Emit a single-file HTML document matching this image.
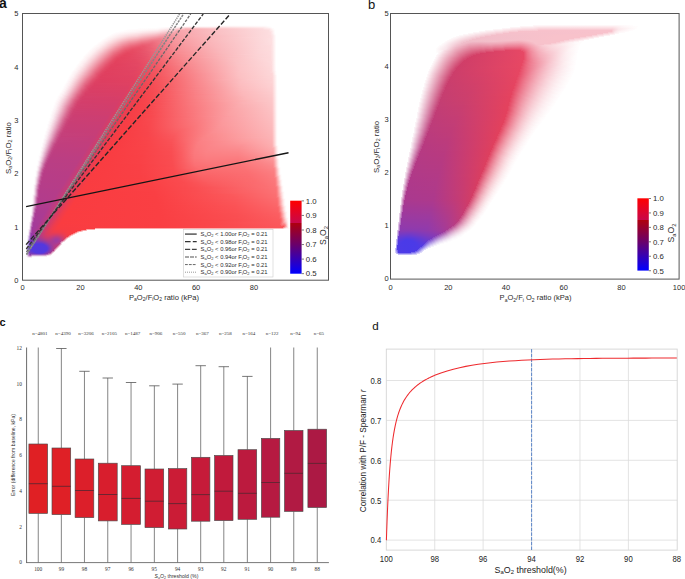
<!DOCTYPE html><html><head><meta charset="utf-8"><style>html,body{margin:0;padding:0;background:#fff;width:685px;height:579px;overflow:hidden;position:relative}svg{display:block;position:absolute;left:0;top:0}text{font-family:"Liberation Sans",sans-serif}i{position:absolute;display:block;height:1px}</style></head><body>
<i style="left:216px;top:25px;width:51px;background:linear-gradient(90deg,#fffbfb 0.5px,#fffdfe 50.5px)"></i>
<i style="left:170px;top:26px;width:101px;background:linear-gradient(90deg,#fffdfe 0.5px,#fef7f7 19.5px,#fef8f9 45.5px,#feeeef 47.5px,#fef7f7 94.5px,#fffdfd 100.5px)"></i>
<i style="left:157px;top:27px;width:115px;background:linear-gradient(90deg,#fffdfe 0.5px,#fef6f7 15.5px,#fde7e8 23.5px,#fde5e7 26.5px,#fcdee1 27.5px,#fcdcdf 30.5px,#fde4e6 58.5px,#fcdbdd 61.5px,#feebec 106.5px,#fffbfc 114.5px)"></i>
<i style="left:138px;top:28px;width:136px;background:linear-gradient(90deg,#fffdfd 0.5px,#fefbfb 19.5px,#fef5f6 24.5px,#fdedef 33.5px,#fcd8db 39.5px,#fbd6d9 40.5px,#fbced2 41.5px,#fbccd0 43.5px,#fbcdd1 45.5px,#fabcc0 47.5px,#fbcbce 78.5px,#fbcbce 84.5px,#fddfe1 124.5px,#fde6e8 126.5px,#feeced 131.5px,#fff9fa 134.5px,#fffbfb 135.5px)"></i>
<i style="left:127px;top:29px;width:148px;background:linear-gradient(90deg,#fffdfe 0.5px,#fffbfb 11.5px,#fef5f6 30.5px,#fdedef 34.5px,#fce1e4 43.5px,#fcdde0 45.5px,#fbd2d6 47.5px,#fac2c7 49.5px,#fac1c6 51.5px,#f9b3b8 53.5px,#f9b6bb 57.5px,#f9adb2 58.5px,#fcd9dc 132.5px,#fcdbdd 135.5px,#fddfe1 137.5px,#fde4e6 142.5px,#fffafa 146.5px,#fffdfd 147.5px)"></i>
<i style="left:124px;top:30px;width:151px;background:linear-gradient(90deg,#fffdfd 0.5px,#fef7f8 14.5px,#fdedef 33.5px,#fce5e8 36.5px,#fbd5da 45.5px,#fac9ce 49.5px,#f8b0b7 52.5px,#f8acb3 53.5px,#f8aeb4 55.5px,#f8a7ad 56.5px,#fac0c4 92.5px,#fcdddf 144.5px,#fffbfb 150.5px)"></i>
<i style="left:119px;top:31px;width:156px;background:linear-gradient(90deg,#fffdfe 0.5px,#fef5f7 16.5px,#fdeef0 23.5px,#fce2e6 38.5px,#fad6db 43.5px,#f9cacf 49.5px,#f8b9bf 54.5px,#f7abb2 56.5px,#f7a3aa 58.5px,#fabdc1 93.5px,#fcdddf 149.5px,#fde6e8 152.5px,#fffbfb 155.5px)"></i>
<i style="left:115px;top:32px;width:160px;background:linear-gradient(90deg,#fffdfe 0.5px,#fdf2f3 16.5px,#fdedef 23.5px,#fce7ea 27.5px,#fbdade 40.5px,#fad2d7 44.5px,#f9c9cf 47.5px,#f8c1c7 51.5px,#f7adb4 57.5px,#f7a5ac 60.5px,#f7a1a8 61.5px,#fabcc0 95.5px,#fcdcde 152.5px,#fddfe1 155.5px,#fffafb 159.5px)"></i>
<i style="left:113px;top:33px;width:162px;background:linear-gradient(90deg,#fffcfd 0.5px,#fdebed 18.5px,#fce2e6 26.5px,#fbdee2 28.5px,#f9ced4 42.5px,#f8c5cc 46.5px,#f8c0c7 47.5px,#f7b8c0 51.5px,#f6a6ae 57.5px,#f6a0a8 60.5px,#f7a2a9 61.5px,#f7a0a7 63.5px,#fabcc0 98.5px,#fcdcde 154.5px,#fddfe1 157.5px,#fff9fa 161.5px)"></i>
<i style="left:111px;top:34px;width:165px;background:linear-gradient(90deg,#fffcfd 0.5px,#fce3e6 20.5px,#fbdde1 26.5px,#fad4d9 30.5px,#f8c2c9 43.5px,#f6acb5 52.5px,#f5a4ad 56.5px,#f69ca4 60.5px,#f7a1a7 66.5px,#fabcc0 102.5px,#fcdcde 156.5px,#fddfe1 159.5px,#fde8ea 161.5px,#fff8f8 163.5px,#fffdfd 164.5px)"></i>
<i style="left:109px;top:35px;width:167px;background:linear-gradient(90deg,#fffdfd 0.5px,#fbe1e5 17.5px,#fad6da 27.5px,#f8c9cf 33.5px,#f7bbc3 41.5px,#f6b2bb 47.5px,#f5a9b3 50.5px,#f49aa4 57.5px,#f597a0 62.5px,#f9acb1 82.5px,#fcdadc 154.5px,#fddddf 161.5px,#fde7e8 163.5px,#fffafb 166.5px)"></i>
<i style="left:107px;top:36px;width:169px;background:linear-gradient(90deg,#fffdfd 0.5px,#fdecee 10.5px,#f9d1d6 24.5px,#f9ccd2 29.5px,#f7bcc4 35.5px,#f5adb7 44.5px,#f4a3ae 49.5px,#f39ca7 52.5px,#f4929c 60.5px,#f9abb0 84.5px,#fcdadc 156.5px,#fddddf 163.5px,#fde5e7 165.5px,#fffafb 168.5px)"></i>
<i style="left:105px;top:37px;width:171px;background:linear-gradient(90deg,#fffdfd 0.5px,#fdf2f3 7.5px,#f9cad0 24.5px,#f7bdc5 32.5px,#f5afb8 38.5px,#f4a3ae 44.5px,#f39faa 46.5px,#f295a2 52.5px,#f2909c 55.5px,#f38d98 60.5px,#f9a5ab 80.5px,#fcd3d6 145.5px,#fddddf 165.5px,#fde5e7 167.5px,#fffafb 170.5px)"></i>
<i style="left:104px;top:38px;width:172px;background:linear-gradient(90deg,#fffdfd 0.5px,#fceaec 9.5px,#f8c1c8 24.5px,#f6b2bb 33.5px,#f5a8b2 36.5px,#f4a2ad 39.5px,#f2929e 48.5px,#f18593 55.5px,#f38b96 62.5px,#f8a1a6 77.5px,#fabec1 115.5px,#fcdbdd 161.5px,#fddfe1 167.5px,#fffafb 171.5px)"></i>
<i style="left:102px;top:39px;width:174px;background:linear-gradient(90deg,#fffdfd 0.5px,#fdeef0 8.5px,#f8c7ce 20.5px,#f6b6be 26.5px,#f4a5af 35.5px,#f39ba7 38.5px,#f2909d 45.5px,#f08593 49.5px,#f08290 54.5px,#f0808d 58.5px,#f89ba1 75.5px,#fabbbf 113.5px,#fcdbdd 163.5px,#fddfe1 169.5px,#fffafb 173.5px)"></i>
<i style="left:101px;top:40px;width:175px;background:linear-gradient(90deg,#fffdfd 0.5px,#fef3f5 5.5px,#fadade 13.5px,#f7bbc3 22.5px,#f5aab3 28.5px,#f39da8 35.5px,#f18d9a 40.5px,#ef7a8a 51.5px,#ef7a89 57.5px,#f8999f 75.5px,#fababd 113.5px,#fcdadc 163.5px,#fddfe1 170.5px,#fffafa 174.5px)"></i>
<i style="left:100px;top:41px;width:176px;background:linear-gradient(90deg,#fffdfd 0.5px,#fdecee 7.5px,#fad3d8 14.5px,#f5b0b9 23.5px,#f39faa 28.5px,#f296a2 33.5px,#f1919e 35.5px,#f08795 39.5px,#ef8190 41.5px,#ee7282 52.5px,#ef7988 59.5px,#f7959c 74.5px,#fab7bb 111.5px,#fcdadc 164.5px,#fddfe0 171.5px,#fffafa 175.5px)"></i>
<i style="left:98px;top:42px;width:178px;background:linear-gradient(90deg,#fffdfd 0.5px,#fef3f5 5.5px,#fad4d9 14.5px,#f5acb6 23.5px,#f1929f 31.5px,#f18b99 35.5px,#ef7d8c 41.5px,#ee7686 43.5px,#ed6c7e 54.5px,#f17d8a 63.5px,#f8979d 78.5px,#fab9bd 117.5px,#fcd9db 165.5px,#fddfe0 173.5px,#fffafa 177.5px)"></i>
<i style="left:97px;top:43px;width:179px;background:linear-gradient(90deg,#fffdfd 0.5px,#fef3f5 5.5px,#fad5da 13.5px,#f39fab 25.5px,#f08695 32.5px,#ef7d8d 37.5px,#ec6b7d 45.5px,#ec677a 54.5px,#f79298 76.5px,#fab4b8 112.5px,#fcd9db 166.5px,#fddee0 174.5px,#fffafa 178.5px)"></i>
<i style="left:96px;top:44px;width:180px;background:linear-gradient(90deg,#fffdfd 0.5px,#fdecee 7.5px,#f5b1ba 20.5px,#f194a1 26.5px,#ee7a8a 34.5px,#ed7385 38.5px,#eb6275 46.5px,#eb6376 53.5px,#f79197 77.5px,#fab4b8 114.5px,#fcd8db 166.5px,#fddee0 175.5px,#fffafa 179.5px)"></i>
<i style="left:94px;top:45px;width:182px;background:linear-gradient(90deg,#fffdfd 0.5px,#fef4f5 5.5px,#fbe3e6 10.5px,#f08796 29.5px,#ed6f81 36.5px,#ec677a 41.5px,#ea5b70 48.5px,#eb6074 55.5px,#f78e95 78.5px,#fab0b5 112.5px,#fcd8da 167.5px,#fddbdd 176.5px,#fde4e6 178.5px,#fffafa 181.5px)"></i>
<i style="left:93px;top:46px;width:183px;background:linear-gradient(90deg,#fffdfd 0.5px,#fef4f5 5.5px,#fad8dd 12.5px,#f3a3ae 22.5px,#ee7c8d 30.5px,#eb6578 38.5px,#ea5a6f 45.5px,#e9576c 50.5px,#ed6b7d 62.5px,#f78e94 80.5px,#fab5b9 120.5px,#fcd8da 169.5px,#fddbdd 177.5px,#fde4e6 179.5px,#fffafa 182.5px)"></i>
<i style="left:92px;top:47px;width:184px;background:linear-gradient(90deg,#fffdfd 0.5px,#fdedef 7.5px,#f9d1d7 13.5px,#f29aa7 23.5px,#ec7082 32.5px,#ea5c71 39.5px,#e9546a 46.5px,#e9586d 53.5px,#f78e94 82.5px,#fab7bb 124.5px,#fcd7da 169.5px,#fddbdd 178.5px,#fde4e5 180.5px,#fffafa 183.5px)"></i>
<i style="left:91px;top:48px;width:185px;background:linear-gradient(90deg,#fffdfd 0.5px,#fcecee 7.5px,#f8cbd1 14.5px,#f08b9a 25.5px,#eb677a 33.5px,#e8546a 41.5px,#e85167 48.5px,#ea6175 60.5px,#f78c92 82.5px,#fab5b9 124.5px,#fcd7d9 170.5px,#fddbdd 179.5px,#fde4e5 181.5px,#fffafa 184.5px)"></i>
<i style="left:90px;top:49px;width:186px;background:linear-gradient(90deg,#fffdfd 0.5px,#fdeef0 6.5px,#fad9de 11.5px,#f29eab 21.5px,#eb6c7f 31.5px,#e95d72 35.5px,#e84e65 42.5px,#e85067 50.5px,#ed687a 65.5px,#f78c92 84.5px,#fab6ba 127.5px,#fcd7d9 170.5px,#fddbdd 180.5px,#fde4e5 182.5px,#fffafa 185.5px)"></i>
<i style="left:89px;top:50px;width:187px;background:linear-gradient(90deg,#fffcfc 0.5px,#fdf1f3 5.5px,#f9d4d9 12.5px,#ef8595 25.5px,#ea6378 32.5px,#e8556b 36.5px,#e74b63 43.5px,#e85269 53.5px,#f06f7e 70.5px,#f88d93 87.5px,#fab7bb 130.5px,#fcd6d8 171.5px,#fddbdc 181.5px,#fde4e5 183.5px,#fffafa 186.5px)"></i>
<i style="left:88px;top:51px;width:188px;background:linear-gradient(90deg,#fffdfd 0.5px,#fdeef0 6.5px,#f7c7cf 14.5px,#ee8192 25.5px,#e95d72 33.5px,#e74e66 38.5px,#e64a62 44.5px,#e8576d 58.5px,#f7898f 86.5px,#fab6ba 130.5px,#fcd6d8 172.5px,#fddadc 182.5px,#fde3e5 184.5px,#fffafa 187.5px)"></i>
<i style="left:87px;top:52px;width:189px;background:linear-gradient(90deg,#fffdfd 0.5px,#fdeef0 6.5px,#f7c6ce 14.5px,#ed798b 26.5px,#e96176 31.5px,#e96075 32.5px,#e7536a 35.5px,#e64961 40.5px,#e64a62 47.5px,#e95c71 63.5px,#f7858b 85.5px,#fab5b8 130.5px,#fcd5d8 172.5px,#fddadc 183.5px,#fde3e5 185.5px,#fffafa 188.5px)"></i>
<i style="left:86px;top:53px;width:190px;background:linear-gradient(90deg,#fffdfd 0.5px,#fdf1f3 5.5px,#fadbe0 10.5px,#f29fac 20.5px,#eb7184 27.5px,#e8586f 33.5px,#e64c64 37.5px,#e5465f 41.5px,#e75169 57.5px,#f16e7a 74.5px,#f88b90 91.5px,#fab8bc 136.5px,#fcd5d7 173.5px,#fddadc 184.5px,#fde3e5 186.5px,#fffafa 189.5px)"></i>
<i style="left:85px;top:54px;width:191px;background:linear-gradient(90deg,#fffdfd 0.5px,#fdeef0 6.5px,#f8d0d7 12.5px,#e9657a 29.5px,#e75169 34.5px,#e54760 39.5px,#e54660 45.5px,#e8566d 62.5px,#f77e84 84.5px,#f99da2 110.5px,#fccbce 159.5px,#fddadc 185.5px,#fde3e4 187.5px,#fffafa 190.5px)"></i>
<i style="left:84px;top:55px;width:192px;background:linear-gradient(90deg,#fffdfd 0.5px,#fdeef0 6.5px,#f7c9d1 13.5px,#e96378 29.5px,#e64c65 35.5px,#e5445e 40.5px,#e64e67 57.5px,#ee6474 72.5px,#f78187 88.5px,#fab5b8 135.5px,#fcd4d6 174.5px,#fddadc 186.5px,#fde3e4 188.5px,#fffafa 191.5px)"></i>
<i style="left:83px;top:56px;width:193px;background:linear-gradient(90deg,#fffdfd 0.5px,#fdeef0 6.5px,#f9d5db 11.5px,#f19caa 20.5px,#e96278 29.5px,#e65069 33.5px,#e54660 38.5px,#e5455f 45.5px,#e7536b 63.5px,#f6767d 83.5px,#f89095 102.5px,#fbbfc3 148.5px,#fcd7d9 180.5px,#fdd9db 187.5px,#fde3e4 189.5px,#fffafa 192.5px)"></i>
<i style="left:83px;top:57px;width:193px;background:linear-gradient(90deg,#fffcfc 0.5px,#fce9ec 6.5px,#f8d0d7 11.5px,#e86178 28.5px,#e54b65 33.5px,#e4435e 38.5px,#e54b65 56.5px,#ec5d6f 70.5px,#f77a80 86.5px,#faa7ab 123.5px,#fcd0d2 169.5px,#fdd9db 187.5px,#fde3e4 189.5px,#fffafa 192.5px)"></i>
<i style="left:82px;top:58px;width:194px;background:linear-gradient(90deg,#fffdfd 0.5px,#fceef0 5.5px,#f8d0d7 11.5px,#ea6c82 26.5px,#e54e67 32.5px,#e44560 35.5px,#e4435e 42.5px,#e64f68 61.5px,#f36873 78.5px,#f8868c 97.5px,#fbbec1 148.5px,#fcd6d8 180.5px,#fdd9db 188.5px,#fde2e4 190.5px,#fffafa 193.5px)"></i>
<i style="left:81px;top:59px;width:195px;background:linear-gradient(90deg,#fffdfd 0.5px,#fdeff2 5.5px,#f6c4cc 13.5px,#ea6c81 26.5px,#e54e67 32.5px,#e4435e 36.5px,#e44862 54.5px,#ea576b 69.5px,#f67077 84.5px,#f88d93 105.5px,#fbc1c4 153.5px,#fdd7d9 184.5px,#fdd9db 189.5px,#fde2e4 191.5px,#fffafa 194.5px)"></i>
<i style="left:80px;top:60px;width:196px;background:linear-gradient(90deg,#fffdfd 0.5px,#fdf0f2 5.5px,#f8d0d7 11.5px,#e96b81 26.5px,#e54d67 32.5px,#e3425e 36.5px,#e44762 54.5px,#e9546a 69.5px,#f56b73 83.5px,#f8898e 103.5px,#fbc1c4 154.5px,#fdd7d9 185.5px,#fdd9da 190.5px,#fde2e3 192.5px,#fffafa 195.5px)"></i>
<i style="left:79px;top:61px;width:197px;background:linear-gradient(90deg,#fffdfd 0.5px,#fcecef 6.5px,#f8d1d8 11.5px,#e96b81 26.5px,#e54d67 32.5px,#e3425e 36.5px,#e44662 55.5px,#e95268 69.5px,#f56871 83.5px,#f8888d 104.5px,#fbc2c4 156.5px,#fdd7d9 187.5px,#fddbdd 192.5px,#fffafa 196.5px)"></i>
<i style="left:79px;top:62px;width:197px;background:linear-gradient(90deg,#fffcfc 0.5px,#fcedef 5.5px,#f8d2d9 10.5px,#e96a81 25.5px,#e44c67 31.5px,#e3415e 36.5px,#e44863 58.5px,#eb5468 71.5px,#f66971 84.5px,#f8898e 106.5px,#fbc3c6 158.5px,#fdd7d9 188.5px,#fddbdd 192.5px,#fffafa 196.5px)"></i>
<i style="left:78px;top:63px;width:198px;background:linear-gradient(90deg,#fffdfd 0.5px,#fdf0f3 4.5px,#f9d9df 9.5px,#e96a81 25.5px,#e44c67 31.5px,#e2415e 36.5px,#e34763 59.5px,#eb5467 72.5px,#f5666e 84.5px,#f8898e 108.5px,#fbc4c7 160.5px,#fdd7d9 190.5px,#fddbdd 193.5px,#fffafa 197.5px)"></i>
<i style="left:77px;top:64px;width:199px;background:linear-gradient(90deg,#fffdfd 0.5px,#fdeff1 5.5px,#f6c7cf 12.5px,#ea778c 23.5px,#e5546e 29.5px,#e34360 34.5px,#e2405e 40.5px,#e44965 63.5px,#f35d68 80.5px,#f77e84 101.5px,#fbc2c4 159.5px,#fdd6d8 189.5px,#fdd8da 193.5px,#fde1e3 195.5px,#fffafa 198.5px)"></i>
<i style="left:76px;top:65px;width:200px;background:linear-gradient(90deg,#fffdfd 0.5px,#fdf0f2 5.5px,#f9dae0 9.5px,#f2abb8 16.5px,#ea778c 23.5px,#e5546f 29.5px,#e24360 34.5px,#e2405e 40.5px,#e44964 64.5px,#f35c67 81.5px,#f8868b 109.5px,#fcc3c6 162.5px,#fdd7d9 192.5px,#fddadc 195.5px,#fffafa 199.5px)"></i>
<i style="left:76px;top:66px;width:200px;background:linear-gradient(90deg,#fffcfc 0.5px,#fbe8eb 6.5px,#f5c1cb 12.5px,#e86a81 24.5px,#e34c67 30.5px,#e2405e 35.5px,#e34663 60.5px,#ec5163 73.5px,#f56068 84.5px,#f8898f 113.5px,#fcc4c6 163.5px,#fdd7d9 193.5px,#fddadc 195.5px,#fffafa 199.5px)"></i>
<i style="left:75px;top:67px;width:201px;background:linear-gradient(90deg,#fffdfd 0.5px,#fdf0f2 4.5px,#f9d8de 9.5px,#e86a81 24.5px,#e34b68 30.5px,#e1405e 35.5px,#e24562 60.5px,#eb4f62 73.5px,#f55e66 84.5px,#f88b90 116.5px,#fcc3c6 164.5px,#fdd7d8 194.5px,#fddadc 196.5px,#fff9fa 200.5px)"></i>
<i style="left:74px;top:68px;width:202px;background:linear-gradient(90deg,#fffdfd 0.5px,#fceef1 5.5px,#f7ccd4 11.5px,#e86a82 24.5px,#e34b68 30.5px,#e1405e 35.5px,#e24562 61.5px,#eb4f61 74.5px,#f55d65 85.5px,#f88d92 119.5px,#fcc3c6 165.5px,#fdd6d8 195.5px,#fddadb 197.5px,#fff9fa 201.5px)"></i>
<i style="left:74px;top:69px;width:202px;background:linear-gradient(90deg,#fefcfc 0.5px,#fcebee 5.5px,#f6c7d0 11.5px,#ea798e 21.5px,#e4546f 27.5px,#e14361 32.5px,#e13f5e 38.5px,#e34763 65.5px,#f45861 82.5px,#f98e93 121.5px,#fcc3c6 165.5px,#fdd6d8 195.5px,#fdd9db 197.5px,#fff9fa 201.5px)"></i>
<i style="left:73px;top:70px;width:203px;background:linear-gradient(90deg,#fffcfd 0.5px,#fdf4f6 3.5px,#f8d5dc 9.5px,#f0a1b0 16.5px,#e86b83 23.5px,#e24b68 29.5px,#e1405f 34.5px,#e14463 62.5px,#f3545f 81.5px,#f6646b 92.5px,#f99b9f 133.5px,#fcc3c6 167.5px,#fdd6d8 197.5px,#fdd9db 198.5px,#fff9fa 202.5px)"></i>
<i style="left:72px;top:71px;width:205px;background:linear-gradient(90deg,#fffcfd 0.5px,#fcedf0 5.5px,#f6c9d2 11.5px,#e76c84 23.5px,#e24b68 29.5px,#e0405f 33.5px,#e14362 60.5px,#e84a60 72.5px,#f5565f 84.5px,#f99397 128.5px,#fcc2c5 167.5px,#fdd5d7 197.5px,#fdd9da 199.5px,#fffdfe 204.5px)"></i>
<i style="left:71px;top:72px;width:206px;background:linear-gradient(90deg,#fffdfe 0.5px,#fceef1 5.5px,#f7d0d8 10.5px,#ed8ea0 19.5px,#e6667f 24.5px,#e24b69 29.5px,#e04060 33.5px,#e14362 61.5px,#e9495f 73.5px,#f5565e 85.5px,#f99398 130.5px,#fcc2c4 168.5px,#fdd5d7 198.5px,#fddcde 201.5px,#fff8f8 204.5px,#fffdfd 205.5px)"></i>
<i style="left:71px;top:73px;width:206px;background:linear-gradient(90deg,#fffcfd 0.5px,#fdf3f5 3.5px,#f9dae0 8.5px,#e45a75 25.5px,#e14463 30.5px,#e03f5f 35.5px,#e24562 66.5px,#f4535c 83.5px,#f77278 105.5px,#fcc0c3 167.5px,#fdd4d6 197.5px,#fdd5d7 200.5px,#fdd9db 201.5px,#fff7f7 204.5px,#fffdfd 205.5px)"></i>
<i style="left:70px;top:74px;width:207px;background:linear-gradient(90deg,#fffdfe 0.5px,#fcecef 5.5px,#f4bfca 12.5px,#e87289 22.5px,#e35572 26.5px,#e04464 30.5px,#e03f5f 34.5px,#e24462 66.5px,#f4515b 83.5px,#f7656c 98.5px,#f9969b 135.5px,#fcc0c3 168.5px,#fdd4d6 198.5px,#fdd5d7 201.5px,#fdd9da 202.5px,#fff6f6 205.5px,#fffcfc 206.5px)"></i>
<i style="left:69px;top:75px;width:208px;background:linear-gradient(90deg,#fffdfe 0.5px,#fdf3f5 4.5px,#f8d5dc 9.5px,#efa1b1 16.5px,#e76b84 23.5px,#e14867 29.5px,#df3f60 33.5px,#e14362 65.5px,#f4515a 84.5px,#f76c72 104.5px,#fcc0c2 169.5px,#fdd4d5 199.5px,#fdd5d6 202.5px,#fdd8da 203.5px,#fff9f9 207.5px)"></i>
<i style="left:69px;top:76px;width:208px;background:linear-gradient(90deg,#fffcfd 0.5px,#fdf0f3 4.5px,#f6c9d2 10.5px,#e66b84 22.5px,#e14b69 28.5px,#df4060 31.5px,#e04262 62.5px,#ed495a 76.5px,#f6525a 86.5px,#f99196 133.5px,#fcc0c3 170.5px,#fdd3d5 200.5px,#fdd7d9 203.5px,#fff9f9 207.5px)"></i>
<i style="left:68px;top:77px;width:209px;background:linear-gradient(90deg,#fffdfe 0.5px,#fcedf0 5.5px,#f8d3db 9.5px,#e66c85 22.5px,#e14b6a 28.5px,#df3f60 32.5px,#e04262 65.5px,#f44e58 83.5px,#f65d64 96.5px,#f98d92 131.5px,#fcc0c2 171.5px,#fdd3d5 200.5px,#fdd4d6 203.5px,#fdd7d9 204.5px,#fff9f9 208.5px)"></i>
<i style="left:68px;top:78px;width:209px;background:linear-gradient(90deg,#fffcfd 0.5px,#fdf2f5 3.5px,#f8d6dd 8.5px,#e97b92 19.5px,#e25472 25.5px,#df4263 30.5px,#df3e60 36.5px,#e14261 66.5px,#f44e57 83.5px,#f76167 99.5px,#f98c91 131.5px,#fcbfc2 171.5px,#fdd2d4 200.5px,#fdd3d5 203.5px,#fdd7d8 204.5px,#fff9f9 208.5px)"></i>
<i style="left:67px;top:79px;width:210px;background:linear-gradient(90deg,#fffdfe 0.5px,#fcebef 5.5px,#f4c1cc 11.5px,#e97c93 19.5px,#e25472 25.5px,#df4465 29.5px,#de3e60 33.5px,#e14261 66.5px,#f44c56 83.5px,#f65c63 97.5px,#f98a8f 131.5px,#fbb0b3 159.5px,#fcc6c9 181.5px,#fdd3d5 204.5px,#fdd6d8 205.5px,#fff9f9 209.5px)"></i>
<i style="left:67px;top:80px;width:210px;background:linear-gradient(90deg,#fefcfd 0.5px,#fdf2f4 3.5px,#f9dbe1 7.5px,#e66e88 20.5px,#e1506f 25.5px,#df4263 29.5px,#de3e60 35.5px,#e04161 65.5px,#f44c55 83.5px,#f76066 100.5px,#f9898e 130.5px,#fba9ad 155.5px,#fcc2c4 176.5px,#fdd2d4 204.5px,#fdd6d7 205.5px,#fff9f9 209.5px)"></i>
<i style="left:66px;top:81px;width:211px;background:linear-gradient(90deg,#fffdfe 0.5px,#fbeaee 5.5px,#f5c6d0 10.5px,#e66f89 20.5px,#e15070 25.5px,#de4264 29.5px,#de3e61 35.5px,#e04161 66.5px,#f44b54 83.5px,#f65a61 97.5px,#f9888d 131.5px,#faa7aa 155.5px,#fcbfc2 175.5px,#fdd2d3 204.5px,#fdd5d7 206.5px,#fff9f9 210.5px)"></i>
<i style="left:66px;top:82px;width:211px;background:linear-gradient(90deg,#fefcfc 0.5px,#fdf1f4 3.5px,#f8d9e0 7.5px,#e6718b 19.5px,#e05170 24.5px,#de4264 28.5px,#dd3e61 34.5px,#df4161 65.5px,#f44a53 82.5px,#f6565c 94.5px,#f9888d 131.5px,#faa5a8 154.5px,#fcbec1 174.5px,#fdd1d3 203.5px,#fdd5d6 206.5px,#fff9f9 210.5px)"></i>
<i style="left:65px;top:83px;width:212px;background:linear-gradient(90deg,#fffdfd 0.5px,#fbeaed 5.5px,#f3bbc7 11.5px,#e6718b 19.5px,#df4c6d 25.5px,#dd4063 29.5px,#df4162 65.5px,#f44952 83.5px,#f75960 98.5px,#f9868b 131.5px,#faa2a6 154.5px,#fcbdc0 175.5px,#fdd0d2 204.5px,#fdd1d3 206.5px,#fdd4d6 207.5px,#fff9f9 211.5px)"></i>
<i style="left:64px;top:84px;width:213px;background:linear-gradient(90deg,#fffdfe 0.5px,#fcf1f4 4.5px,#f8d8df 8.5px,#ec99ac 15.5px,#e36481 21.5px,#de496b 26.5px,#dc3f63 30.5px,#df4162 66.5px,#f44852 83.5px,#f6555c 96.5px,#f9868b 132.5px,#faa2a5 155.5px,#fcbdbf 176.5px,#fdd0d1 205.5px,#fdd0d2 207.5px,#fdd4d5 208.5px,#fff9f9 212.5px)"></i>
<i style="left:64px;top:85px;width:213px;background:linear-gradient(90deg,#fffdfd 0.5px,#fbe9ed 5.5px,#f4c2cd 10.5px,#e46e89 19.5px,#e05777 22.5px,#dd4568 26.5px,#dc3e63 30.5px,#de4062 65.5px,#f44751 82.5px,#f65158 93.5px,#f9868b 133.5px,#faa1a5 155.5px,#fcbcbf 176.5px,#fdcfd1 205.5px,#fdd0d2 207.5px,#fdd3d5 208.5px,#fff8f9 212.5px)"></i>
<i style="left:63px;top:86px;width:214px;background:linear-gradient(90deg,#fffdfe 0.5px,#fdf5f7 3.5px,#f7d6de 8.5px,#e8839b 17.5px,#e05979 22.5px,#dd496c 25.5px,#db3f64 29.5px,#dd4063 65.5px,#f44750 83.5px,#f6545b 97.5px,#f98489 132.5px,#fa9fa2 155.5px,#fcbabd 176.5px,#fdced0 205.5px,#fdcfd1 208.5px,#fdd3d4 209.5px,#fff8f9 213.5px)"></i>
<i style="left:63px;top:87px;width:214px;background:linear-gradient(90deg,#fffdfd 0.5px,#fcedf1 4.5px,#f3c0cc 10.5px,#e5738f 18.5px,#dd496d 24.5px,#db3f64 28.5px,#dc4063 64.5px,#f44650 82.5px,#f65057 94.5px,#f98489 133.5px,#fa9fa3 156.5px,#fcbbbd 177.5px,#fdced0 206.5px,#fdced0 208.5px,#fdd2d4 209.5px,#fff8f9 213.5px)"></i>
<i style="left:62px;top:88px;width:215px;background:linear-gradient(90deg,#fffdfe 0.5px,#fdf5f7 3.5px,#f7d4dd 8.5px,#e36e8a 19.5px,#de5375 23.5px,#db4267 26.5px,#da3e64 31.5px,#dc4063 65.5px,#f4454f 82.5px,#f64d54 92.5px,#f86d73 116.5px,#f9888d 138.5px,#faa2a5 159.5px,#fcbcbe 180.5px,#fdced0 209.5px,#fdd1d3 210.5px,#fff8f8 214.5px)"></i>
<i style="left:62px;top:89px;width:215px;background:linear-gradient(90deg,#fffdfd 0.5px,#fbedf0 4.5px,#f4c6d1 9.5px,#e16785 19.5px,#dc4d71 23.5px,#da3f65 27.5px,#dc4064 64.5px,#f4454f 82.5px,#f64f56 94.5px,#f98388 133.5px,#fa9da0 156.5px,#fcb9bc 178.5px,#fdccce 207.5px,#fdcdcf 209.5px,#fdd1d3 210.5px,#fff8f8 214.5px)"></i>
<i style="left:61px;top:90px;width:217px;background:linear-gradient(90deg,#fffdfe 0.5px,#fdf5f7 3.5px,#f6d3dc 8.5px,#e06181 20.5px,#db4a6e 24.5px,#d93f66 28.5px,#db3f64 64.5px,#f4444e 82.5px,#f64d54 93.5px,#f86d73 117.5px,#f9878c 139.5px,#faa0a4 160.5px,#fcbabd 181.5px,#fdcdcf 210.5px,#fdd0d2 211.5px,#fff8f8 215.5px,#fffdfe 216.5px)"></i>
<i style="left:61px;top:91px;width:217px;background:linear-gradient(90deg,#fffdfd 0.5px,#fbecf0 4.5px,#f3c4d0 9.5px,#e47692 17.5px,#dd5577 21.5px,#d94369 25.5px,#d93e66 30.5px,#db3f64 64.5px,#f4444d 82.5px,#f64e55 95.5px,#f98287 134.5px,#fa9b9f 157.5px,#fcb7ba 179.5px,#fccbcd 208.5px,#fdccce 210.5px,#fdd0d1 211.5px,#fff8f8 215.5px,#fffdfe 216.5px)"></i>
<i style="left:60px;top:92px;width:218px;background:linear-gradient(90deg,#fffdfd 0.5px,#fdf4f7 3.5px,#f6d1db 8.5px,#e6829c 16.5px,#dc5074 22.5px,#d9436a 25.5px,#d83e66 30.5px,#da3f65 64.5px,#f4444d 82.5px,#f64b52 93.5px,#f8696f 116.5px,#f98489 138.5px,#fa9ea2 160.5px,#fcb8bb 182.5px,#fdcbcd 211.5px,#fdcfd1 212.5px,#fff8f8 216.5px,#fffdfe 217.5px)"></i>
<i style="left:59px;top:93px;width:219px;background:linear-gradient(90deg,#fffdfe 0.5px,#fcf1f4 4.5px,#f8dde4 7.5px,#eeadbf 12.5px,#e2728f 18.5px,#db4e73 23.5px,#d84068 26.5px,#d93f66 64.5px,#f4434d 82.5px,#f64950 92.5px,#f86369 113.5px,#f98186 136.5px,#fa9ca0 160.5px,#fcb8ba 183.5px,#fdcbcd 212.5px,#fdced0 213.5px,#fff8f8 217.5px,#fffdfd 218.5px)"></i>
<i style="left:59px;top:94px;width:219px;background:linear-gradient(90deg,#fffdfd 0.5px,#fae7ec 5.5px,#f5d0da 8.5px,#e892a9 14.5px,#e06b8a 18.5px,#da4f74 22.5px,#d73f68 26.5px,#d93f65 64.5px,#f4434c 82.5px,#f64b52 94.5px,#f86e73 120.5px,#fa8b90 147.5px,#fcb6b9 182.5px,#fccacc 212.5px,#fdced0 213.5px,#fff8f8 217.5px,#fffdfd 218.5px)"></i>
<i style="left:58px;top:95px;width:220px;background:linear-gradient(90deg,#fffdfd 0.5px,#fdf4f7 3.5px,#f6d2dc 8.5px,#edabbd 12.5px,#df6486 19.5px,#d94b71 23.5px,#d73f68 27.5px,#d93f66 64.5px,#f4424c 82.5px,#f6484f 92.5px,#f86268 113.5px,#f98085 137.5px,#fa9b9f 161.5px,#fcb7ba 185.5px,#fcc9cb 213.5px,#fdcdcf 214.5px,#fff8f8 218.5px,#fffdfd 219.5px)"></i>
<i style="left:57px;top:96px;width:221px;background:linear-gradient(90deg,#fffdfe 0.5px,#fcf1f4 4.5px,#fae5eb 6.5px,#eca5b8 13.5px,#dd5f81 20.5px,#d94b72 23.5px,#d6406a 26.5px,#d83f67 64.5px,#f5424b 83.5px,#f74a51 96.5px,#f97f84 137.5px,#fa9ca0 163.5px,#fcb8ba 188.5px,#fcc9cb 214.5px,#fdcdcf 215.5px,#fff7f8 219.5px,#fffdfd 220.5px)"></i>
<i style="left:57px;top:97px;width:221px;background:linear-gradient(90deg,#fffdfd 0.5px,#fae7ec 5.5px,#f5d1db 8.5px,#df6b8c 18.5px,#d84c73 22.5px,#d6406a 25.5px,#d63e69 54.5px,#d83f67 64.5px,#f4414b 82.5px,#f7484f 93.5px,#f86268 114.5px,#f98084 138.5px,#fa9da0 164.5px,#fcb9bb 190.5px,#fcc8ca 214.5px,#fdccce 215.5px,#fff7f8 219.5px,#fffdfd 220.5px)"></i>
<i style="left:56px;top:98px;width:222px;background:linear-gradient(90deg,#fffdfe 0.5px,#fdf5f7 3.5px,#f7dbe3 7.5px,#efb7c7 11.5px,#e68ba5 15.5px,#de6688 19.5px,#d6436d 24.5px,#d53e69 28.5px,#d73f67 64.5px,#f4414b 82.5px,#f6464d 92.5px,#f75c62 111.5px,#f97d82 137.5px,#fa9b9f 164.5px,#fcb7ba 190.5px,#fcc7c9 215.5px,#fdcbcd 216.5px,#fff7f8 220.5px,#fffdfd 221.5px)"></i>
<i style="left:56px;top:99px;width:222px;background:linear-gradient(90deg,#fffdfd 0.5px,#fbecf1 4.5px,#f2c4d1 9.5px,#e99cb2 13.5px,#e27997 16.5px,#dc5e82 19.5px,#d64670 23.5px,#d53e6a 26.5px,#d63e68 63.5px,#f5414a 82.5px,#f7474e 94.5px,#f8656a 117.5px,#f98387 143.5px,#fcb5b7 188.5px,#fcc7c9 215.5px,#fdcbcd 216.5px,#fff7f8 220.5px,#fffdfd 221.5px)"></i>
<i style="left:55px;top:100px;width:223px;background:linear-gradient(90deg,#fffdfe 0.5px,#fdf4f7 3.5px,#f5d1dc 8.5px,#ecaabd 12.5px,#dc6084 19.5px,#d74c75 22.5px,#d4406c 25.5px,#d43e6a 46.5px,#d63e68 64.5px,#f4404a 82.5px,#f7464d 93.5px,#f85d63 113.5px,#f97f83 140.5px,#fba1a4 170.5px,#fcc0c2 204.5px,#fcc6c8 216.5px,#fdcacc 217.5px,#fff7f7 221.5px,#fffdfd 222.5px)"></i>
<i style="left:55px;top:101px;width:223px;background:linear-gradient(90deg,#fffdfd 0.5px,#fbecf0 4.5px,#f1c3d1 9.5px,#df6f90 17.5px,#d8537a 20.5px,#d5436f 23.5px,#d43e6b 27.5px,#d63e69 63.5px,#f4404a 81.5px,#f7444b 90.5px,#f7565d 108.5px,#f97b80 137.5px,#fb9ea1 168.5px,#fcbec0 202.5px,#fcc6c8 216.5px,#fdcacc 217.5px,#fff7f7 221.5px,#fffdfd 222.5px)"></i>
<i style="left:54px;top:102px;width:224px;background:linear-gradient(90deg,#fffdfe 0.5px,#fdf4f7 3.5px,#f4d1db 8.5px,#db6085 19.5px,#d4446f 23.5px,#d33e6b 27.5px,#d53e6a 63.5px,#f54049 82.5px,#f7464c 94.5px,#f85f65 115.5px,#f98185 144.5px,#fbb1b4 188.5px,#fcc5c7 217.5px,#fdc9cb 218.5px,#fff7f7 222.5px,#fffdfd 223.5px)"></i>
<i style="left:54px;top:103px;width:224px;background:linear-gradient(90deg,#fffdfe 0.5px,#fbecf0 4.5px,#f7dde5 6.5px,#ecacc0 11.5px,#dd6e90 17.5px,#d7527b 20.5px,#d4436f 23.5px,#d33e6c 26.5px,#d43e6a 62.5px,#eb3f52 75.5px,#f64048 83.5px,#f74b52 100.5px,#f9797e 137.5px,#fcb1b4 189.5px,#fcc5c7 217.5px,#fdc9cb 218.5px,#fff7f7 222.5px,#fffdfd 223.5px)"></i>
<i style="left:54px;top:104px;width:224px;background:linear-gradient(90deg,#fefdfd 0.5px,#fbeff3 3.5px,#f4d1dc 7.5px,#dc678c 17.5px,#d54974 21.5px,#d3406e 23.5px,#d23e6c 39.5px,#d43e6a 62.5px,#f43f49 80.5px,#f74249 89.5px,#f75359 106.5px,#f9797e 137.5px,#fbafb1 187.5px,#fcc4c6 217.5px,#fdc8ca 218.5px,#fff7f7 222.5px,#fffdfd 223.5px)"></i>
<i style="left:53px;top:105px;width:225px;background:linear-gradient(90deg,#fffdfe 0.5px,#fcf4f7 3.5px,#f7dee6 6.5px,#eeb7c9 10.5px,#e694ae 13.5px,#dc6b8f 17.5px,#d54c77 21.5px,#d23f6d 24.5px,#d33e6b 62.5px,#f53f48 81.5px,#f7444b 93.5px,#f85a60 112.5px,#f97f83 144.5px,#fbacaf 186.5px,#fcc4c6 218.5px,#fdc8ca 219.5px,#fff7f7 223.5px,#fffdfd 224.5px)"></i>
<i style="left:53px;top:106px;width:225px;background:linear-gradient(90deg,#fffdfe 0.5px,#fcf0f4 3.5px,#f7dbe4 6.5px,#e48faa 13.5px,#df7899 15.5px,#d75780 19.5px,#d24371 22.5px,#d13e6d 26.5px,#d23e6c 61.5px,#e63e57 72.5px,#f53f48 81.5px,#f7464d 96.5px,#f97a7f 140.5px,#fbabae 185.5px,#fcc3c5 218.5px,#fdc7c9 219.5px,#fff7f7 223.5px,#fffdfd 224.5px)"></i>
<i style="left:53px;top:107px;width:225px;background:linear-gradient(90deg,#fefdfd 0.5px,#fbeff3 3.5px,#f1c4d2 8.5px,#e38aa7 13.5px,#db688d 16.5px,#d5517c 19.5px,#d13f6e 23.5px,#d33e6b 61.5px,#f53f48 80.5px,#f7444b 93.5px,#f85b61 113.5px,#fba8ab 182.5px,#fcc3c5 218.5px,#fdc7c9 219.5px,#fff7f7 223.5px,#fffdfd 224.5px)"></i>
<i style="left:52px;top:108px;width:226px;background:linear-gradient(90deg,#fffdfe 0.5px,#fcf3f6 3.5px,#f4d3de 7.5px,#e79db5 12.5px,#de789a 15.5px,#d5527d 19.5px,#d14372 22.5px,#d03e6e 26.5px,#d23e6c 61.5px,#e83e54 73.5px,#f63f47 81.5px,#f7464d 97.5px,#f9777c 139.5px,#fba7aa 183.5px,#fcc2c4 219.5px,#fdc7c9 220.5px,#fff7f7 224.5px,#fffdfd 225.5px)"></i>
<i style="left:52px;top:109px;width:226px;background:linear-gradient(90deg,#fffdfe 0.5px,#fbf0f4 3.5px,#f8e3ea 5.5px,#eebacb 9.5px,#da698e 16.5px,#d24977 20.5px,#d04070 22.5px,#d03e6f 38.5px,#d13e6d 60.5px,#e33e5a 70.5px,#f53f47 80.5px,#f7454b 95.5px,#f9797e 141.5px,#fba5a8 181.5px,#fcc2c4 219.5px,#fdc6c8 220.5px,#fff7f7 224.5px,#fffdfd 225.5px)"></i>
<i style="left:52px;top:110px;width:226px;background:linear-gradient(90deg,#fefcfd 0.5px,#fbeef2 3.5px,#f2cdd9 7.5px,#de7b9c 14.5px,#d4537e 18.5px,#d04372 21.5px,#cf3e6f 24.5px,#d13e6d 60.5px,#f53e47 79.5px,#f74349 92.5px,#f8565c 110.5px,#fba4a7 180.5px,#fcc1c3 219.5px,#fdc6c8 220.5px,#fff6f7 224.5px,#fffdfd 225.5px)"></i>
<i style="left:51px;top:111px;width:227px;background:linear-gradient(90deg,#fefdfd 0.5px,#fcf3f6 3.5px,#f6dbe4 6.5px,#ecb2c5 10.5px,#da6a90 16.5px,#d14978 20.5px,#cf4071 22.5px,#cf3e70 38.5px,#d03e6e 60.5px,#e63e57 71.5px,#f63e46 80.5px,#f7454b 96.5px,#f9757a 139.5px,#fba3a6 180.5px,#fcc1c3 220.5px,#fdc5c7 221.5px,#fff6f7 225.5px,#fffdfd 226.5px)"></i>
<i style="left:51px;top:112px;width:227px;background:linear-gradient(90deg,#fefdfd 0.5px,#fbeff3 3.5px,#f5d8e2 6.5px,#e494b0 12.5px,#db7196 15.5px,#d35380 18.5px,#cf4373 21.5px,#ce3e70 24.5px,#cf3e6f 59.5px,#e23e5a 69.5px,#f43e48 78.5px,#f74047 87.5px,#f84d53 104.5px,#f97075 134.5px,#fba2a5 179.5px,#fcc0c2 220.5px,#fdc5c7 221.5px,#feddde 223.5px,#fff6f7 225.5px,#fffdfd 226.5px)"></i>
<i style="left:51px;top:113px;width:227px;background:linear-gradient(90deg,#fefcfd 0.5px,#faedf1 3.5px,#f1cad8 7.5px,#d96b92 15.5px,#d04a79 19.5px,#ce4072 21.5px,#ce3e71 33.5px,#d03e6e 59.5px,#e83e54 71.5px,#f63e46 79.5px,#f7454c 96.5px,#f97277 137.5px,#fba1a4 178.5px,#fcc0c2 220.5px,#fdc4c6 221.5px,#feddde 223.5px,#fff6f7 225.5px,#fffdfd 226.5px)"></i>
<i style="left:50px;top:114px;width:228px;background:linear-gradient(90deg,#fefdfd 0.5px,#fcf2f5 3.5px,#f2cedb 7.5px,#e495b1 12.5px,#da7297 15.5px,#d35481 18.5px,#ce4374 21.5px,#cd3e71 24.5px,#cf3e6f 59.5px,#e33e5a 69.5px,#f53e47 78.5px,#f74047 88.5px,#f84e54 105.5px,#f96f74 135.5px,#fba0a3 178.5px,#fcbfc1 221.5px,#fdc4c6 222.5px,#feddde 224.5px,#fff6f6 226.5px,#fffdfd 227.5px)"></i>
<i style="left:50px;top:115px;width:228px;background:linear-gradient(90deg,#fefdfd 0.5px,#faeef2 3.5px,#f7e0e8 5.5px,#d6628c 16.5px,#ce4476 20.5px,#cc3e72 23.5px,#ce3e70 58.5px,#df3e5e 67.5px,#f43e47 77.5px,#f73f46 85.5px,#f84a50 102.5px,#f96e73 134.5px,#fb9fa3 178.5px,#fcbfc1 221.5px,#fdc4c6 222.5px,#feddde 224.5px,#fff6f6 226.5px,#fffdfd 227.5px)"></i>
<i style="left:50px;top:116px;width:228px;background:linear-gradient(90deg,#fefdfd 0.5px,#faedf2 3.5px,#f0c7d6 7.5px,#dd7da0 13.5px,#d25482 17.5px,#cd4376 20.5px,#cc3e72 23.5px,#cd3e71 57.5px,#de3e5f 66.5px,#f43e48 76.5px,#f73f45 83.5px,#f8494f 101.5px,#f96d72 134.5px,#fb9195 164.5px,#fca9ac 191.5px,#fcbec1 221.5px,#fdc3c5 222.5px,#fedcdd 224.5px,#fff6f6 226.5px,#fffdfd 227.5px)"></i>
<i style="left:50px;top:117px;width:228px;background:linear-gradient(90deg,#fefcfd 0.5px,#faebf0 3.5px,#f1ccda 6.5px,#e49cb7 10.5px,#d86b93 14.5px,#cd4477 19.5px,#cc3e73 22.5px,#cd3e71 57.5px,#e23e5b 67.5px,#f53e47 76.5px,#f73f46 85.5px,#f84a51 102.5px,#f96e73 135.5px,#fb9da1 176.5px,#fcbec0 221.5px,#fdc3c5 222.5px,#fedcdd 224.5px,#fff6f6 226.5px,#fffdfd 227.5px)"></i>
<i style="left:49px;top:118px;width:229px;background:linear-gradient(90deg,#fefdfd 0.5px,#fbf1f5 3.5px,#f4d5e1 6.5px,#d6658f 15.5px,#d15382 17.5px,#cb3f74 21.5px,#cc3e72 57.5px,#de3e5f 66.5px,#f43d47 76.5px,#f73f45 84.5px,#f84a50 102.5px,#fa8488 155.5px,#fb9ca0 176.5px,#fcbdc0 222.5px,#fdc2c4 223.5px,#fedcdd 225.5px,#fff6f6 227.5px,#fffdfd 228.5px)"></i>
<i style="left:49px;top:119px;width:229px;background:linear-gradient(90deg,#fefdfd 0.5px,#faecf1 3.5px,#f6dde6 5.5px,#e59eb9 10.5px,#da789d 13.5px,#d15685 16.5px,#cd487b 18.5px,#cb3f74 21.5px,#cd3e71 57.5px,#e23d5a 67.5px,#f53d46 76.5px,#f74046 87.5px,#f84d53 105.5px,#fa8286 154.5px,#fb9b9f 175.5px,#fcbdbf 222.5px,#fdc2c4 223.5px,#fedcdd 225.5px,#fff6f6 227.5px,#fffdfd 228.5px)"></i>
<i style="left:49px;top:120px;width:229px;background:linear-gradient(90deg,#fefcfd 0.5px,#f9eaf0 3.5px,#eec2d3 7.5px,#d87199 13.5px,#ce4b7e 17.5px,#cb4176 19.5px,#ca3e74 26.5px,#cc3e72 56.5px,#de3e5e 65.5px,#f53d47 75.5px,#f73f45 84.5px,#f84a50 102.5px,#fa7f84 152.5px,#fb9a9e 174.5px,#fcbdbf 222.5px,#fdc1c3 223.5px,#fedbdc 225.5px,#fff6f6 227.5px,#fffdfd 228.5px)"></i>
<i style="left:48px;top:121px;width:230px;background:linear-gradient(90deg,#fefdfd 0.5px,#fbf0f4 3.5px,#f3d2df 6.5px,#e5a2bc 10.5px,#d76f97 14.5px,#d15786 16.5px,#cb4378 19.5px,#ca3e74 21.5px,#cb3e73 56.5px,#dd3e5f 65.5px,#f43d47 75.5px,#f83e45 83.5px,#f8494f 102.5px,#fa7e82 152.5px,#fb999d 174.5px,#fcbcbe 223.5px,#fdc1c3 224.5px,#fedbdc 226.5px,#fff6f6 228.5px,#fffdfd 229.5px)"></i>
<i style="left:48px;top:122px;width:230px;background:linear-gradient(90deg,#fefcfd 0.5px,#f9ebf1 3.5px,#f5dbe5 5.5px,#d56893 14.5px,#cb457a 18.5px,#c93e75 21.5px,#ca3e74 55.5px,#d93e63 63.5px,#f43d47 74.5px,#f83e44 81.5px,#f8484e 101.5px,#fa7c81 151.5px,#fb999c 174.5px,#fcbcbe 223.5px,#fdc0c2 224.5px,#fedbdc 226.5px,#fff6f6 228.5px,#fffdfd 229.5px)"></i>
<i style="left:48px;top:123px;width:230px;background:linear-gradient(90deg,#fefcfd 0.5px,#f9e9ef 3.5px,#e9b2c8 8.5px,#dd88aa 11.5px,#d05888 15.5px,#ca4479 18.5px,#c93e75 20.5px,#cb3e73 55.5px,#de3d5f 64.5px,#f53d46 74.5px,#f83e44 82.5px,#f8494f 102.5px,#fa7b7f 150.5px,#fb989b 173.5px,#fcbbbd 223.5px,#fdc0c2 224.5px,#fedadc 226.5px,#fff6f6 228.5px,#fffdfd 229.5px)"></i>
<i style="left:47px;top:124px;width:231px;background:linear-gradient(90deg,#fefcfd 0.5px,#faeff4 3.5px,#f2d2df 6.5px,#dc83a7 12.5px,#d56994 14.5px,#ca457b 18.5px,#c83e76 21.5px,#ca3e74 55.5px,#da3d63 63.5px,#f43d47 74.5px,#f83e44 81.5px,#f8484e 102.5px,#fa7a7e 150.5px,#fb989b 174.5px,#fcbbbd 224.5px,#fdc0c2 225.5px,#fedadb 227.5px,#fff5f6 229.5px,#fffdfd 230.5px)"></i>
<i style="left:47px;top:125px;width:231px;background:linear-gradient(90deg,#fefcfd 0.5px,#f9eaf0 3.5px,#f1cddc 6.5px,#e5a5bf 9.5px,#de8aac 11.5px,#d05989 15.5px,#ca447a 18.5px,#c83e76 20.5px,#c93e75 54.5px,#d93d64 62.5px,#f43d47 73.5px,#f83d44 80.5px,#f8474d 101.5px,#fa777b 148.5px,#fb979a 173.5px,#fcbabc 224.5px,#fdbfc1 225.5px,#fedadb 227.5px,#fff5f6 229.5px,#fffdfd 230.5px)"></i>
<i style="left:47px;top:126px;width:231px;background:linear-gradient(90deg,#fefcfd 0.5px,#f9e9ef 3.5px,#ecbbcf 7.5px,#d8769e 12.5px,#cc4d81 16.5px,#c84179 18.5px,#c83e76 23.5px,#c93e75 54.5px,#da3d62 62.5px,#f33d48 72.5px,#f83d43 78.5px,#f8464c 100.5px,#fa7479 146.5px,#fb9599 172.5px,#fcbabc 224.5px,#fdbfc1 225.5px,#fedadb 227.5px,#fff5f6 229.5px,#fffdfd 230.5px)"></i>
<i style="left:47px;top:127px;width:231px;background:linear-gradient(90deg,#fefbfc 0.5px,#f8e6ed 3.5px,#eab6cb 7.5px,#cf598a 14.5px,#c9447b 17.5px,#c73e77 19.5px,#c93e75 53.5px,#d93d64 61.5px,#f43d47 72.5px,#f83d43 79.5px,#f8474d 101.5px,#fa7276 144.5px,#fb9498 171.5px,#fcb9bb 224.5px,#fdbec0 225.5px,#fed9db 227.5px,#fff5f6 229.5px,#fffdfd 230.5px)"></i>
<i style="left:46px;top:128px;width:232px;background:linear-gradient(90deg,#fefcfd 0.5px,#faedf2 3.5px,#f0cbda 6.5px,#d46c98 13.5px,#c9457c 17.5px,#c73e77 20.5px,#c83e76 53.5px,#d83d65 61.5px,#f43d47 72.5px,#f83d43 78.5px,#f8464c 101.5px,#fa6c71 141.5px,#fb9396 171.5px,#fcb9bb 225.5px,#fdbec0 226.5px,#fed9da 228.5px,#fff5f5 230.5px,#fffdfd 231.5px)"></i>
<i style="left:46px;top:129px;width:232px;background:linear-gradient(90deg,#fefcfd 0.5px,#f8e7ee 3.5px,#f2d4e1 5.5px,#da7fa6 11.5px,#cf5b8c 14.5px,#c8447c 17.5px,#c63e78 19.5px,#c83e76 53.5px,#d93d63 61.5px,#f33d48 71.5px,#f83d43 77.5px,#f8464c 101.5px,#fa686d 138.5px,#fb9295 170.5px,#fcb8ba 225.5px,#fdbdbf 226.5px,#fed9da 228.5px,#fff5f5 230.5px,#fffdfd 231.5px)"></i>
<i style="left:46px;top:130px;width:232px;background:linear-gradient(90deg,#fefbfc 0.5px,#faeef3 2.5px,#edc1d4 6.5px,#d778a1 11.5px,#cb4e83 15.5px,#c7417a 17.5px,#c63e78 22.5px,#c73e77 52.5px,#d83d65 60.5px,#f43d47 71.5px,#f83d43 78.5px,#f8464c 102.5px,#f9666a 136.5px,#fb9094 169.5px,#fcb7ba 225.5px,#fdbdbf 226.5px,#fed8da 228.5px,#fff5f5 230.5px,#fffdfd 231.5px)"></i>
<i style="left:45px;top:131px;width:233px;background:linear-gradient(90deg,#fefcfd 0.5px,#f9ecf2 3.5px,#f3d5e2 5.5px,#de8fb1 10.5px,#d5719c 12.5px,#ce5a8c 14.5px,#c8447d 17.5px,#c63e78 19.5px,#c73e77 52.5px,#d43d69 59.5px,#f43d47 71.5px,#f83d43 77.5px,#f8464b 102.5px,#f96266 134.5px,#fb8e92 168.5px,#fcb7b9 226.5px,#fdbcbe 227.5px,#fed8d9 229.5px,#fff5f5 231.5px,#fffdfd 232.5px)"></i>
<i style="left:45px;top:132px;width:233px;background:linear-gradient(90deg,#fefcfd 0.5px,#faeff4 2.5px,#f1d2df 5.5px,#d77aa3 11.5px,#cf5e8f 13.5px,#c94c82 15.5px,#c6417b 17.5px,#c53e79 21.5px,#c73e77 52.5px,#d83d64 60.5px,#f33c48 70.5px,#f83d43 76.5px,#f8454b 102.5px,#f95f64 132.5px,#fb8d91 167.5px,#fcb6b9 226.5px,#fdbcbe 227.5px,#fed8d9 229.5px,#fff5f5 231.5px,#fffdfd 232.5px)"></i>
<i style="left:45px;top:133px;width:233px;background:linear-gradient(90deg,#fefbfc 0.5px,#faeef4 2.5px,#f3d9e4 4.5px,#e3a1be 8.5px,#d5729d 11.5px,#c7477f 15.5px,#c5407a 17.5px,#c63e78 51.5px,#d73d65 59.5px,#f43c47 70.5px,#f83d43 76.5px,#f8454b 102.5px,#f95c61 130.5px,#fb8b8e 165.5px,#fcb6b8 226.5px,#fdbbbd 227.5px,#fed8d9 229.5px,#fff5f5 231.5px,#fffdfd 232.5px)"></i>
<i style="left:44px;top:134px;width:234px;background:linear-gradient(90deg,#fffdfe 0.5px,#fcf4f8 2.5px,#f2d5e2 5.5px,#ce5f90 13.5px,#c94c83 15.5px,#c5407b 17.5px,#c73e77 52.5px,#d93d64 60.5px,#f33c47 70.5px,#f83d42 76.5px,#f8454b 103.5px,#f95a5f 130.5px,#fb898c 164.5px,#fcb5b7 227.5px,#fdbbbd 228.5px,#fed7d8 230.5px,#fff5f5 232.5px,#fffdfd 233.5px)"></i>
<i style="left:44px;top:135px;width:234px;background:linear-gradient(90deg,#fefbfc 0.5px,#f8eaf0 3.5px,#e8b3cb 7.5px,#d5749f 11.5px,#c74780 15.5px,#c5407b 17.5px,#c63e78 51.5px,#d83d65 59.5px,#f33c48 69.5px,#f83d42 75.5px,#f8454b 103.5px,#f9595e 130.5px,#fb878a 162.5px,#fcb5b7 227.5px,#fdbabc 228.5px,#fed7d8 230.5px,#fff5f5 232.5px,#fffdfd 233.5px)"></i>
<i style="left:44px;top:136px;width:234px;background:linear-gradient(90deg,#fefbfc 0.5px,#faedf3 2.5px,#f0cddd 5.5px,#ce6092 12.5px,#c64680 15.5px,#c43e7a 17.5px,#c53e79 50.5px,#d33d69 57.5px,#f43c47 69.5px,#f83d42 75.5px,#f8454b 103.5px,#f9575c 129.5px,#fb8689 161.5px,#fcb4b6 227.5px,#fdb9bb 228.5px,#fed7d8 230.5px,#fff5f5 232.5px,#fffdfd 233.5px)"></i>
<i style="left:44px;top:137px;width:234px;background:linear-gradient(90deg,#fefbfc 0.5px,#f9ecf2 2.5px,#f2d4e2 4.5px,#e4a9c4 7.5px,#d577a2 10.5px,#c95188 13.5px,#c64781 14.5px,#c4407c 16.5px,#c53e79 50.5px,#d83d64 58.5px,#f33c47 68.5px,#f83c42 74.5px,#f9454a 103.5px,#f9575c 129.5px,#fb8487 159.5px,#fcadb0 217.5px,#fcb3b6 227.5px,#fdb9bb 228.5px,#fed6d7 230.5px,#fff4f5 232.5px,#fffdfd 233.5px)"></i>
<i style="left:43px;top:138px;width:235px;background:linear-gradient(90deg,#fefdfe 0.5px,#fbf3f7 2.5px,#f5dde8 4.5px,#ecc1d5 6.5px,#ce6294 12.5px,#c84d86 14.5px,#c3407d 16.5px,#c33e7b 46.5px,#c83e76 52.5px,#f43c46 69.5px,#f83d42 76.5px,#f9464b 106.5px,#f9565b 130.5px,#fb8387 159.5px,#fca7aa 212.5px,#fcb3b5 228.5px,#fdb8ba 229.5px,#fed6d7 231.5px,#fff4f5 233.5px,#fffdfd 234.5px)"></i>
<i style="left:43px;top:139px;width:235px;background:linear-gradient(90deg,#fefbfc 0.5px,#f7e5ee 3.5px,#eabbd1 6.5px,#d579a4 10.5px,#c9528a 13.5px,#c64882 14.5px,#c3407d 16.5px,#c43e7a 49.5px,#d33d6a 56.5px,#f43c47 68.5px,#f83c42 74.5px,#f9454a 104.5px,#f95459 129.5px,#fa6e72 145.5px,#fb8488 160.5px,#fca4a6 209.5px,#fcb2b4 228.5px,#fdb8ba 229.5px,#fed6d7 231.5px,#fff4f5 233.5px,#fffdfd 234.5px)"></i>
<i style="left:43px;top:140px;width:235px;background:linear-gradient(90deg,#fefafc 0.5px,#f8eaf1 2.5px,#edc4d7 5.5px,#ce6496 11.5px,#c74e87 13.5px,#c3407e 15.5px,#c23e7c 25.5px,#c43e7a 49.5px,#d73d65 57.5px,#f33c47 67.5px,#f83c42 73.5px,#f9444a 104.5px,#f95358 129.5px,#fa6c70 144.5px,#fb8286 158.5px,#fca1a4 207.5px,#fcb1b4 228.5px,#fdb7b9 229.5px,#fed5d6 231.5px,#fff4f4 233.5px,#fffdfd 234.5px)"></i>
<i style="left:43px;top:141px;width:235px;background:linear-gradient(90deg,#fdfafc 0.5px,#f8e9f0 2.5px,#efcddd 4.5px,#d57ba6 9.5px,#c54984 13.5px,#c2407e 15.5px,#c23e7c 33.5px,#c33e7b 48.5px,#d33d6a 55.5px,#f23c48 66.5px,#f83c42 72.5px,#f94449 103.5px,#f95257 128.5px,#fa686c 142.5px,#fb8084 156.5px,#fb8e91 179.5px,#fca1a3 208.5px,#fcb0b3 228.5px,#fdb6b8 229.5px,#fed5d6 231.5px,#fff4f4 233.5px,#fffdfd 234.5px)"></i>
<i style="left:42px;top:142px;width:236px;background:linear-gradient(90deg,#fefdfe 0.5px,#fdf9fb 1.5px,#f7e5ee 3.5px,#e8b8cf 6.5px,#d781aa 9.5px,#cd6496 11.5px,#c44783 14.5px,#c2407e 15.5px,#c13e7d 22.5px,#c23e7b 48.5px,#d23d6b 55.5px,#f43c47 67.5px,#f83c42 73.5px,#f94449 104.5px,#f95156 129.5px,#fa666a 142.5px,#fb7f83 156.5px,#fb8b8e 175.5px,#fc9c9f 205.5px,#fcb0b2 229.5px,#fcb5b7 230.5px,#fed4d5 232.5px,#fff4f4 234.5px,#fffdfd 235.5px)"></i>
<i style="left:42px;top:143px;width:236px;background:linear-gradient(90deg,#fdfafc 0.5px,#f9ecf3 2.5px,#f6e3ec 3.5px,#db8eb3 8.5px,#cf699a 10.5px,#c7518a 12.5px,#c24380 14.5px,#c13e7d 17.5px,#c23e7c 47.5px,#d03d6d 54.5px,#f33c47 66.5px,#f83c42 72.5px,#f94449 104.5px,#f95156 129.5px,#fa656a 142.5px,#fb7f83 156.5px,#fb8a8e 175.5px,#fc9a9d 204.5px,#fcafb1 229.5px,#fcb5b7 230.5px,#fed4d5 232.5px,#fff4f4 234.5px,#fffdfd 235.5px)"></i>
<i style="left:42px;top:144px;width:236px;background:linear-gradient(90deg,#fdfafc 0.5px,#f7e7ef 2.5px,#eabed4 5.5px,#d785ad 8.5px,#c8568e 11.5px,#c44a86 12.5px,#c24381 13.5px,#c03e7e 16.5px,#c23e7c 47.5px,#d23d6b 54.5px,#f23c48 65.5px,#f83c42 71.5px,#f94349 103.5px,#f95055 129.5px,#fa6368 141.5px,#fb7e82 155.5px,#fb888c 171.5px,#fb9699 201.5px,#fcaeb0 229.5px,#fcb4b6 230.5px,#fed3d5 232.5px,#fff4f4 234.5px,#fffdfd 235.5px)"></i>
<i style="left:42px;top:145px;width:237px;background:linear-gradient(90deg,#fdf9fb 0.5px,#f7e6ef 2.5px,#e7b5cd 5.5px,#d57fa9 8.5px,#cf6c9d 9.5px,#c6528b 11.5px,#c14180 13.5px,#c03e7e 16.5px,#c13e7d 46.5px,#d13d6c 53.5px,#f43c47 65.5px,#f83c42 71.5px,#f94449 104.5px,#f95055 129.5px,#fa6367 141.5px,#fb7d80 154.5px,#fb878a 169.5px,#fb9397 200.5px,#fcadaf 229.5px,#fcb2b5 230.5px,#fdd1d3 232.5px,#fff2f2 234.5px,#fffafa 235.5px,#fffdfd 236.5px)"></i>
<i style="left:41px;top:146px;width:238px;background:linear-gradient(90deg,#fefdfd 0.5px,#fdf8fa 1.5px,#f5e2ec 3.5px,#ebc3d7 5.5px,#d888b0 8.5px,#c85890 11.5px,#c44b87 12.5px,#c14382 13.5px,#c03e7e 16.5px,#c23e7c 47.5px,#d23d6a 54.5px,#f33c48 65.5px,#f83c42 71.5px,#f94348 104.5px,#f94f54 130.5px,#fa6165 141.5px,#fb7d80 155.5px,#fb868a 170.5px,#fb9194 200.5px,#fcacae 230.5px,#fcb1b3 231.5px,#fff5f5 236.5px,#fffdfd 237.5px)"></i>
<i style="left:41px;top:147px;width:238px;background:linear-gradient(90deg,#fdf9fb 0.5px,#f8eaf1 2.5px,#f4dee9 3.5px,#dc96b9 7.5px,#cf6e9f 9.5px,#c6538c 11.5px,#c04181 13.5px,#bf3e7f 16.5px,#c13e7d 46.5px,#d13d6c 53.5px,#f23c48 64.5px,#f83c42 70.5px,#f94348 103.5px,#f94f54 130.5px,#fa6065 141.5px,#fb7d80 155.5px,#fb8589 169.5px,#fb8f92 199.5px,#fcaaad 230.5px,#fdb5b7 232.5px,#fdc2c3 233.5px,#fee6e6 235.5px,#fff4f4 236.5px,#fffdfd 237.5px)"></i>
<i style="left:41px;top:148px;width:238px;background:linear-gradient(90deg,#fdf9fb 0.5px,#f6e4ed 2.5px,#ecc7da 4.5px,#d37ba8 8.5px,#c85991 10.5px,#c34c88 11.5px,#c14483 12.5px,#bf3e7f 15.5px,#c03e7e 45.5px,#d03d6d 52.5px,#f33c47 64.5px,#f93c42 70.5px,#f94348 103.5px,#f94e53 130.5px,#fa6065 141.5px,#fb7b7f 154.5px,#fb8488 167.5px,#fb8d90 198.5px,#fcaaac 231.5px,#fcb0b2 232.5px,#fdbec0 233.5px,#fee4e5 235.5px,#fff3f3 236.5px,#fffcfd 237.5px)"></i>
<i style="left:41px;top:149px;width:238px;background:linear-gradient(90deg,#fdf9fb 0.5px,#faf0f5 1.5px,#f0d2e1 3.5px,#d072a2 8.5px,#c6548e 10.5px,#bf4182 12.5px,#be3e80 14.5px,#c03e7d 45.5px,#d13d6b 52.5px,#f33c48 63.5px,#f93c42 69.5px,#f94348 103.5px,#f94e53 130.5px,#fa6064 141.5px,#fb7b7f 154.5px,#fb8487 167.5px,#fb8b8e 198.5px,#fca8ab 231.5px,#fcafb1 232.5px,#fdbdbf 233.5px,#fee3e4 235.5px,#fff3f3 236.5px,#fffcfc 237.5px)"></i>
<i style="left:40px;top:150px;width:239px;background:linear-gradient(90deg,#fefcfd 0.5px,#fcf7f9 1.5px,#f4deea 3.5px,#e8bad2 5.5px,#d47eaa 8.5px,#c34d8a 11.5px,#c04484 12.5px,#be3e80 14.5px,#c03e7e 45.5px,#d03d6d 52.5px,#f23c49 63.5px,#f93c42 69.5px,#f94247 103.5px,#f94e53 131.5px,#fa6064 142.5px,#fb7b7f 155.5px,#fb8387 168.5px,#fb898d 199.5px,#fca7a9 232.5px,#fcadaf 233.5px,#fdbcbe 234.5px,#fee3e4 236.5px,#fff3f3 237.5px,#fffcfc 238.5px)"></i>
<i style="left:40px;top:151px;width:239px;background:linear-gradient(90deg,#fdf9fb 0.5px,#f7e7ef 2.5px,#ecc7da 4.5px,#d78ab2 7.5px,#d074a4 8.5px,#c55590 10.5px,#bf4183 12.5px,#be3e80 14.5px,#bf3e7f 44.5px,#cf3d6e 51.5px,#f33c47 63.5px,#f93c42 69.5px,#f94247 103.5px,#f94d52 131.5px,#fa5d62 141.5px,#fb797d 154.5px,#fb8286 166.5px,#fb878a 198.5px,#fc9ea1 224.5px,#fca5a8 232.5px,#fcacae 233.5px,#fdbbbd 234.5px,#fee2e3 236.5px,#fff3f3 237.5px,#fffcfc 238.5px)"></i>
<i style="left:40px;top:152px;width:239px;background:linear-gradient(90deg,#fdf8fa 0.5px,#f5e1eb 2.5px,#e2abc8 5.5px,#c85d95 9.5px,#c34e8b 10.5px,#bf4485 11.5px,#bd3e81 13.5px,#bf3e7f 44.5px,#d03d6c 51.5px,#f33c48 62.5px,#f93c41 67.5px,#f94247 102.5px,#f94d52 131.5px,#fa5d61 141.5px,#fb797d 154.5px,#fb8185 166.5px,#fb8589 198.5px,#fc9a9d 222.5px,#fca3a6 232.5px,#fcaaac 233.5px,#fdbabc 234.5px,#fee2e3 236.5px,#fff2f3 237.5px,#fffcfc 238.5px)"></i>
<i style="left:39px;top:153px;width:240px;background:linear-gradient(90deg,#fefdfe 0.5px,#fcf8fa 1.5px,#f9edf3 2.5px,#edccde 4.5px,#d178a7 8.5px,#c55792 10.5px,#be4183 12.5px,#bd3e81 14.5px,#be3e80 44.5px,#cf3d6e 51.5px,#f23c49 62.5px,#f93c41 67.5px,#f94247 103.5px,#f94d52 132.5px,#fa5d61 142.5px,#fb797d 155.5px,#fb8184 167.5px,#fb8487 199.5px,#fc9699 221.5px,#fca2a4 233.5px,#fca8ab 234.5px,#fdb8ba 235.5px,#fee1e2 237.5px,#fff2f2 238.5px,#fffcfc 239.5px)"></i>
<i style="left:39px;top:154px;width:240px;background:linear-gradient(90deg,#fefdfe 0.5px,#fcf7fa 1.5px,#f3dce9 3.5px,#c86097 9.5px,#c24f8d 10.5px,#bf4586 11.5px,#bc3e82 13.5px,#be3e80 43.5px,#ce3d6f 50.5px,#f13c4a 61.5px,#f93c42 66.5px,#f94147 102.5px,#f94d52 132.5px,#fa5c61 142.5px,#fb787c 155.5px,#fb8083 167.5px,#fb8286 199.5px,#fc9497 221.5px,#fca0a2 233.5px,#fca7a9 234.5px,#fdb7b9 235.5px,#fee1e2 237.5px,#fff2f2 238.5px,#fffcfc 239.5px)"></i>
<i style="left:38px;top:155px;width:241px;background:linear-gradient(90deg,#fefdfe 0.5px,#fefbfd 1.5px,#fbf4f8 2.5px,#f1d6e5 4.5px,#e3adca 6.5px,#d27dab 8.5px,#c55994 10.5px,#bd4284 12.5px,#bc3e82 14.5px,#be3e80 44.5px,#cf3d6d 51.5px,#f23c48 62.5px,#f93c41 67.5px,#f94146 103.5px,#f94c51 133.5px,#fa5c61 143.5px,#fb787c 156.5px,#fb7f83 168.5px,#fb8184 200.5px,#fb9194 221.5px,#fc9ea0 234.5px,#fca5a7 235.5px,#fdb5b7 236.5px,#fee0e1 238.5px,#fff2f2 239.5px,#fffcfc 240.5px)"></i>
<i style="left:38px;top:156px;width:241px;background:linear-gradient(90deg,#fefdfe 0.5px,#f9eef4 2.5px,#f5e1ec 3.5px,#efd1e1 4.5px,#c8639a 9.5px,#c2518e 10.5px,#be4687 11.5px,#bc3e82 13.5px,#bd3e81 43.5px,#ce3d6f 50.5px,#f23c49 61.5px,#f93c41 66.5px,#f94146 103.5px,#f94c51 133.5px,#fa5c60 143.5px,#fb777b 156.5px,#fb7e82 168.5px,#fb7f82 200.5px,#fb8f92 221.5px,#fc9c9e 234.5px,#fca3a5 235.5px,#fdb4b6 236.5px,#fedfe0 238.5px,#fff1f2 239.5px,#fffcfc 240.5px)"></i>
<i style="left:38px;top:157px;width:241px;background:linear-gradient(90deg,#fefdfe 0.5px,#fcf6f9 1.5px,#f2d9e6 3.5px,#e4b2ce 5.5px,#d382af 7.5px,#c65c96 9.5px,#bd4285 11.5px,#bb3e83 12.5px,#bc3e82 42.5px,#c93e74 48.5px,#f33c47 61.5px,#f93c41 66.5px,#f94146 103.5px,#f94c51 133.5px,#fa5c60 143.5px,#fb777b 156.5px,#fb7d81 168.5px,#fb7d81 200.5px,#fb8d90 221.5px,#fc999c 234.5px,#fca1a3 235.5px,#fdb2b4 236.5px,#fedfe0 238.5px,#fff1f1 239.5px,#fffcfc 240.5px)"></i>
<i style="left:38px;top:158px;width:242px;background:linear-gradient(90deg,#fefdfe 0.5px,#fcf5f9 1.5px,#f7e9f1 2.5px,#f1d6e5 3.5px,#c9669d 8.5px,#c25290 9.5px,#be4689 10.5px,#bb3e83 12.5px,#bd3e81 42.5px,#cf3d6e 49.5px,#f23c48 60.5px,#f93c41 65.5px,#f94146 102.5px,#f94c51 133.5px,#fa5b60 143.5px,#fb767a 156.5px,#fb7c80 168.5px,#fb7c7f 200.5px,#fb8b8e 221.5px,#fc979a 234.5px,#fc9ea1 235.5px,#fcafb2 236.5px,#fedcdd 238.5px,#feeeef 239.5px,#fff9f9 240.5px,#fffdfd 241.5px)"></i>
<i style="left:38px;top:159px;width:242px;background:linear-gradient(90deg,#fefdfe 0.5px,#fbf4f8 1.5px,#f6e6ef 2.5px,#e8bdd5 4.5px,#d588b3 6.5px,#c65e98 8.5px,#bc4387 10.5px,#ba3e84 11.5px,#bc3e82 41.5px,#cd3d70 48.5px,#f13c49 59.5px,#f93c41 64.5px,#f94146 102.5px,#f94c50 133.5px,#fa5b5f 143.5px,#fb7579 156.5px,#fb7b7f 168.5px,#fb7a7e 200.5px,#fb898c 221.5px,#fc9598 234.5px,#fc9c9f 235.5px,#fcadaf 236.5px,#fed6d7 238.5px,#fee7e8 239.5px,#fffdfd 241.5px)"></i>
<i style="left:37px;top:160px;width:243px;background:linear-gradient(90deg,#fefdfe 0.5px,#fdfafc 1.5px,#faf2f7 2.5px,#f4e1ec 3.5px,#ca6aa0 8.5px,#c25492 9.5px,#bd478a 10.5px,#ba3e84 12.5px,#bb3e83 41.5px,#c83e75 47.5px,#f33c47 60.5px,#f93c41 65.5px,#f94146 103.5px,#f94c50 134.5px,#fa5b5f 144.5px,#fb7578 157.5px,#fb7a7d 169.5px,#fb797d 201.5px,#fb888b 223.5px,#fc9396 235.5px,#fc9a9c 236.5px,#fdbcbe 238.5px,#fee5e5 240.5px,#fff4f4 241.5px,#fffdfd 242.5px)"></i>
<i style="left:37px;top:161px;width:243px;background:linear-gradient(90deg,#fefdfe 0.5px,#f7e8f1 2.5px,#ebc6db 4.5px,#d78fb7 6.5px,#c7629b 8.5px,#bc4387 10.5px,#ba3e84 11.5px,#bc3e82 41.5px,#ce3d6f 48.5px,#f23c48 59.5px,#f93c41 64.5px,#f94146 103.5px,#f94c51 135.5px,#fa5f63 146.5px,#fb7477 157.5px,#fb797c 169.5px,#fb787b 201.5px,#fb8689 223.5px,#fc9093 235.5px,#fc979a 236.5px,#fca6a8 237.5px,#fee4e5 240.5px,#fff4f4 241.5px,#fffdfd 242.5px)"></i>
<i style="left:37px;top:162px;width:243px;background:linear-gradient(90deg,#fefdfe 0.5px,#fbf4f8 1.5px,#f5e4ee 2.5px,#d589b4 6.5px,#c25794 8.5px,#bd488b 9.5px,#ba3e84 11.5px,#bb3e83 40.5px,#c93d74 46.5px,#f13c49 58.5px,#f93c41 63.5px,#f94146 103.5px,#f94c51 135.5px,#fa5e62 146.5px,#fb7276 157.5px,#fb777b 170.5px,#fb767a 201.5px,#fb8588 224.5px,#fb8e91 235.5px,#fc9598 236.5px,#fca4a7 237.5px,#fee4e4 240.5px,#fff3f4 241.5px,#fffdfd 242.5px)"></i>
<i style="left:37px;top:163px;width:243px;background:linear-gradient(90deg,#fefdfd 0.5px,#fbf3f8 1.5px,#f5e3ed 2.5px,#edccdf 3.5px,#d893bb 5.5px,#c7649d 7.5px,#bb4388 9.5px,#b93e85 10.5px,#ba3e83 39.5px,#c83d75 45.5px,#f33c48 58.5px,#f93c41 63.5px,#f94146 103.5px,#f94c51 135.5px,#fa5d62 146.5px,#fb7175 157.5px,#fb767a 170.5px,#fb7579 201.5px,#fb8386 224.5px,#fb8c8f 235.5px,#fc9396 236.5px,#fca3a5 237.5px,#fee3e4 240.5px,#fff3f3 241.5px,#fffcfd 242.5px)"></i>
<i style="left:37px;top:164px;width:243px;background:linear-gradient(90deg,#fefcfd 0.5px,#faf2f7 1.5px,#f4e2ec 2.5px,#eccadd 3.5px,#cc73a6 6.5px,#c35996 7.5px,#bd498c 8.5px,#b93e85 10.5px,#bb3e83 39.5px,#cd3d70 46.5px,#f23c48 57.5px,#f93c41 62.5px,#f94045 102.5px,#f94c50 135.5px,#fa5d61 146.5px,#fb7175 158.5px,#fb7578 172.5px,#fb7478 202.5px,#fb8386 226.5px,#fb8a8d 235.5px,#fc9194 236.5px,#fca1a3 237.5px,#fee2e3 240.5px,#fff3f3 241.5px,#fffcfc 242.5px)"></i>
<i style="left:36px;top:165px;width:244px;background:linear-gradient(90deg,#fefdfd 0.5px,#fdf9fb 1.5px,#f9eff5 2.5px,#e9c2d9 4.5px,#d58ab5 6.5px,#ca6da3 7.5px,#c15594 8.5px,#bb4489 9.5px,#b93e85 10.5px,#ba3e83 39.5px,#c83d75 45.5px,#f13c49 57.5px,#f93c41 62.5px,#f94045 103.5px,#f94b50 136.5px,#fa5e62 148.5px,#fb7073 159.5px,#fb7377 174.5px,#fb7377 204.5px,#fb8386 229.5px,#fb888b 236.5px,#fc8f92 237.5px,#fc9fa2 238.5px,#fee2e3 241.5px,#fff2f2 242.5px,#fffcfc 243.5px)"></i>
<i style="left:36px;top:166px;width:244px;background:linear-gradient(90deg,#fefcfd 0.5px,#f5e4ee 2.5px,#efd2e3 3.5px,#e6bad4 4.5px,#d180af 6.5px,#c868a0 7.5px,#bb4489 9.5px,#b93e85 10.5px,#ba3e84 38.5px,#c73d76 44.5px,#f33c48 57.5px,#f93c41 62.5px,#f94045 103.5px,#f94b50 136.5px,#fa5d61 148.5px,#fb6e72 159.5px,#fb7275 174.5px,#fb7276 204.5px,#fb8285 230.5px,#fb8689 236.5px,#fc8d90 237.5px,#fdb1b3 239.5px,#fff0f0 242.5px,#fffcfc 243.5px)"></i>
<i style="left:36px;top:167px;width:245px;background:linear-gradient(90deg,#fefcfd 0.5px,#faf1f6 1.5px,#f3ddea 2.5px,#d792bb 5.5px,#c35b98 7.5px,#bd4a8d 8.5px,#b93e85 10.5px,#ba3e83 38.5px,#cd3d70 45.5px,#f23c49 56.5px,#f93c41 61.5px,#f94045 103.5px,#fa4c50 137.5px,#fa6266 151.5px,#fb6f72 162.5px,#fb7275 206.5px,#fb8588 236.5px,#fc9396 238.5px,#fca5a7 239.5px,#fed7d8 241.5px,#feeded 242.5px,#fff8f9 243.5px,#fffcfd 244.5px)"></i>
<i style="left:36px;top:168px;width:245px;background:linear-gradient(90deg,#fefcfd 0.5px,#faf0f6 1.5px,#f2dce9 2.5px,#e8c1d8 3.5px,#d284b2 5.5px,#c96ba2 6.5px,#bb448a 8.5px,#b83e86 9.5px,#ba3e84 37.5px,#c83d75 43.5px,#f13c49 55.5px,#f93c41 60.5px,#f94045 103.5px,#fa4c50 137.5px,#fa6266 152.5px,#fb6e71 163.5px,#fb7174 206.5px,#fb8487 237.5px,#fc8c8f 238.5px,#fc9fa1 239.5px,#fecfd1 241.5px,#fee3e4 242.5px,#fff2f2 243.5px,#fffcfc 244.5px)"></i>
<i style="left:36px;top:169px;width:245px;background:linear-gradient(90deg,#fefcfd 0.5px,#f9f0f5 1.5px,#f2dae8 2.5px,#e7bed6 3.5px,#cf7cad 5.5px,#c45e9a 6.5px,#bd4b8e 7.5px,#b83e86 9.5px,#b93e85 36.5px,#c73d76 42.5px,#f33c48 55.5px,#f93c41 60.5px,#f94045 103.5px,#fa4b50 137.5px,#fb6a6e 160.5px,#fb6d71 178.5px,#fb7174 209.5px,#fb8285 237.5px,#fb8a8d 238.5px,#fc9b9e 239.5px,#fee0e1 242.5px,#fff2f2 243.5px,#fffcfc 244.5px)"></i>
<i style="left:35px;top:170px;width:246px;background:linear-gradient(90deg,#fefcfd 0.5px,#fcf8fa 1.5px,#f7eaf2 2.5px,#efd3e4 3.5px,#e5b8d2 4.5px,#cd76a9 6.5px,#c25997 7.5px,#bb458b 8.5px,#b83e86 9.5px,#ba3d84 37.5px,#c93d74 43.5px,#f23c49 55.5px,#f93c41 60.5px,#f94045 104.5px,#fa4b4f 138.5px,#fb696d 162.5px,#fb7073 210.5px,#fb8184 238.5px,#fb888b 239.5px,#fc999c 240.5px,#fee0e1 243.5px,#fff2f2 244.5px,#fffcfc 245.5px)"></i>
<i style="left:35px;top:171px;width:246px;background:linear-gradient(90deg,#fefcfd 0.5px,#faf0f6 1.5px,#f3dfeb 2.5px,#ebc8dc 3.5px,#ca70a6 6.5px,#c25897 7.5px,#ba458b 8.5px,#b83d86 9.5px,#b93d85 36.5px,#c73d76 42.5px,#f13c4a 54.5px,#f93c41 59.5px,#f94045 104.5px,#fa4b50 139.5px,#fa686b 162.5px,#fb6f73 211.5px,#fb7f83 238.5px,#fb878a 239.5px,#fc989b 240.5px,#fee0e0 243.5px,#fff2f2 244.5px,#fffcfc 245.5px)"></i>
<i style="left:35px;top:172px;width:246px;background:linear-gradient(90deg,#fefcfd 0.5px,#f9f0f5 1.5px,#f1dae8 2.5px,#e7bed6 3.5px,#c5619d 6.5px,#bd4c90 7.5px,#b83d86 9.5px,#b93d85 35.5px,#c63d77 41.5px,#f33c48 54.5px,#f93c41 59.5px,#f94045 104.5px,#fa4b4f 139.5px,#fa666a 163.5px,#fb6f72 212.5px,#fb7e81 238.5px,#fb8588 239.5px,#fc979a 240.5px,#fedfe0 243.5px,#fff2f2 244.5px,#fffcfc 245.5px)"></i>
<i style="left:35px;top:173px;width:246px;background:linear-gradient(90deg,#fefcfd 0.5px,#f9eff5 1.5px,#f1d9e7 2.5px,#e6bbd5 3.5px,#cd78ab 5.5px,#c25a99 6.5px,#ba458c 7.5px,#b73d87 8.5px,#b93d85 35.5px,#c83d75 41.5px,#f23c49 53.5px,#f93c41 58.5px,#f94045 105.5px,#fa4b50 140.5px,#fa6569 164.5px,#fb6e71 212.5px,#fb7d80 238.5px,#fb8487 239.5px,#fc9699 240.5px,#fedfe0 243.5px,#fff1f2 244.5px,#fffcfc 245.5px)"></i>
<i style="left:35px;top:174px;width:247px;background:linear-gradient(90deg,#fefbfd 0.5px,#f8edf4 1.5px,#f0d7e6 2.5px,#e6bbd5 3.5px,#cd78ab 5.5px,#c25a99 6.5px,#ba458c 7.5px,#b73d87 8.5px,#b93d85 34.5px,#c73d76 40.5px,#f13c4a 52.5px,#f93c41 57.5px,#f94045 105.5px,#fa4b4f 140.5px,#fa6467 164.5px,#fb6d71 213.5px,#fb7c7f 238.5px,#fb8386 239.5px,#fc9497 240.5px,#fedcdd 243.5px,#ffefef 244.5px,#fff9fa 245.5px,#fffdfd 246.5px)"></i>
<i style="left:35px;top:175px;width:247px;background:linear-gradient(90deg,#fefbfd 0.5px,#f8ecf3 1.5px,#efd3e4 2.5px,#cb73a9 5.5px,#c25a99 6.5px,#ba458c 7.5px,#b73d87 8.5px,#b83d86 33.5px,#c53d78 39.5px,#f23c48 52.5px,#f93c41 57.5px,#f94044 105.5px,#fa4b4f 141.5px,#fa6266 165.5px,#fb6d71 214.5px,#fb7b7e 238.5px,#fb8285 239.5px,#fc9395 240.5px,#fed7d8 243.5px,#fff3f3 245.5px,#fffdfd 246.5px)"></i>
<i style="left:34px;top:176px;width:248px;background:linear-gradient(90deg,#fefcfd 0.5px,#fcf7fa 1.5px,#f6e8f1 2.5px,#eccde0 3.5px,#c5649f 6.5px,#bd4e91 7.5px,#b73d87 9.5px,#b83d85 34.5px,#c73d76 40.5px,#f23c49 52.5px,#f93c41 57.5px,#f94045 107.5px,#fa4b4f 143.5px,#fa6165 167.5px,#fb6c70 215.5px,#fb7a7e 239.5px,#fb8184 240.5px,#fdb5b7 243.5px,#fee2e2 245.5px,#fff2f3 246.5px,#fffcfc 247.5px)"></i>
<i style="left:34px;top:177px;width:248px;background:linear-gradient(90deg,#fefcfd 0.5px,#f9eff5 1.5px,#f2dce9 2.5px,#e8c3da 3.5px,#dda3c7 4.5px,#c35e9c 6.5px,#ba468d 7.5px,#b73d87 8.5px,#b83d86 33.5px,#c63d77 39.5px,#f13c4a 51.5px,#f93c41 56.5px,#f94044 107.5px,#fa4a4f 143.5px,#fa6064 168.5px,#fb6c70 216.5px,#fb7a7d 239.5px,#fc8689 241.5px,#fc9799 242.5px,#fee0e1 245.5px,#fff2f2 246.5px,#fffcfc 247.5px)"></i>
<i style="left:34px;top:178px;width:248px;background:linear-gradient(90deg,#fefbfd 0.5px,#f8edf4 1.5px,#f0d7e6 2.5px,#e6bbd5 3.5px,#cd7aad 5.5px,#c25d9b 6.5px,#ba468d 7.5px,#b63d88 8.5px,#b93d85 33.5px,#c83d75 39.5px,#f23c48 51.5px,#f93c41 56.5px,#f94044 108.5px,#fa4b4f 144.5px,#fa5f63 169.5px,#fb6c6f 217.5px,#fb797d 240.5px,#fb8184 241.5px,#fc9396 242.5px,#fededf 245.5px,#fff1f1 246.5px,#fffcfc 247.5px)"></i>
<i style="left:34px;top:179px;width:249px;background:linear-gradient(90deg,#fefbfd 0.5px,#f8ecf3 1.5px,#eed3e4 2.5px,#cb73a9 5.5px,#c15a9a 6.5px,#b9458d 7.5px,#b63d88 8.5px,#b83d86 32.5px,#c73d76 38.5px,#f13c49 50.5px,#f93c41 55.5px,#fa4044 109.5px,#fa4b4f 145.5px,#fa5e62 170.5px,#fb6c6f 218.5px,#fb797c 240.5px,#fb8083 241.5px,#fc9194 242.5px,#fedbdc 245.5px,#ffefef 246.5px,#fff9f9 247.5px,#fffdfd 248.5px)"></i>
<i style="left:34px;top:180px;width:249px;background:linear-gradient(90deg,#fdfbfc 0.5px,#f8ebf3 1.5px,#eed1e3 2.5px,#c565a1 5.5px,#bc4e92 6.5px,#b63d88 8.5px,#b73d87 31.5px,#c53d78 37.5px,#f13c4a 49.5px,#f93c41 54.5px,#fa4044 109.5px,#fa4b4f 146.5px,#fa5d61 171.5px,#fb6c6f 219.5px,#fb787b 240.5px,#fb7f82 241.5px,#fc9092 242.5px,#fed6d7 245.5px,#fee7e8 246.5px,#fff4f4 247.5px,#fffdfd 248.5px)"></i>
<i style="left:34px;top:181px;width:249px;background:linear-gradient(90deg,#fdfbfc 0.5px,#f7eaf2 1.5px,#edcee1 2.5px,#c3619e 5.5px,#ba478e 6.5px,#b63d88 7.5px,#b83d86 31.5px,#c83d75 37.5px,#f23c48 49.5px,#f93c41 54.5px,#fa4044 111.5px,#fa4b50 148.5px,#fa5c60 172.5px,#fb6c6f 220.5px,#fb777b 240.5px,#fb7e81 241.5px,#fc8e91 242.5px,#fee5e5 246.5px,#fff4f4 247.5px,#fffdfd 248.5px)"></i>
<i style="left:34px;top:182px;width:249px;background:linear-gradient(90deg,#fdfafc 0.5px,#f7e9f1 1.5px,#edcee1 2.5px,#c3619e 5.5px,#b9478e 6.5px,#b63d88 7.5px,#b73d87 30.5px,#c63d77 36.5px,#f13c49 48.5px,#f93c41 53.5px,#fa4044 112.5px,#fa4b4f 149.5px,#fa5b5f 174.5px,#fb6c70 222.5px,#fb777a 240.5px,#fb7d80 241.5px,#fc8c8f 242.5px,#fee5e5 246.5px,#fff4f4 247.5px,#fffdfd 248.5px)"></i>
<i style="left:34px;top:183px;width:249px;background:linear-gradient(90deg,#fdfafc 0.5px,#f6e6f0 1.5px,#dca2c7 3.5px,#cf7fb1 4.5px,#c3619e 5.5px,#b9478f 6.5px,#b53d89 7.5px,#b73d87 29.5px,#c53d78 35.5px,#f03c4a 47.5px,#f93c41 52.5px,#fa4044 112.5px,#fa4b4f 150.5px,#fa5b5e 175.5px,#fb6c70 223.5px,#fb7679 240.5px,#fb7c7f 241.5px,#fc8c8e 242.5px,#fee5e5 246.5px,#fff4f4 247.5px,#fffdfd 248.5px)"></i>
<i style="left:33px;top:184px;width:250px;background:linear-gradient(90deg,#fdfbfc 0.5px,#fbf4f8 1.5px,#f4e1ed 2.5px,#e6bed8 3.5px,#c86da6 5.5px,#bd5195 6.5px,#b53d89 8.5px,#b73d87 30.5px,#c73d76 36.5px,#f23c48 48.5px,#fa3c40 53.5px,#fa4044 115.5px,#fa4c50 153.5px,#fa5a5e 178.5px,#fb6d70 226.5px,#fb7579 241.5px,#fb7c7f 242.5px,#fc8b8e 243.5px,#fed0d1 246.5px,#fff3f3 248.5px,#fffcfc 249.5px)"></i>
<i style="left:33px;top:185px;width:251px;background:linear-gradient(90deg,#fdfbfc 0.5px,#f7eaf2 1.5px,#eed2e4 2.5px,#e2b2d0 3.5px,#c566a2 5.5px,#b94890 6.5px,#b53d89 7.5px,#b73d87 29.5px,#c63d77 35.5px,#f13c49 47.5px,#f93c41 52.5px,#fa4044 116.5px,#fa4c50 154.5px,#fa5a5d 180.5px,#fb6e71 229.5px,#fb7578 241.5px,#fb7b7e 242.5px,#fc9b9e 244.5px,#fedede 247.5px,#fff0f0 248.5px,#fffafa 249.5px,#fffdfd 250.5px)"></i>
<i style="left:33px;top:186px;width:251px;background:linear-gradient(90deg,#fdfbfc 0.5px,#f7eaf2 1.5px,#eccee1 2.5px,#d084b4 4.5px,#c362a0 5.5px,#b94890 6.5px,#b53d89 7.5px,#b63d88 28.5px,#c43d79 34.5px,#f03c4a 46.5px,#f93c41 51.5px,#fa3f44 116.5px,#fa4c50 155.5px,#fa595d 182.5px,#fb7073 234.5px,#fb7477 241.5px,#fb8083 243.5px,#fc9093 244.5px,#fdc1c3 246.5px,#fee8e8 248.5px,#fff4f5 249.5px,#fffdfd 250.5px)"></i>
<i style="left:33px;top:187px;width:251px;background:linear-gradient(90deg,#fdfafc 0.5px,#f7e9f2 1.5px,#eccee1 2.5px,#c2609f 5.5px,#b8478f 6.5px,#b53d89 7.5px,#b73d87 28.5px,#c63c77 34.5px,#f23c48 46.5px,#fa3c40 51.5px,#fa4044 118.5px,#fa4c50 157.5px,#fa595d 186.5px,#fb7477 242.5px,#fb7b7e 243.5px,#fc8c8e 244.5px,#fee4e5 248.5px,#fff4f4 249.5px,#fffdfd 250.5px)"></i>
<i style="left:33px;top:188px;width:251px;background:linear-gradient(90deg,#fdfafc 0.5px,#f5e6f0 1.5px,#dba2c7 3.5px,#ce7fb2 4.5px,#c2609f 5.5px,#b84790 6.5px,#b43d8a 7.5px,#b63d88 27.5px,#c53c78 33.5px,#f13c49 45.5px,#f93c41 50.5px,#fa4044 118.5px,#fa4c50 158.5px,#fb5b5f 193.5px,#fb7377 242.5px,#fb7a7d 243.5px,#fc898c 244.5px,#fee4e5 248.5px,#fff4f4 249.5px,#fffdfd 250.5px)"></i>
<i style="left:33px;top:189px;width:251px;background:linear-gradient(90deg,#fdf9fc 0.5px,#f5e5ef 1.5px,#e8c3db 2.5px,#c86fa8 4.5px,#bd5297 5.5px,#b43d8a 7.5px,#b53d89 26.5px,#c43c79 32.5px,#f03c4a 44.5px,#f93c41 49.5px,#fa3f44 118.5px,#fa4d51 160.5px,#fb6e71 233.5px,#fb7376 242.5px,#fb797c 243.5px,#fc898b 244.5px,#fee4e4 248.5px,#fff4f4 249.5px,#fffdfd 250.5px)"></i>
<i style="left:33px;top:190px;width:251px;background:linear-gradient(90deg,#fdf9fb 0.5px,#f4e3ee 1.5px,#e7bfd9 2.5px,#c56aa5 4.5px,#b94992 5.5px,#b43c8a 6.5px,#b63c88 26.5px,#c63c77 32.5px,#f23c49 44.5px,#fa3c40 49.5px,#fa4044 120.5px,#fa4d51 162.5px,#fb6b6e 229.5px,#fb7275 242.5px,#fb787b 243.5px,#fc888b 244.5px,#fee4e4 248.5px,#fff4f4 249.5px,#fffdfd 250.5px)"></i>
<i style="left:33px;top:191px;width:252px;background:linear-gradient(90deg,#fdf9fb 0.5px,#f4e3ee 1.5px,#e6bfd9 2.5px,#c56aa5 4.5px,#b94992 5.5px,#b43c8a 6.5px,#b53c89 25.5px,#c43c79 31.5px,#f13c4a 43.5px,#fa3c40 48.5px,#fa3f44 120.5px,#fa4d51 163.5px,#fb696c 226.5px,#fb7175 242.5px,#fb787a 243.5px,#fc8789 244.5px,#fee1e2 248.5px,#fff2f2 249.5px,#fffafa 250.5px,#fffdfd 251.5px)"></i>
<i style="left:33px;top:192px;width:252px;background:linear-gradient(90deg,#fdf9fb 0.5px,#f4e3ee 1.5px,#e6bfd9 2.5px,#c56aa6 4.5px,#b94992 5.5px,#b43c8a 6.5px,#b53c89 24.5px,#c33c7a 30.5px,#f03c4b 42.5px,#f93c41 47.5px,#fa3f43 119.5px,#fa4e52 165.5px,#fb6669 221.5px,#fb7174 242.5px,#fb777a 243.5px,#fc8588 244.5px,#fdb1b3 246.5px,#fec9ca 247.5px,#feebec 249.5px,#fffdfd 251.5px)"></i>
<i style="left:33px;top:193px;width:252px;background:linear-gradient(90deg,#fdf9fb 0.5px,#f4e3ee 1.5px,#e6bfd9 2.5px,#c56aa6 4.5px,#b84992 5.5px,#b33c8b 6.5px,#b53c89 24.5px,#c53c78 30.5px,#f23c49 42.5px,#fa3c40 47.5px,#fa3f44 121.5px,#fa4f52 168.5px,#fb6366 217.5px,#fb7073 242.5px,#fb7679 243.5px,#fc8487 244.5px,#fed7d8 248.5px,#fee9e9 249.5px,#fff6f6 250.5px,#fffdfd 251.5px)"></i>
<i style="left:32px;top:194px;width:253px;background:linear-gradient(90deg,#fdfbfc 0.5px,#fbf4f8 1.5px,#f3dfec 2.5px,#e4bbd6 3.5px,#c468a5 5.5px,#b84992 6.5px,#b33c8b 7.5px,#b53c89 24.5px,#c43c79 30.5px,#f13c4a 42.5px,#fa3c40 47.5px,#fa3f43 122.5px,#fb575a 195.5px,#fb6f72 243.5px,#fb7578 244.5px,#fc8285 245.5px,#fdabad 247.5px,#fed7d8 249.5px,#fee9e9 250.5px,#fff6f6 251.5px,#fffdfd 252.5px)"></i>
<i style="left:32px;top:195px;width:253px;background:linear-gradient(90deg,#fdfafc 0.5px,#f6e9f2 1.5px,#edd2e4 2.5px,#e1b2d1 3.5px,#c366a4 5.5px,#b84892 6.5px,#b33c8b 7.5px,#b43c8a 23.5px,#c23c7b 29.5px,#f33c48 42.5px,#fa3c40 47.5px,#fa3f44 123.5px,#fb585b 199.5px,#fb6e71 243.5px,#fb7477 244.5px,#fc8184 245.5px,#fdaaac 247.5px,#fed5d6 249.5px,#fff5f5 251.5px,#fffdfd 252.5px)"></i>
<i style="left:32px;top:196px;width:253px;background:linear-gradient(90deg,#fdfafc 0.5px,#f5e6f0 1.5px,#dba2c8 3.5px,#cd7fb3 4.5px,#b74792 6.5px,#b33c8b 7.5px,#b53c89 23.5px,#c53c78 29.5px,#f23c49 41.5px,#fa3c40 46.5px,#fa3f43 123.5px,#fb585b 201.5px,#fb6e71 243.5px,#fb7376 244.5px,#fc9193 246.5px,#fdb9bb 248.5px,#fee5e6 250.5px,#fff4f4 251.5px,#fffdfd 252.5px)"></i>
<i style="left:32px;top:197px;width:253px;background:linear-gradient(90deg,#fdf9fc 0.5px,#f5e5ef 1.5px,#e7c3db 2.5px,#c76faa 4.5px,#bb5298 5.5px,#b33c8b 7.5px,#b43c8a 22.5px,#c33c7a 28.5px,#f13c4a 40.5px,#fa3c40 45.5px,#fa3f43 123.5px,#fb585b 202.5px,#fb6d70 243.5px,#fb787b 245.5px,#fc8789 246.5px,#fecfd0 249.5px,#fee4e5 250.5px,#fff4f4 251.5px,#fffdfd 252.5px)"></i>
<i style="left:32px;top:198px;width:254px;background:linear-gradient(90deg,#fdf9fb 0.5px,#f4e3ee 1.5px,#e6bfd9 2.5px,#c469a6 4.5px,#b74993 5.5px,#b23c8c 6.5px,#b53c89 22.5px,#c53c78 28.5px,#f03c4b 39.5px,#f93c41 44.5px,#fa3f43 123.5px,#fb585c 204.5px,#fb6c6f 244.5px,#fb7376 245.5px,#fc8285 246.5px,#fee0e1 250.5px,#fff1f1 251.5px,#fffafa 252.5px,#fffdfd 253.5px)"></i>
<i style="left:32px;top:199px;width:254px;background:linear-gradient(90deg,#fdf9fb 0.5px,#f4e3ee 1.5px,#e6bfd9 2.5px,#c469a7 4.5px,#b74993 5.5px,#b23c8c 6.5px,#b43c8a 21.5px,#c43c79 27.5px,#f13c49 39.5px,#fa3c40 44.5px,#fa3f43 124.5px,#fb575b 204.5px,#fb6b6f 244.5px,#fb7274 245.5px,#fc8183 246.5px,#fdaeb0 248.5px,#fec7c8 249.5px,#feeaeb 251.5px,#fffdfd 253.5px)"></i>
<i style="left:32px;top:200px;width:254px;background:linear-gradient(90deg,#fdf9fb 0.5px,#f4e3ef 1.5px,#e6bfd9 2.5px,#c469a7 4.5px,#b74994 5.5px,#b23c8c 6.5px,#b33c8b 20.5px,#c33c7b 26.5px,#f03c4a 38.5px,#fa3c40 43.5px,#fa3f43 124.5px,#fb565a 203.5px,#fb6b6e 244.5px,#fb7073 245.5px,#fc7f82 246.5px,#fed5d6 250.5px,#fee8e8 251.5px,#fff5f6 252.5px,#fffdfd 253.5px)"></i>
<i style="left:32px;top:201px;width:254px;background:linear-gradient(90deg,#fdf9fb 0.5px,#f4e3ef 1.5px,#e6bfda 2.5px,#c369a7 4.5px,#b74994 5.5px,#b13c8d 6.5px,#b43c8a 20.5px,#c43c79 26.5px,#ef3c4b 37.5px,#f93c41 42.5px,#fa3f43 123.5px,#fb5659 203.5px,#fb6a6d 244.5px,#fb6f72 245.5px,#fc7d80 246.5px,#fda7a9 248.5px,#fed5d6 250.5px,#fee8e8 251.5px,#fff5f6 252.5px,#fffdfd 253.5px)"></i>
<i style="left:32px;top:202px;width:254px;background:linear-gradient(90deg,#fcf9fb 0.5px,#f4e3ef 1.5px,#e5bfda 2.5px,#c369a8 4.5px,#b64995 5.5px,#b13c8d 6.5px,#b33c8b 19.5px,#c33c7a 25.5px,#f13c49 37.5px,#fa3c40 42.5px,#fa3f43 125.5px,#fb5558 203.5px,#fb696c 244.5px,#fb6e71 245.5px,#fc7c7f 246.5px,#fda7a9 248.5px,#fed5d6 250.5px,#fee8e8 251.5px,#fff5f6 252.5px,#fffdfd 253.5px)"></i>
<i style="left:32px;top:203px;width:254px;background:linear-gradient(90deg,#fcf8fb 0.5px,#f1ddeb 1.5px,#c369a8 4.5px,#b54995 5.5px,#b03c8e 6.5px,#b13c8c 18.5px,#c13c7c 24.5px,#f03c4a 36.5px,#fa3c40 41.5px,#fa3f43 125.5px,#fb5458 203.5px,#fb686b 244.5px,#fb6d70 245.5px,#fc7b7e 246.5px,#fda6a8 248.5px,#fed5d5 250.5px,#fee7e8 251.5px,#fff5f5 252.5px,#fffdfd 253.5px)"></i>
<i style="left:32px;top:204px;width:254px;background:linear-gradient(90deg,#fcf7fa 0.5px,#f0dbea 1.5px,#deafd1 2.5px,#ca7db4 3.5px,#bb589f 4.5px,#b03c8e 6.5px,#b23c8c 18.5px,#c33c7a 24.5px,#ef3c4c 35.5px,#f93c41 40.5px,#fa3f43 124.5px,#fb5457 203.5px,#fb676a 244.5px,#fb6c6f 245.5px,#fc7a7d 246.5px,#fda6a7 248.5px,#fed3d3 250.5px,#fff4f4 252.5px,#fffdfd 253.5px)"></i>
<i style="left:31px;top:205px;width:256px;background:linear-gradient(90deg,#fdf9fc 0.5px,#f9eff6 1.5px,#edd3e6 2.5px,#c674af 4.5px,#b64c98 5.5px,#af3c8f 6.5px,#b13c8d 18.5px,#c13c7c 24.5px,#f13c4a 36.5px,#fa3c40 41.5px,#fa3f43 127.5px,#fb5356 204.5px,#fb6669 245.5px,#fb6b6e 246.5px,#fc898c 248.5px,#fdb3b5 250.5px,#fee1e2 252.5px,#fff2f2 253.5px,#fffafa 254.5px,#fffdfd 255.5px)"></i>
<i style="left:31px;top:206px;width:256px;background:linear-gradient(90deg,#fcf9fb 0.5px,#f3e3ef 1.5px,#e7c4dd 2.5px,#c471ae 4.5px,#b54b98 5.5px,#ae3c90 6.5px,#b03c8e 17.5px,#bf3c7e 23.5px,#f03c4b 35.5px,#fa3c40 40.5px,#fa3f43 126.5px,#fb5256 204.5px,#fb6568 245.5px,#fb7073 247.5px,#fc7e81 248.5px,#fec7c8 251.5px,#fedbdb 252.5px,#feeaeb 253.5px,#fffdfd 255.5px)"></i>
<i style="left:31px;top:207px;width:256px;background:linear-gradient(90deg,#fcf8fb 0.5px,#f1ddec 1.5px,#c169aa 4.5px,#b34998 5.5px,#ae3c90 6.5px,#b03c8e 17.5px,#c13c7c 23.5px,#ef3c4c 34.5px,#f93c41 39.5px,#fa3f43 126.5px,#fb5255 204.5px,#fb6468 246.5px,#fb6a6d 247.5px,#fc7a7c 248.5px,#fed4d4 252.5px,#fee7e7 253.5px,#fff5f5 254.5px,#fffdfd 255.5px)"></i>
<i style="left:31px;top:208px;width:256px;background:linear-gradient(90deg,#fcf7fa 0.5px,#f0dbeb 1.5px,#ddafd2 2.5px,#c97db6 3.5px,#b958a1 4.5px,#ad3b91 6.5px,#af3b8f 16.5px,#c03c7d 22.5px,#f03c4a 34.5px,#fa3c40 39.5px,#fa3f43 127.5px,#fb5155 204.5px,#fb6367 246.5px,#fb696c 247.5px,#fc777a 248.5px,#fda4a5 250.5px,#fed3d4 252.5px,#fee7e7 253.5px,#fff5f5 254.5px,#fffdfd 255.5px)"></i>
<i style="left:31px;top:209px;width:256px;background:linear-gradient(90deg,#fbf6fa 0.5px,#efd8e9 1.5px,#dbaacf 2.5px,#c677b3 3.5px,#b44d9b 4.5px,#ad3b91 5.5px,#ae3b90 15.5px,#ba3c83 20.5px,#ef3c4b 33.5px,#fa3c40 38.5px,#fa3f43 127.5px,#fb5154 204.5px,#fb6266 246.5px,#fb686b 247.5px,#fc7779 248.5px,#fda3a5 250.5px,#fed3d4 252.5px,#fee7e7 253.5px,#fff5f5 254.5px,#fffdfd 255.5px)"></i>
<i style="left:31px;top:210px;width:256px;background:linear-gradient(90deg,#fbf6fa 0.5px,#efd8e9 1.5px,#dbaad0 2.5px,#c577b3 3.5px,#b34d9c 4.5px,#ac3b92 5.5px,#ae3b90 15.5px,#c03c7d 21.5px,#ee3c4d 32.5px,#f93c41 37.5px,#fa3f43 127.5px,#fb5054 204.5px,#fb6265 246.5px,#fb676a 247.5px,#fb7678 248.5px,#fda2a4 250.5px,#fed1d2 252.5px,#fff4f4 254.5px,#fffdfd 255.5px)"></i>
<i style="left:31px;top:211px;width:257px;background:linear-gradient(90deg,#faf4f9 0.5px,#ecd2e6 1.5px,#c576b3 3.5px,#b34d9c 4.5px,#ab3b93 5.5px,#ad3b91 14.5px,#be3b7f 20.5px,#f03c4a 32.5px,#fa3c40 37.5px,#fa3f43 128.5px,#fb5054 205.5px,#fb6164 246.5px,#fb6669 247.5px,#fc8588 249.5px,#fdb1b2 251.5px,#fee0e1 253.5px,#fff1f1 254.5px,#fffafa 255.5px,#fffdfd 256.5px)"></i>
<i style="left:31px;top:212px;width:257px;background:linear-gradient(90deg,#faf3f8 0.5px,#e9cbe2 1.5px,#d092c3 2.5px,#bb62a8 3.5px,#ab3b93 5.5px,#ad3b90 14.5px,#c03b7d 20.5px,#ef3c4c 31.5px,#fa3c40 36.5px,#fa3f43 128.5px,#fb5053 205.5px,#fb6063 246.5px,#fb6b6e 248.5px,#fc7a7d 249.5px,#fec5c6 252.5px,#fed9da 253.5px,#feeaea 254.5px,#fffdfd 256.5px)"></i>
<i style="left:31px;top:213px;width:257px;background:linear-gradient(90deg,#f9f2f8 0.5px,#e7c7e0 1.5px,#cd8bbf 2.5px,#b553a1 3.5px,#aa3b94 4.5px,#ac3b92 13.5px,#be3b7f 19.5px,#ee3c4d 30.5px,#f93c41 35.5px,#fa3f43 127.5px,#fa4f53 205.5px,#fb5f63 247.5px,#fb6569 248.5px,#fb7578 249.5px,#fed2d3 253.5px,#fee6e7 254.5px,#fff5f5 255.5px,#fffdfd 256.5px)"></i>
<i style="left:31px;top:214px;width:257px;background:linear-gradient(90deg,#f9f2f8 0.5px,#e7c7e1 1.5px,#cc8bc0 2.5px,#b453a2 3.5px,#aa3b94 4.5px,#ab3b93 12.5px,#b93b85 17.5px,#f03c4b 30.5px,#fa3c40 35.5px,#fa3f43 129.5px,#fa4f52 205.5px,#fb5e62 247.5px,#fb6467 248.5px,#fb7376 249.5px,#fda0a2 251.5px,#fed2d3 253.5px,#fee6e6 254.5px,#fff5f5 255.5px,#fffdfd 256.5px)"></i>
<i style="left:30px;top:215px;width:258px;background:linear-gradient(90deg,#fbf6fa 0.5px,#f5e8f3 1.5px,#e4c1dd 2.5px,#ca86bd 3.5px,#b352a1 4.5px,#a93b95 5.5px,#ac3b92 13.5px,#bf3b7e 19.5px,#ee3c4c 30.5px,#fa3c41 35.5px,#fa3f43 130.5px,#fa4e52 206.5px,#fb5e61 248.5px,#fb6366 249.5px,#fb7275 250.5px,#fda0a2 252.5px,#fed1d2 254.5px,#fee6e6 255.5px,#fff4f5 256.5px,#fffdfd 257.5px)"></i>
<i style="left:30px;top:216px;width:258px;background:linear-gradient(90deg,#faf4f9 0.5px,#ebd2e7 1.5px,#c67db9 3.5px,#b250a1 4.5px,#a83b96 5.5px,#aa3b93 12.5px,#bd3b80 18.5px,#ed3c4d 29.5px,#f93c41 34.5px,#fa3f43 129.5px,#fa4e52 207.5px,#fb5d60 248.5px,#fb6266 249.5px,#fb7174 250.5px,#fd9fa1 252.5px,#fecfd0 254.5px,#fff3f4 256.5px,#fffdfd 257.5px)"></i>
<i style="left:30px;top:217px;width:259px;background:linear-gradient(90deg,#faf3f9 0.5px,#e8cbe3 1.5px,#ce92c5 2.5px,#b961ab 3.5px,#a83b96 5.5px,#ab3b93 12.5px,#bf3b7e 18.5px,#ef3c4b 29.5px,#fa3c40 34.5px,#fa3f43 131.5px,#fa4e52 207.5px,#fb5c5f 248.5px,#fb6265 249.5px,#fc8184 251.5px,#fdaeb0 253.5px,#fedfe0 255.5px,#fff1f1 256.5px,#fffafa 257.5px,#fffdfd 258.5px)"></i>
<i style="left:30px;top:218px;width:259px;background:linear-gradient(90deg,#f9f2f8 0.5px,#e6c7e1 1.5px,#cb8ac1 2.5px,#b253a4 3.5px,#a73b97 4.5px,#aa3b94 11.5px,#bd3b80 17.5px,#ee3c4d 28.5px,#f93c41 33.5px,#fa3f43 130.5px,#fa4e51 207.5px,#fb5b5f 248.5px,#fb676a 250.5px,#fb7679 251.5px,#fdc3c4 254.5px,#fed8d9 255.5px,#fee9e9 256.5px,#fffdfd 258.5px)"></i>
<i style="left:30px;top:219px;width:259px;background:linear-gradient(90deg,#f9f2f8 0.5px,#e6c7e1 1.5px,#ca8ac1 2.5px,#b253a4 3.5px,#a73b97 4.5px,#a93b95 10.5px,#b73b86 15.5px,#f03c4a 28.5px,#fa3c40 33.5px,#fa3f43 132.5px,#fa4d51 207.5px,#fb5b5e 249.5px,#fb6164 250.5px,#fb7174 251.5px,#fed1d2 255.5px,#fee5e6 256.5px,#fff4f4 257.5px,#fffdfd 258.5px)"></i>
<i style="left:30px;top:220px;width:259px;background:linear-gradient(90deg,#f8eff7 0.5px,#e3c2df 1.5px,#b153a5 3.5px,#a63b98 4.5px,#a93b95 10.5px,#be3b7f 16.5px,#ef3c4c 27.5px,#fa3c40 32.5px,#fa3f43 132.5px,#fa484c 191.5px,#fb5a5d 249.5px,#fb6063 250.5px,#fb6f72 251.5px,#fd9ea0 253.5px,#fed0d1 255.5px,#fff2f2 257.5px,#fffcfc 258.5px)"></i>
<i style="left:30px;top:221px;width:259px;background:linear-gradient(90deg,#f6ecf5 0.5px,#be72b5 2.5px,#b053a5 3.5px,#a53b99 4.5px,#a83b96 9.5px,#bc3b81 15.5px,#ee3c4d 26.5px,#f93c41 31.5px,#fa3f43 131.5px,#fa484c 187.5px,#fb595d 249.5px,#fb6064 250.5px,#fb6e71 251.5px,#fc9d9f 253.5px,#fdb7b9 254.5px,#ffefef 257.5px,#fffbfb 258.5px)"></i>
<i style="left:29px;top:222px;width:260px;background:linear-gradient(90deg,#f9f2f8 0.5px,#efdced 1.5px,#d4a2cf 2.5px,#b45caa 3.5px,#a53b99 4.5px,#a73b97 9.5px,#b53b88 14.5px,#f03c4b 27.5px,#fa3c40 32.5px,#fa3f43 133.5px,#fa484b 187.5px,#fb5155 219.5px,#fb595c 250.5px,#fb6165 251.5px,#fc8386 253.5px,#fc9d9f 254.5px,#fdbdbf 256.5px,#feebec 258.5px,#fffbfb 259.5px)"></i>
<i style="left:29px;top:223px;width:260px;background:linear-gradient(90deg,#f9f2f8 0.5px,#e5c7e2 1.5px,#b157a8 3.5px,#a43a9a 4.5px,#a73b96 9.5px,#bc3b81 15.5px,#ee3c4c 26.5px,#fa3c40 31.5px,#fa3f43 133.5px,#fa474b 186.5px,#fb5053 216.5px,#fb585c 250.5px,#fb6367 251.5px,#fc878a 253.5px,#fc8b8e 254.5px,#fc9a9c 255.5px,#fdb0b2 256.5px,#fee7e8 258.5px,#fffafa 259.5px)"></i>
<i style="left:29px;top:224px;width:260px;background:linear-gradient(90deg,#f9f2f8 0.5px,#e5c7e2 1.5px,#c98ac3 2.5px,#af53a7 3.5px,#a43a9a 4.5px,#a83a96 9.5px,#bf3b7e 15.5px,#ed3c4e 25.5px,#f93c41 30.5px,#fa3f43 133.5px,#fa474b 185.5px,#fa4f53 215.5px,#fb585b 250.5px,#fb676a 251.5px,#fb7073 252.5px,#fc7f82 253.5px,#fc7f82 254.5px,#fc8487 255.5px,#fd9fa1 256.5px,#fee2e3 258.5px,#fff9f9 259.5px)"></i>
<i style="left:29px;top:225px;width:260px;background:linear-gradient(90deg,#f8eff7 0.5px,#e3c2e0 1.5px,#ae53a7 3.5px,#a33a9b 4.5px,#a73a97 8.5px,#bd3b80 14.5px,#ec3c4f 24.5px,#f93c41 29.5px,#fa3e42 132.5px,#fa474b 184.5px,#fa4e52 214.5px,#fb575b 251.5px,#fb6c6f 252.5px,#fb6c6f 254.5px,#fc797c 255.5px,#fc9092 256.5px,#fdbbbc 257.5px,#fee0e1 258.5px,#fff8f8 259.5px)"></i>
<i style="left:29px;top:226px;width:260px;background:linear-gradient(90deg,#f6ecf5 0.5px,#bc71b7 2.5px,#ae53a8 3.5px,#a23a9c 4.5px,#a83a96 8.5px,#bf3b7e 14.5px,#ee3c4d 24.5px,#f93c41 29.5px,#fa3f43 133.5px,#fa474b 183.5px,#fa4e51 213.5px,#fb575b 254.5px,#fb7679 255.5px,#fc9c9e 256.5px,#fdb6b8 257.5px,#fededf 258.5px,#fff8f8 259.5px)"></i>
<i style="left:29px;top:227px;width:260px;background:linear-gradient(90deg,#f5eaf4 0.5px,#d6a9d4 1.5px,#b35eae 2.5px,#a23a9c 3.5px,#a63a97 7.5px,#bd3b80 13.5px,#ec3c4f 23.5px,#f83c42 28.5px,#fa3e42 132.5px,#fa474b 182.5px,#fa4e51 213.5px,#fb575a 253.5px,#fc8a8c 254.5px,#fd9ea0 255.5px,#fdbcbd 256.5px,#fed3d4 257.5px,#fee0e1 258.5px,#fff8f8 259.5px)"></i>
<i style="left:29px;top:228px;width:261px;background:linear-gradient(90deg,#f5eaf4 0.5px,#d6a9d4 1.5px,#b25eaf 2.5px,#a13a9d 3.5px,#aa3a93 8.5px,#cf3b6d 16.5px,#ee3c4d 23.5px,#f83c42 28.5px,#fa3c40 65.5px,#fdaaac 66.5px,#fdb0b2 203.5px,#fdb5b7 253.5px,#fee2e2 255.5px,#fff2f2 257.5px,#fffafa 260.5px)"></i>
<i style="left:28px;top:229px;width:67px;background:linear-gradient(90deg,#f9f2f9 0.5px,#eedced 1.5px,#d2a2d1 2.5px,#b05bae 3.5px,#a13a9d 4.5px,#ac3a91 9.5px,#eb3c4f 23.5px,#f63c44 28.5px,#fa3c40 57.5px,#fc9093 58.5px,#fdaaac 59.5px,#fdaaac 66.5px)"></i>
<i style="left:28px;top:230px;width:59px;background:linear-gradient(90deg,#f9f2f9 0.5px,#e4c7e3 1.5px,#ad56ac 3.5px,#a03a9d 4.5px,#ae3a90 9.5px,#e53c56 21.5px,#f23c48 26.5px,#fa3c40 46.5px,#fa3c40 52.5px,#fc777a 53.5px,#fdaaac 55.5px,#fdaaac 57.5px,#fdc3c4 58.5px)"></i>
<i style="left:28px;top:231px;width:55px;background:linear-gradient(90deg,#f7eff8 0.5px,#e0c2e2 1.5px,#a952ac 3.5px,#9e3aa0 4.5px,#ad3a90 9.5px,#e23c59 20.5px,#ee3c4c 25.5px,#fa3c40 44.5px,#fa3c40 48.5px,#fc777a 49.5px,#fdaaac 51.5px,#fdaaac 52.5px,#fed8d9 54.5px)"></i>
<i style="left:28px;top:232px;width:51px;background:linear-gradient(90deg,#f5ecf6 0.5px,#b671be 2.5px,#a752af 3.5px,#9c3aa1 4.5px,#ad3a90 9.5px,#de3b5d 19.5px,#ea3c51 24.5px,#ee3c4c 32.5px,#f93c41 41.5px,#fa3c40 46.5px,#fb777a 47.5px,#fc9093 48.5px,#fdc3c4 49.5px,#fed8d9 50.5px)"></i>
<i style="left:28px;top:233px;width:49px;background:linear-gradient(90deg,#f4eaf6 0.5px,#d1a9d9 1.5px,#aa5eb7 2.5px,#983aa5 3.5px,#a83a95 8.5px,#d93b61 18.5px,#e33c57 22.5px,#e43c57 30.5px,#f83c43 40.5px,#fa3c40 44.5px,#fb777a 45.5px,#fc9093 46.5px,#fdc3c4 47.5px,#fed8d9 48.5px)"></i>
<i style="left:28px;top:234px;width:47px;background:linear-gradient(90deg,#f3eaf6 0.5px,#d0a9da 1.5px,#a75eb9 2.5px,#953aa8 3.5px,#a63a95 8.5px,#d83b63 18.5px,#de3c5d 22.5px,#d83c63 28.5px,#e03c5b 32.5px,#f53c45 39.5px,#f83c42 42.5px,#fb777a 43.5px,#fc9093 44.5px,#fdc3c4 45.5px,#fed8d9 46.5px)"></i>
<i style="left:27px;top:235px;width:46px;background:linear-gradient(90deg,#f8f2fa 0.5px,#ebdbf0 1.5px,#caa2d8 2.5px,#a35bba 3.5px,#9239aa 4.5px,#a93a92 10.5px,#d13b69 18.5px,#d83c62 21.5px,#d33c69 25.5px,#cc3c70 29.5px,#d33c69 32.5px,#f13c4a 39.5px,#f53c45 41.5px,#f97176 42.5px,#fb9094 43.5px,#fdc3c4 44.5px,#fed8d9 45.5px)"></i>
<i style="left:27px;top:236px;width:44px;background:linear-gradient(90deg,#f7f2fa 0.5px,#dec6e9 1.5px,#9e56ba 3.5px,#9039ac 4.5px,#a63a94 10.5px,#cd3b6d 18.5px,#d23c68 21.5px,#c93c74 25.5px,#c03c7d 28.5px,#c33c79 31.5px,#ee3c4d 39.5px,#f13c49 40.5px,#f7777e 41.5px,#fbaaae 42.5px,#fdd8da 43.5px)"></i>
<i style="left:27px;top:237px;width:43px;background:linear-gradient(90deg,#f7f2fa 0.5px,#ddc6ea 1.5px,#b889d2 2.5px,#9852bb 3.5px,#8c39ae 4.5px,#a63a93 11.5px,#c73b72 18.5px,#cb3b6f 21.5px,#c33c79 24.5px,#b43c8a 28.5px,#b53c89 30.5px,#c33c7a 33.5px,#e63c55 38.5px,#f1717f 39.5px,#f69099 40.5px,#fbc3c6 41.5px,#fddddf 42.5px)"></i>
<i style="left:27px;top:238px;width:41px;background:linear-gradient(90deg,#f5eff9 0.5px,#d9c2e9 1.5px,#9551bd 3.5px,#8939b1 4.5px,#9f3a99 11.5px,#bf3b7a 18.5px,#c43b77 21.5px,#ba3c83 24.5px,#ac3c92 27.5px,#a93c95 29.5px,#ae3c90 31.5px,#c33c7a 34.5px,#dc3c5f 37.5px,#eb7185 38.5px,#f5aab4 39.5px,#fcd8dc 40.5px)"></i>
<i style="left:27px;top:239px;width:40px;background:linear-gradient(90deg,#f3ecf8 0.5px,#a470cd 2.5px,#9251c0 3.5px,#8439b5 4.5px,#9a3a9e 12.5px,#b93b80 19.5px,#ba3b81 22.5px,#a23c9c 28.5px,#a33c9b 30.5px,#ae3c90 32.5px,#d13c6b 36.5px,#e4718d 37.5px,#f2aab7 38.5px,#fbdde1 39.5px)"></i>
<i style="left:27px;top:240px;width:39px;background:linear-gradient(90deg,#f1eaf8 0.5px,#c6a9e3 1.5px,#955dc8 2.5px,#7e39bb 3.5px,#8a39ac 11.5px,#9f3a98 16.5px,#b13b88 20.5px,#b13b8b 23.5px,#9f3c9f 28.5px,#a13c9e 30.5px,#ab3c93 32.5px,#c63c77 35.5px,#de7799 36.5px,#eeaabb 37.5px,#fadde3 38.5px)"></i>
<i style="left:27px;top:241px;width:38px;background:linear-gradient(90deg,#f0eaf8 0.5px,#c4a9e4 1.5px,#915dcb 2.5px,#7939bf 3.5px,#7c39b9 11.5px,#8939ac 15.5px,#a63b92 20.5px,#ab3b90 23.5px,#a03c9e 28.5px,#a23c9c 30.5px,#ac3c92 32.5px,#b43c89 33.5px,#cf71a2 34.5px,#df90b1 35.5px,#f0c3d2 36.5px,#f8dde4 37.5px)"></i>
<i style="left:26px;top:242px;width:37px;background:linear-gradient(90deg,#f6f2fb 0.5px,#e6dbf4 1.5px,#bda1e3 2.5px,#8c5acd 3.5px,#7439c3 4.5px,#6b39c8 12.5px,#7239c2 15.5px,#8b3aab 19.5px,#a03b99 22.5px,#a73b94 25.5px,#a43c9a 30.5px,#ab3c93 32.5px,#b13c8d 33.5px,#cc71a6 34.5px,#e4aac6 35.5px,#f4d8e3 36.5px)"></i>
<i style="left:26px;top:243px;width:36px;background:linear-gradient(90deg,#f6f2fb 0.5px,#d6c6ef 1.5px,#8455cf 3.5px,#6e38c8 4.5px,#5a38d9 12.5px,#5e38d5 15.5px,#7139c3 18.5px,#953aa3 22.5px,#a43b96 25.5px,#ab3c93 30.5px,#b83c85 33.5px,#d277a5 34.5px,#f4d8e4 35.5px)"></i>
<i style="left:26px;top:244px;width:36px;background:linear-gradient(90deg,#f5f2fb 0.5px,#d6c6f0 1.5px,#a889df 2.5px,#7e51d1 3.5px,#6938cc 4.5px,#5338df 9.5px,#5538dd 17.5px,#933aa5 23.5px,#a63b95 26.5px,#b53c87 31.5px,#ba3c83 32.5px,#d171a0 33.5px,#e6aac3 34.5px,#f6dde6 35.5px)"></i>
<i style="left:26px;top:245px;width:35px;background:linear-gradient(90deg,#f5f2fc 0.5px,#d5c6f0 1.5px,#a689e0 2.5px,#7a51d4 3.5px,#6438d0 4.5px,#5438df 7.5px,#5438de 18.5px,#5838db 19.5px,#943aa4 24.5px,#aa3b90 27.5px,#bd3c7f 31.5px,#d2719e 32.5px,#e7aac3 33.5px,#f6dde6 34.5px)"></i>
<i style="left:26px;top:246px;width:34px;background:linear-gradient(90deg,#f3effb 0.5px,#d1c2ef 1.5px,#7851d6 3.5px,#6038d4 4.5px,#5338df 6.5px,#5538de 19.5px,#5838db 20.5px,#8e3aa9 24.5px,#aa3b8f 27.5px,#bd3b7d 30.5px,#d3719c 31.5px,#e7aac2 32.5px,#f7dde6 33.5px)"></i>
<i style="left:26px;top:247px;width:33px;background:linear-gradient(90deg,#f1ecfa 0.5px,#c3b0eb 1.5px,#9170dc 2.5px,#7651d7 3.5px,#5d38d6 4.5px,#5238e0 6.5px,#5438de 20.5px,#5e38d5 21.5px,#963aa1 25.5px,#b33b85 28.5px,#bb3b7e 29.5px,#d3709c 30.5px,#e7aac1 31.5px,#f7dde5 32.5px)"></i>
<i style="left:26px;top:248px;width:32px;background:linear-gradient(90deg,#efeaf9 0.5px,#bea9e8 1.5px,#835dd7 2.5px,#6338d1 3.5px,#5238e0 6.5px,#5438df 20.5px,#5b38d8 21.5px,#953aa1 25.5px,#b63b82 28.5px,#d0709e 29.5px,#e6aac2 30.5px,#f6dde5 31.5px)"></i>
<i style="left:26px;top:249px;width:31px;background:linear-gradient(90deg,#efeaf9 0.5px,#bfa9e8 1.5px,#845dd5 2.5px,#6438cf 3.5px,#5238e0 6.5px,#5338df 20.5px,#5d38d6 21.5px,#973a9f 25.5px,#af3a89 27.5px,#cc70a2 28.5px,#e5aac3 29.5px,#f6dde6 30.5px)"></i>
<i style="left:26px;top:250px;width:30px;background:linear-gradient(90deg,#efeaf9 0.5px,#c0a9e6 1.5px,#875dd2 2.5px,#6838cc 3.5px,#5438de 6.5px,#5238e0 19.5px,#5538dd 20.5px,#a83a8f 26.5px,#b33a84 27.5px,#da90b4 28.5px,#f4d8e3 29.5px)"></i>
<i style="left:26px;top:251px;width:29px;background:linear-gradient(90deg,#f0eaf8 0.5px,#c2a9e5 1.5px,#8b5dce 2.5px,#6e39c6 3.5px,#5c38d7 6.5px,#5438de 7.5px,#5238e0 18.5px,#5538dd 19.5px,#a23a94 25.5px,#c470a9 26.5px,#d78fb6 27.5px,#ecc2d4 28.5px)"></i>
<i style="left:26px;top:252px;width:28px;background:linear-gradient(90deg,#f0eaf8 0.5px,#c4a9e2 1.5px,#905dc9 2.5px,#7539bf 3.5px,#6738cc 6.5px,#5338df 9.5px,#5338df 17.5px,#7d39b7 21.5px,#a03a96 24.5px,#c270aa 25.5px,#dfa9c8 26.5px,#f3d8e4 27.5px)"></i>
<i style="left:26px;top:253px;width:27px;background:linear-gradient(90deg,#f2ecf8 0.5px,#a370ca 2.5px,#8e51bf 3.5px,#7c39b8 4.5px,#5e38d5 11.5px,#5c38d7 14.5px,#6939ca 17.5px,#8d39a8 21.5px,#ab5eb0 22.5px,#b562aa 23.5px,#c370aa 24.5px,#dfa9c8 25.5px,#f4dde8 26.5px)"></i>
<i style="left:26px;top:254px;width:26px;background:linear-gradient(90deg,#f5eff9 0.5px,#dac2e6 1.5px,#9752b6 3.5px,#8839ad 4.5px,#9b5bbc 5.5px,#985ec1 7.5px,#8d5dcc 12.5px,#905dc9 15.5px,#9d5ebd 18.5px,#a561b9 19.5px,#b26fb9 20.5px,#bb75b7 21.5px,#cc8ebf 22.5px,#eac4d8 24.5px,#f4dde7 25.5px)"></i>
<i style="left:26px;top:255px;width:25px;background:linear-gradient(90deg,#f8f3fa 0.5px,#e1cbe8 1.5px,#c596ce 2.5px,#b271bc 3.5px,#aa61b4 4.5px,#d1a9d6 6.5px,#cda9d9 14.5px,#d6a9d1 19.5px,#e5c3dd 20.5px,#efd8e7 21.5px,#f2dde9 22.5px,#f7e7ef 23.5px,#f9eaf0 24.5px)"></i>
<i style="left:26px;top:256px;width:21px;background:linear-gradient(90deg,#f9f4fa 0.5px,#f1e4f2 1.5px,#e0c2e0 2.5px,#d9b0d5 3.5px,#d6a9d1 4.5px,#f4e7f2 6.5px,#f5eaf3 11.5px,#f7eaf1 20.5px)"></i>
<i style="left:27px;top:257px;width:5px;background:linear-gradient(90deg,#f9f3f9 0.5px,#f6eaf2 3.5px,#f7ecf3 4.5px)"></i>
<i style="left:533px;top:25px;width:100px;background:linear-gradient(90deg,#fef6f8 0.5px,#fef7f8 82.5px,#fffcfd 99.5px)"></i>
<i style="left:520px;top:26px;width:118px;background:linear-gradient(90deg,#fef5f6 0.5px,#fef5f6 12.5px,#fdeef0 14.5px,#fdebee 26.5px,#fdecef 93.5px,#fef8f9 105.5px,#fffdfd 117.5px)"></i>
<i style="left:510px;top:27px;width:127px;background:linear-gradient(90deg,#fdf5f6 0.5px,#fdf3f5 9.5px,#fcebee 11.5px,#fce9ed 23.5px,#fbe1e5 28.5px,#fce2e6 102.5px,#fdf2f4 111.5px,#fffdfd 126.5px)"></i>
<i style="left:502px;top:28px;width:135px;background:linear-gradient(90deg,#fdf5f7 0.5px,#fdf3f5 7.5px,#fceaee 9.5px,#fce9ed 14.5px,#fce5e9 18.5px,#fbe0e5 20.5px,#fbe0e5 31.5px,#fad6dd 37.5px,#fad8de 110.5px,#fceaed 116.5px,#fffdfd 134.5px)"></i>
<i style="left:493px;top:29px;width:142px;background:linear-gradient(90deg,#fdf6f7 0.5px,#fdf3f5 8.5px,#fceaee 10.5px,#fbe7eb 15.5px,#fbe0e5 20.5px,#fbdfe4 23.5px,#fadae0 26.5px,#fad6dd 31.5px,#fad5dc 41.5px,#fad4da 43.5px,#f9ccd4 45.5px,#f9ccd4 118.5px,#fce9ec 125.5px,#fef9fa 136.5px,#fffcfd 141.5px)"></i>
<i style="left:485px;top:30px;width:148px;background:linear-gradient(90deg,#fdf6f7 0.5px,#fdf4f6 7.5px,#fbebef 9.5px,#fbe9ec 16.5px,#fae0e5 19.5px,#fadfe4 22.5px,#f9d6dc 27.5px,#f9d6dd 31.5px,#f8ced6 33.5px,#f9cbd3 52.5px,#f8c2cc 53.5px,#f8c2cc 126.5px,#fad5dc 128.5px,#fce8ec 132.5px,#fdf1f3 136.5px,#fffcfd 146.5px,#fffcfd 147.5px)"></i>
<i style="left:479px;top:31px;width:150px;background:linear-gradient(90deg,#fdf6f8 0.5px,#fdf5f6 5.5px,#fbedf0 7.5px,#fbe8ec 14.5px,#fae0e6 16.5px,#fadfe4 22.5px,#f8d5dc 25.5px,#f9d5dc 28.5px,#f8cdd5 30.5px,#f8ccd4 38.5px,#f7c1cb 39.5px,#f8c2cc 132.5px,#fad8de 134.5px,#fce5e9 136.5px,#fef3f5 140.5px,#fffbfc 148.5px,#fffcfc 149.5px)"></i>
<i style="left:473px;top:32px;width:152px;background:linear-gradient(90deg,#fdf6f8 0.5px,#fdf5f7 5.5px,#fbedf0 7.5px,#fbe8ec 12.5px,#fae4e8 14.5px,#f9dbe1 21.5px,#f8d5dc 23.5px,#f8d5dc 28.5px,#f7ccd4 30.5px,#f7cbd4 35.5px,#f6c1cb 36.5px,#f8c2cc 134.5px,#f9cfd7 135.5px,#fad1d8 138.5px,#fbdde2 140.5px,#fce6ea 141.5px,#fef8f9 146.5px,#fefbfb 151.5px)"></i>
<i style="left:468px;top:33px;width:151px;background:linear-gradient(90deg,#fdf7f9 0.5px,#fdf6f7 4.5px,#fbedf1 6.5px,#fae9ed 11.5px,#f9e3e8 13.5px,#f8d9e0 21.5px,#f7d5dc 24.5px,#f7d3db 26.5px,#f6cad3 28.5px,#f6cad3 34.5px,#f5c0cb 35.5px,#f8c2cc 130.5px,#f8c2cc 134.5px,#f9d1d8 135.5px,#fad1d8 139.5px,#fbdfe4 141.5px,#fce2e6 144.5px,#fce6ea 145.5px,#fef4f5 147.5px,#fef8f9 150.5px)"></i>
<i style="left:463px;top:34px;width:152px;background:linear-gradient(90deg,#fdf7f9 0.5px,#fdf6f8 4.5px,#fbeef1 6.5px,#fbebef 10.5px,#f9e4e9 12.5px,#f8dfe5 16.5px,#f6d1d9 24.5px,#f6d1d9 26.5px,#f5cad3 28.5px,#f5c9d2 32.5px,#f4c0cb 33.5px,#f8c2cb 105.5px,#f8c2cb 133.5px,#f9cfd7 134.5px,#fad2d9 139.5px,#fbe0e5 141.5px,#fce2e6 145.5px,#fdf0f2 147.5px,#fef3f5 151.5px)"></i>
<i style="left:459px;top:35px;width:151px;background:linear-gradient(90deg,#fdf8f9 0.5px,#fdf7f9 3.5px,#fcf0f2 5.5px,#fbecef 9.5px,#f9e4e9 12.5px,#f8dfe5 15.5px,#f7dae1 17.5px,#f7d9e0 19.5px,#f6d1d9 22.5px,#f6d1d9 24.5px,#f4c9d3 26.5px,#f5c8d2 31.5px,#f3bfca 32.5px,#f8c2cb 102.5px,#f8c2cb 132.5px,#f9cfd7 133.5px,#fad1d8 137.5px,#fbdfe4 139.5px,#fbe0e5 143.5px,#fdeff1 145.5px,#fdf2f4 150.5px)"></i>
<i style="left:456px;top:36px;width:148px;background:linear-gradient(90deg,#fef8f9 0.5px,#fdf4f6 3.5px,#fcf0f3 4.5px,#fbedf0 7.5px,#fae7ec 9.5px,#f6d7df 18.5px,#f5d2da 19.5px,#f5d1d9 22.5px,#f4c9d2 24.5px,#f4c8d2 28.5px,#f2bfca 29.5px,#f8c2cb 100.5px,#f8c2cb 129.5px,#f9ced6 130.5px,#fad1d8 135.5px,#fbdfe4 137.5px,#fce2e6 141.5px,#fdf0f2 143.5px,#fdf0f3 147.5px)"></i>
<i style="left:453px;top:37px;width:146px;background:linear-gradient(90deg,#fef9fa 0.5px,#fdf5f7 3.5px,#fcf0f3 5.5px,#f5d1d9 19.5px,#f5d0d8 21.5px,#f3c7d2 23.5px,#f3c7d2 26.5px,#f2beca 27.5px,#f8c2cb 101.5px,#f8c2cb 126.5px,#f9ced6 127.5px,#f9d1d8 132.5px,#fbdfe4 135.5px,#fce2e6 139.5px,#fdf0f2 141.5px,#fdf2f4 145.5px)"></i>
<i style="left:451px;top:38px;width:143px;background:linear-gradient(90deg,#fef9fa 0.5px,#fceff2 5.5px,#f8dfe5 11.5px,#f4cfd8 19.5px,#f3c7d2 21.5px,#f3c7d1 24.5px,#f1beca 25.5px,#f8c2cb 103.5px,#f8c2cb 122.5px,#f9ced6 123.5px,#f9d1d8 128.5px,#fbdae0 130.5px,#fce5e9 136.5px,#fdf0f2 138.5px,#fdf2f4 142.5px)"></i>
<i style="left:449px;top:39px;width:140px;background:linear-gradient(90deg,#fef9fa 0.5px,#fcf0f3 4.5px,#f6d6de 14.5px,#f4ced7 17.5px,#f4ced7 18.5px,#f3c7d1 20.5px,#f2c6d1 22.5px,#f1beca 23.5px,#f8c2cb 105.5px,#f8c2cb 119.5px,#f9ced6 120.5px,#f9d0d8 124.5px,#fbdae0 126.5px,#fbdbe1 128.5px,#fce6ea 133.5px,#fdf0f2 135.5px,#fef3f5 139.5px)"></i>
<i style="left:447px;top:40px;width:137px;background:linear-gradient(90deg,#fef9fa 0.5px,#fcf1f3 4.5px,#f5d3db 14.5px,#f3c9d4 18.5px,#f2c6d1 20.5px,#f2c6d1 21.5px,#f1beca 22.5px,#f5bfc9 61.5px,#f6bbc6 74.5px,#f7c2cb 81.5px,#f8c2cb 116.5px,#f9cdd5 117.5px,#f9d0d8 121.5px,#fbdae0 123.5px,#fbdbe1 125.5px,#fce6ea 129.5px,#fce6ea 130.5px,#fdf0f2 132.5px,#fef3f5 136.5px)"></i>
<i style="left:445px;top:41px;width:138px;background:linear-gradient(90deg,#fefafb 0.5px,#fcf1f4 4.5px,#f7dce2 11.5px,#f2c6d1 18.5px,#f2c5d0 20.5px,#f0beca 21.5px,#f1bcc8 36.5px,#f3bfca 48.5px,#f3bac6 57.5px,#f4b1bd 73.5px,#f6b8c3 80.5px,#f7c2cb 86.5px,#f8c2cb 114.5px,#f9ccd4 115.5px,#f9ced6 118.5px,#fad9df 120.5px,#fbdfe4 123.5px,#fce6ea 126.5px,#fce6ea 127.5px,#fdf0f3 129.5px,#fef3f5 133.5px,#fffcfc 134.5px,#fffdfe 137.5px)"></i>
<i style="left:444px;top:42px;width:138px;background:linear-gradient(90deg,#fefafb 0.5px,#f4cdd7 15.5px,#f2c5d1 17.5px,#f2c5d0 18.5px,#f0beca 19.5px,#f0bdca 22.5px,#eeb4c3 28.5px,#efb3c1 37.5px,#f0b5c3 44.5px,#f1b5c2 49.5px,#f2b2bf 57.5px,#f2aab8 68.5px,#f3a9b6 77.5px,#f5b2be 82.5px,#f7c2cb 90.5px,#f8c2cb 111.5px,#f9cbd3 112.5px,#f9cdd5 115.5px,#fad8de 117.5px,#fbdde2 120.5px,#fce4e8 121.5px,#fce6ea 123.5px,#fdf0f3 125.5px,#fef3f5 129.5px,#fef8f9 130.5px,#fffdfd 137.5px)"></i>
<i style="left:442px;top:43px;width:139px;background:linear-gradient(90deg,#fefbfb 0.5px,#fcf4f6 3.5px,#f4cdd7 15.5px,#f2c5d0 18.5px,#f0becb 19.5px,#f0bbc8 22.5px,#edadbd 28.5px,#eda8b9 38.5px,#eeabbb 46.5px,#efabba 51.5px,#f0a9b8 59.5px,#f0a0b0 66.5px,#f29dad 78.5px,#f3a4b3 82.5px,#f7c2cb 93.5px,#f7c2cb 108.5px,#f9cbd3 109.5px,#f9cdd5 113.5px,#fad6dc 115.5px,#fbdce1 118.5px,#fce5e9 120.5px,#fefafb 133.5px,#fffdfd 138.5px)"></i>
<i style="left:441px;top:44px;width:139px;background:linear-gradient(90deg,#fefbfc 0.5px,#fbedf1 5.5px,#f2c7d2 16.5px,#eeb4c3 23.5px,#eba7b9 27.5px,#ea9fb2 37.5px,#eca1b3 47.5px,#eda4b5 49.5px,#ed9fb0 54.5px,#ee9eaf 60.5px,#ee96a7 66.5px,#f092a4 79.5px,#f197a8 82.5px,#f7c0ca 95.5px,#f7c1cb 102.5px,#f9cad2 103.5px,#f9ccd4 109.5px,#fad5db 111.5px,#fbdbe0 115.5px,#fce4e8 118.5px,#fdeff1 126.5px,#fffdfd 138.5px)"></i>
<i style="left:439px;top:45px;width:141px;background:linear-gradient(90deg,#fefbfc 0.5px,#fdf6f8 3.5px,#f8e0e6 10.5px,#f2c4d0 17.5px,#e99eb1 30.5px,#e895a9 41.5px,#e996aa 44.5px,#ea97aa 49.5px,#eb99ac 51.5px,#eb93a7 56.5px,#ec91a4 63.5px,#ec8a9e 67.5px,#ef879a 81.5px,#f08ea0 84.5px,#f7bbc6 97.5px,#f9cbd3 103.5px,#f9cfd6 105.5px,#fad6dc 110.5px,#fad7dd 112.5px,#fbdde2 115.5px,#fceaed 125.5px,#fffcfc 138.5px,#fffdfe 140.5px)"></i>
<i style="left:438px;top:46px;width:141px;background:linear-gradient(90deg,#fefbfc 0.5px,#faebef 7.5px,#f6d8e0 12.5px,#f2c6d2 16.5px,#eba6b8 25.5px,#e795aa 31.5px,#e68ba1 42.5px,#e78da3 44.5px,#e78aa0 49.5px,#e98da2 53.5px,#e8879d 57.5px,#ea879c 64.5px,#ea8096 66.5px,#ed7b91 82.5px,#ee7f94 84.5px,#f5adb9 95.5px,#f8c9d1 104.5px,#fad8de 113.5px,#fce5e9 124.5px,#fef9fa 136.5px,#fffdfd 140.5px)"></i>
<i style="left:437px;top:47px;width:142px;background:linear-gradient(90deg,#fefcfc 0.5px,#f9e5eb 9.5px,#f5d3dc 13.5px,#efbbc9 18.5px,#e58da4 32.5px,#e48199 43.5px,#e5829a 46.5px,#e57f97 50.5px,#e7839a 54.5px,#e67c94 56.5px,#e87b92 65.5px,#e77089 68.5px,#eb6f86 83.5px,#ef8397 88.5px,#f3a0af 94.5px,#f7c1cb 103.5px,#fad5db 113.5px,#fce3e8 124.5px,#fef8f9 136.5px,#fffdfd 141.5px)"></i>
<i style="left:436px;top:48px;width:143px;background:linear-gradient(90deg,#fefcfc 0.5px,#f8e3e9 10.5px,#efbac8 18.5px,#e89baf 26.5px,#e2829b 34.5px,#e27792 45.5px,#e37993 47.5px,#e2748f 49.5px,#e47790 55.5px,#e36d88 58.5px,#e66c86 67.5px,#e56580 68.5px,#e7627d 75.5px,#e9637c 84.5px,#ea657e 85.5px,#f4a4b2 97.5px,#f7bec8 104.5px,#f9d3d9 114.5px,#fbdfe4 123.5px,#fef8f9 136.5px,#fffdfe 142.5px)"></i>
<i style="left:436px;top:49px;width:143px;background:linear-gradient(90deg,#fefcfc 0.5px,#f8e3e9 9.5px,#ecafbf 19.5px,#e489a1 29.5px,#e07894 35.5px,#df728e 40.5px,#e0728e 41.5px,#df6d8a 43.5px,#e06e8b 47.5px,#df6784 50.5px,#e16a86 55.5px,#e16885 56.5px,#e0627f 57.5px,#e3617d 64.5px,#e4617d 67.5px,#e25472 69.5px,#e85571 84.5px,#ea627b 86.5px,#ea647d 87.5px,#f297a7 95.5px,#f6b5c1 102.5px,#f9ced5 112.5px,#fbdce2 122.5px,#fef5f7 134.5px,#fffdfe 142.5px)"></i>
<i style="left:436px;top:50px;width:142px;background:linear-gradient(90deg,#fefcfc 0.5px,#fbedf1 6.5px,#f8dfe6 8.5px,#f5d3dc 11.5px,#eba8ba 19.5px,#e388a1 27.5px,#de708d 35.5px,#dd6886 40.5px,#dd6684 42.5px,#dd6281 45.5px,#de6280 48.5px,#dd5c7c 49.5px,#df5e7c 56.5px,#dd5172 58.5px,#e25371 68.5px,#e04565 69.5px,#e64865 84.5px,#e85570 85.5px,#e85570 86.5px,#e95a74 87.5px,#f18e9f 94.5px,#f5afbb 101.5px,#f8c8d0 110.5px,#fadadf 121.5px,#fef4f5 133.5px,#fffdfd 141.5px)"></i>
<i style="left:436px;top:51px;width:142px;background:linear-gradient(90deg,#fefcfc 0.5px,#fcf4f6 4.5px,#f5d5de 9.5px,#edb2c2 16.5px,#e799ae 21.5px,#df7692 30.5px,#dc6685 36.5px,#db5e7f 40.5px,#db5d7e 42.5px,#da5778 44.5px,#dc5979 48.5px,#da4e70 50.5px,#dd5171 57.5px,#db4366 58.5px,#e64865 86.5px,#e85570 87.5px,#e95973 88.5px,#ee7d91 92.5px,#f39fae 98.5px,#f7bcc6 106.5px,#f9cdd5 115.5px,#fad7dd 120.5px,#fdf3f4 132.5px,#fffdfe 141.5px)"></i>
<i style="left:436px;top:52px;width:142px;background:linear-gradient(90deg,#fefcfc 0.5px,#fefcfc 1.5px,#fae9ee 5.5px,#e697ac 20.5px,#df7692 28.5px,#da5d7e 36.5px,#d95b7c 38.5px,#d95477 40.5px,#d95577 42.5px,#d84c6f 44.5px,#da4d70 49.5px,#d74166 50.5px,#e74865 87.5px,#eb6980 90.5px,#f0879a 94.5px,#f4a9b6 101.5px,#f7c3cc 110.5px,#f9d1d8 118.5px,#fdeff2 130.5px,#fffdfe 141.5px)"></i>
<i style="left:438px;top:53px;width:139px;background:linear-gradient(90deg,#fdf7f9 0.5px,#f6d8e0 5.5px,#e387a0 20.5px,#db6484 29.5px,#d75376 35.5px,#d85376 36.5px,#d64a6f 38.5px,#d74b6f 41.5px,#d54066 42.5px,#e74865 85.5px,#ed7187 89.5px,#f191a2 94.5px,#f5aebb 101.5px,#f8c7cf 111.5px,#f9ced6 115.5px,#fdedf0 127.5px,#fffdfd 138.5px)"></i>
<i style="left:437px;top:54px;width:140px;background:linear-gradient(90deg,#fdf7f9 0.5px,#fbeef1 2.5px,#f6d8e0 5.5px,#e07d98 22.5px,#de7391 24.5px,#dd728f 25.5px,#da6384 28.5px,#d5496e 36.5px,#d64a6f 38.5px,#d44067 39.5px,#e74865 86.5px,#ec6f86 90.5px,#f18fa0 95.5px,#f5acb9 102.5px,#f8c5ce 112.5px,#f9cfd6 116.5px,#fdeef0 128.5px,#fffdfd 139.5px)"></i>
<i style="left:436px;top:55px;width:141px;background:linear-gradient(90deg,#fdf7f9 0.5px,#f8e2e8 4.5px,#f0c2cf 9.5px,#dd7290 24.5px,#d65276 32.5px,#d5486e 35.5px,#d5496e 36.5px,#d33f67 37.5px,#e74865 87.5px,#ec6e85 91.5px,#f18d9f 96.5px,#f4aab7 103.5px,#f7c3cc 113.5px,#fdecef 128.5px,#fffcfd 139.5px,#fffdfd 140.5px)"></i>
<i style="left:436px;top:56px;width:141px;background:linear-gradient(90deg,#fdf7f9 0.5px,#ebacbe 12.5px,#d96283 26.5px,#d85b7e 28.5px,#d65176 30.5px,#d4486e 33.5px,#d4486e 34.5px,#d23f67 35.5px,#e74864 87.5px,#ec6d84 91.5px,#f08c9d 96.5px,#f4a9b6 103.5px,#f8c9d1 115.5px,#fceaed 127.5px,#fffcfc 138.5px,#fffdfe 140.5px)"></i>
<i style="left:435px;top:57px;width:142px;background:linear-gradient(90deg,#fdf7f9 0.5px,#fbedf1 2.5px,#f5d7e0 5.5px,#e695ac 16.5px,#d85b7e 27.5px,#d55176 30.5px,#d3476e 32.5px,#d4476e 33.5px,#d23f67 34.5px,#e74864 88.5px,#ec6c83 92.5px,#f08a9c 97.5px,#f4aab7 105.5px,#f8c5ce 115.5px,#fce8ec 127.5px,#fefbfb 138.5px,#fffdfe 141.5px)"></i>
<i style="left:435px;top:58px;width:142px;background:linear-gradient(90deg,#fdf7f9 0.5px,#f0c1ce 8.5px,#e38aa3 17.5px,#d55076 28.5px,#d3476e 31.5px,#d13f67 32.5px,#e74864 88.5px,#ec6b82 92.5px,#f08d9f 98.5px,#f4abb8 106.5px,#f7c2cc 114.5px,#fce6ea 126.5px,#fefafa 137.5px,#fffdfe 141.5px)"></i>
<i style="left:434px;top:59px;width:143px;background:linear-gradient(90deg,#fdf7f9 0.5px,#fbedf1 2.5px,#edb6c6 10.5px,#de7593 21.5px,#d34a71 29.5px,#d3476e 31.5px,#d13e68 32.5px,#e74864 89.5px,#ec6a81 93.5px,#f08c9d 99.5px,#f4aab7 107.5px,#f7c3cc 115.5px,#fce6ea 127.5px,#fffbfc 139.5px,#fffdfe 142.5px)"></i>
<i style="left:434px;top:60px;width:142px;background:linear-gradient(90deg,#fdf7f9 0.5px,#e9a4b8 12.5px,#d85f82 24.5px,#d2466e 29.5px,#d13e68 30.5px,#e74764 88.5px,#e8516c 89.5px,#ea5b74 91.5px,#ee7d90 96.5px,#f39fae 104.5px,#f7c3cc 115.5px,#fce7ea 127.5px,#fefafb 138.5px,#fffdfd 141.5px)"></i>
<i style="left:433px;top:61px;width:143px;background:linear-gradient(90deg,#fdf7f9 0.5px,#fbedf1 2.5px,#ebadbf 11.5px,#dd7593 20.5px,#d34971 28.5px,#d2466e 29.5px,#d03e68 30.5px,#e74764 89.5px,#ea5f78 92.5px,#f08b9d 100.5px,#f9d1d8 120.5px,#fdf0f2 132.5px,#fffdfe 142.5px)"></i>
<i style="left:433px;top:62px;width:143px;background:linear-gradient(90deg,#fdf7f8 0.5px,#e69bb1 13.5px,#da6a8b 21.5px,#d24971 27.5px,#d2466f 28.5px,#d03e68 29.5px,#e74764 89.5px,#ec6e84 94.5px,#f29aa9 104.5px,#fad8de 122.5px,#fef4f5 134.5px,#fffdfe 142.5px)"></i>
<i style="left:432px;top:63px;width:144px;background:linear-gradient(90deg,#fdf7f9 0.5px,#faedf1 2.5px,#ecb2c3 10.5px,#da6a8b 21.5px,#d24971 27.5px,#d1466f 28.5px,#d03e69 29.5px,#e74763 89.5px,#e8506b 90.5px,#e95973 92.5px,#ee798e 97.5px,#f8c6cf 117.5px,#fdedef 131.5px,#fffdfd 142.5px,#fffdfe 143.5px)"></i>
<i style="left:432px;top:64px;width:144px;background:linear-gradient(90deg,#fdf7f8 0.5px,#e69ab0 13.5px,#d75f83 22.5px,#d1466f 27.5px,#cf3e69 28.5px,#e74763 89.5px,#ea5d76 92.5px,#ef8396 99.5px,#f8cbd3 118.5px,#fdeff1 132.5px,#fffdfe 143.5px)"></i>
<i style="left:431px;top:65px;width:144px;background:linear-gradient(90deg,#fdf7f9 0.5px,#faedf1 2.5px,#e495ad 14.5px,#d4547a 24.5px,#d1466f 27.5px,#cf3e69 28.5px,#e74763 90.5px,#ec6b81 95.5px,#f08e9f 103.5px,#f7c5ce 117.5px,#fce9ec 130.5px,#fffbfc 141.5px,#fffdfd 143.5px)"></i>
<i style="left:431px;top:66px;width:144px;background:linear-gradient(90deg,#fdf7f8 0.5px,#e0839f 16.5px,#d9698b 20.5px,#d14972 25.5px,#d0466f 26.5px,#ce3e69 27.5px,#e04465 69.5px,#e64763 89.5px,#e84f6a 90.5px,#e95871 92.5px,#ed768b 97.5px,#f7bfc9 115.5px,#fbe3e7 127.5px,#fef9fa 139.5px,#fffdfe 143.5px)"></i>
<i style="left:430px;top:67px;width:145px;background:linear-gradient(90deg,#fdf7f9 0.5px,#faecf0 2.5px,#de7f9c 17.5px,#d4587e 23.5px,#d14972 25.5px,#d04670 26.5px,#ce3e6a 27.5px,#de4465 66.5px,#e64763 90.5px,#e95b74 93.5px,#ee7f93 100.5px,#f6bdc7 115.5px,#fbe1e6 127.5px,#fefafa 140.5px,#fffdfe 144.5px)"></i>
<i style="left:430px;top:68px;width:145px;background:linear-gradient(90deg,#fdf7f8 0.5px,#da6d8e 19.5px,#d04670 25.5px,#ce3e6a 26.5px,#dc4366 63.5px,#e64663 90.5px,#eb687f 95.5px,#f4abb8 110.5px,#f9d5db 122.5px,#fdf0f3 134.5px,#fffdfe 144.5px)"></i>
<i style="left:429px;top:69px;width:146px;background:linear-gradient(90deg,#fdf7f9 0.5px,#faecf1 2.5px,#e9a9bd 11.5px,#d66185 21.5px,#d04973 25.5px,#cf4670 26.5px,#ce3e6a 27.5px,#de4365 66.5px,#e64663 90.5px,#e74e69 91.5px,#e95670 93.5px,#ed7388 98.5px,#f5b1bd 112.5px,#fadce1 125.5px,#fef4f6 137.5px,#fffdfe 145.5px)"></i>
<i style="left:429px;top:70px;width:145px;background:linear-gradient(90deg,#fdf7f8 0.5px,#d3557c 22.5px,#cf4671 25.5px,#cd3e6a 26.5px,#dc4366 63.5px,#e64662 90.5px,#e95a73 93.5px,#f29fad 107.5px,#f9ced6 120.5px,#fdeef1 133.5px,#fffdfd 144.5px)"></i>
<i style="left:428px;top:71px;width:146px;background:linear-gradient(90deg,#fdf7f9 0.5px,#faecf1 2.5px,#e18ba6 15.5px,#d04a74 24.5px,#cf4671 25.5px,#cd3e6b 26.5px,#db4266 61.5px,#e64662 91.5px,#eb667d 96.5px,#f29bab 107.5px,#f7c6cf 118.5px,#fce7eb 130.5px,#fefafb 142.5px,#fffdfe 145.5px)"></i>
<i style="left:428px;top:72px;width:146px;background:linear-gradient(90deg,#fdf7f9 0.5px,#dc7998 17.5px,#cc3e6b 25.5px,#d94267 58.5px,#e64662 90.5px,#e74d68 91.5px,#e95b74 94.5px,#f090a1 104.5px,#f6bdc7 115.5px,#fbe1e6 127.5px,#fef9fa 140.5px,#fffdfe 145.5px)"></i>
<i style="left:428px;top:73px;width:145px;background:linear-gradient(90deg,#fdf6f8 0.5px,#f2cdd9 5.5px,#d96d8f 18.5px,#d35980 21.5px,#cf4a74 23.5px,#ce4672 24.5px,#cc3e6b 25.5px,#d94266 59.5px,#e64662 90.5px,#e95d76 94.5px,#ef879a 102.5px,#f4acb8 110.5px,#f9d2d9 121.5px,#fdeff1 133.5px,#fffdfd 144.5px)"></i>
<i style="left:427px;top:74px;width:146px;background:linear-gradient(90deg,#fdf7f9 0.5px,#faecf0 2.5px,#edbbcb 8.5px,#d56287 20.5px,#ce4672 24.5px,#cc3e6b 25.5px,#d84167 57.5px,#e64662 91.5px,#eb6a81 97.5px,#f198a7 106.5px,#f7c1ca 116.5px,#fce6ea 129.5px,#fefbfc 142.5px,#fffdfe 145.5px)"></i>
<i style="left:427px;top:75px;width:145px;background:linear-gradient(90deg,#fdf6f8 0.5px,#e089a5 14.5px,#d2567e 21.5px,#ce4672 24.5px,#cc3e6c 25.5px,#d84167 57.5px,#e64562 90.5px,#ea6179 95.5px,#f196a6 105.5px,#f7c2cb 116.5px,#fbe4e8 128.5px,#fef8f9 139.5px,#fffdfd 144.5px)"></i>
<i style="left:427px;top:76px;width:145px;background:linear-gradient(90deg,#fdf6f8 0.5px,#e395ae 12.5px,#ce4a75 22.5px,#cd4672 23.5px,#cb3e6c 24.5px,#d74168 55.5px,#e64562 90.5px,#ee7f93 100.5px,#f4b1bd 111.5px,#fad6dd 122.5px,#fdf2f4 134.5px,#fffdfd 144.5px)"></i>
<i style="left:426px;top:77px;width:145px;background:linear-gradient(90deg,#fdf6f8 0.5px,#faecf0 2.5px,#df89a5 14.5px,#cb3e6c 24.5px,#d54168 54.5px,#e54561 90.5px,#f090a0 104.5px,#f6bac5 114.5px,#fbe0e4 126.5px,#fef7f8 138.5px,#fffdfd 144.5px)"></i>
<i style="left:426px;top:78px;width:145px;background:linear-gradient(90deg,#fdf6f8 0.5px,#edbece 7.5px,#d6698d 18.5px,#ce4a76 22.5px,#cd4673 23.5px,#cb3e6c 24.5px,#d54168 54.5px,#e54561 90.5px,#ec7388 98.5px,#f3a8b5 109.5px,#f9d0d7 120.5px,#fcecef 131.5px,#fffcfc 142.5px,#fffdfd 144.5px)"></i>
<i style="left:426px;top:79px;width:144px;background:linear-gradient(90deg,#fdf6f8 0.5px,#f1ccd8 5.5px,#d35d84 19.5px,#ca3e6d 23.5px,#d44168 52.5px,#e54561 90.5px,#eb6b81 96.5px,#f3a6b3 108.5px,#f9cfd6 119.5px,#fdedf0 131.5px,#fffdfd 143.5px)"></i>
<i style="left:425px;top:80px;width:144px;background:linear-gradient(90deg,#fdf6f8 0.5px,#faebf0 2.5px,#ecb8c9 8.5px,#cd4a76 22.5px,#cc4673 23.5px,#ca3e6d 24.5px,#d54168 54.5px,#e54561 90.5px,#e64c67 91.5px,#e8546e 93.5px,#ed788c 99.5px,#f4b0bc 111.5px,#fad7dd 122.5px,#fdf2f4 134.5px,#fffdfd 143.5px)"></i>
<i style="left:425px;top:81px;width:144px;background:linear-gradient(90deg,#fdf6f8 0.5px,#efc6d4 6.5px,#d25d85 19.5px,#ca3e6d 23.5px,#d44069 52.5px,#e54561 90.5px,#ee8093 100.5px,#f6bac4 113.5px,#fadee3 124.5px,#fef6f7 136.5px,#fffdfd 143.5px)"></i>
<i style="left:425px;top:82px;width:143px;background:linear-gradient(90deg,#fcf6f8 0.5px,#e191ac 12.5px,#cd4a77 21.5px,#cc4674 22.5px,#c93e6d 23.5px,#d44069 52.5px,#e54461 89.5px,#e54461 90.5px,#eb6b81 96.5px,#f195a5 104.5px,#f7c3cc 115.5px,#fbe4e8 126.5px,#fef9fa 138.5px,#fffdfd 142.5px)"></i>
<i style="left:424px;top:83px;width:144px;background:linear-gradient(90deg,#fdf6f8 0.5px,#f9ebf0 2.5px,#db7e9e 15.5px,#c93e6e 23.5px,#d24069 51.5px,#e54461 90.5px,#e64b67 91.5px,#e7546d 93.5px,#ed788d 99.5px,#f3a5b3 108.5px,#f8ced6 119.5px,#fcecef 130.5px,#fffcfc 141.5px,#fffdfd 143.5px)"></i>
<i style="left:424px;top:84px;width:143px;background:linear-gradient(90deg,#fcf6f8 0.5px,#ecbdcd 7.5px,#d56a8f 17.5px,#cc4a77 21.5px,#cb4774 22.5px,#c93e6e 23.5px,#d24069 51.5px,#e54461 89.5px,#e54461 90.5px,#ee8194 100.5px,#f4b0bb 110.5px,#f9d6dc 121.5px,#fdf1f3 132.5px,#fffdfd 142.5px)"></i>
<i style="left:424px;top:85px;width:142px;background:linear-gradient(90deg,#fcf6f8 0.5px,#ecbacc 7.5px,#d25e86 18.5px,#c83e6e 22.5px,#d1406a 49.5px,#e54460 89.5px,#e54460 90.5px,#eb6b81 96.5px,#f196a6 104.5px,#f5b9c4 112.5px,#fadde2 123.5px,#fef5f6 134.5px,#fffdfd 141.5px)"></i>
<i style="left:424px;top:86px;width:142px;background:linear-gradient(90deg,#fcf6f8 0.5px,#e8afc3 8.5px,#cc4a78 20.5px,#cb4775 21.5px,#c83e6e 22.5px,#d1406a 49.5px,#e44460 88.5px,#e54460 89.5px,#e64b66 90.5px,#e7546d 92.5px,#ed798d 98.5px,#f2a1af 106.5px,#f7c3cc 114.5px,#fbe4e8 125.5px,#fef8f9 136.5px,#fffdfd 141.5px)"></i>
<i style="left:423px;top:87px;width:143px;background:linear-gradient(90deg,#fcf6f8 0.5px,#f9eaf0 2.5px,#e29bb4 11.5px,#ca4775 21.5px,#c83e6f 22.5px,#d0406a 49.5px,#e44460 89.5px,#e54460 90.5px,#e95d75 94.5px,#ee8698 101.5px,#f4b1bd 110.5px,#f8cfd6 118.5px,#fdeef1 130.5px,#fffdfe 142.5px)"></i>
<i style="left:423px;top:88px;width:142px;background:linear-gradient(90deg,#fcf6f8 0.5px,#eec3d2 6.5px,#da7f9f 14.5px,#cf5782 19.5px,#c83e6f 22.5px,#d0406a 49.5px,#e44460 89.5px,#e54460 90.5px,#eb6c82 96.5px,#f197a6 104.5px,#f6bbc5 112.5px,#fadadf 121.5px,#fdf3f5 132.5px,#fffdfe 141.5px)"></i>
<i style="left:423px;top:89px;width:141px;background:linear-gradient(90deg,#fcf6f8 0.5px,#d97a9c 14.5px,#cb4a78 20.5px,#ca4776 21.5px,#c73e6f 22.5px,#d0406a 49.5px,#e44360 88.5px,#e44360 89.5px,#e64b66 90.5px,#e7546d 92.5px,#ec7a8e 98.5px,#f3a7b4 107.5px,#f8ccd3 116.5px,#fceaed 127.5px,#fffbfc 138.5px,#fffdfd 140.5px)"></i>
<i style="left:422px;top:90px;width:142px;background:linear-gradient(90deg,#fcf6f8 0.5px,#f9eaf0 2.5px,#da80a1 14.5px,#c73e70 22.5px,#cf3f6b 48.5px,#e44360 89.5px,#e44360 90.5px,#e85d76 94.5px,#ee8799 101.5px,#f4b2be 110.5px,#f9d4da 119.5px,#fdf0f2 130.5px,#fffdfe 141.5px)"></i>
<i style="left:422px;top:91px;width:141px;background:linear-gradient(90deg,#fcf6f8 0.5px,#eec3d2 6.5px,#d46c92 16.5px,#ca4b79 20.5px,#c94776 21.5px,#c73e70 22.5px,#cf3f6b 48.5px,#e44360 88.5px,#e44360 89.5px,#e54b66 90.5px,#e7536d 92.5px,#ef8fa0 102.5px,#f6bcc6 112.5px,#fadbe1 121.5px,#fdf4f6 132.5px,#fffdfe 140.5px)"></i>
<i style="left:422px;top:92px;width:140px;background:linear-gradient(90deg,#fcf6f8 0.5px,#efc8d6 5.5px,#ce5883 18.5px,#c63e70 21.5px,#ce3f6c 47.5px,#e44360 88.5px,#e44360 89.5px,#e85d75 93.5px,#f19baa 104.5px,#f7c6ce 114.5px,#fbe2e7 123.5px,#fef8f9 134.5px,#fffdfd 139.5px)"></i>
<i style="left:422px;top:93px;width:140px;background:linear-gradient(90deg,#fcf5f8 0.5px,#e9b3c7 7.5px,#ca4b7a 19.5px,#c94777 20.5px,#c63e70 21.5px,#ce3f6c 47.5px,#e4435f 88.5px,#e4435f 89.5px,#ea6c82 95.5px,#f3a7b4 106.5px,#f8cfd6 116.5px,#fcebee 126.5px,#fffcfc 137.5px,#fffdfe 139.5px)"></i>
<i style="left:421px;top:94px;width:140px;background:linear-gradient(90deg,#fcf6f8 0.5px,#f9eaef 2.5px,#e29fb8 10.5px,#c94777 20.5px,#c63e70 21.5px,#cd3f6c 46.5px,#e4435f 88.5px,#e4435f 90.5px,#ec7b8e 98.5px,#f4b2be 109.5px,#fadadf 120.5px,#fdf4f6 131.5px,#fffdfe 139.5px)"></i>
<i style="left:421px;top:95px;width:139px;background:linear-gradient(90deg,#fcf6f8 0.5px,#e7afc4 8.5px,#da82a3 13.5px,#cd5884 18.5px,#c63e71 21.5px,#cd3f6c 46.5px,#e4435f 88.5px,#e4435f 89.5px,#e54a66 90.5px,#e7546d 92.5px,#ee889a 100.5px,#f6c0ca 112.5px,#fbe1e6 122.5px,#fef8f9 133.5px,#fffdfd 138.5px)"></i>
<i style="left:421px;top:96px;width:139px;background:linear-gradient(90deg,#fcf5f8 0.5px,#d67599 14.5px,#c94b7b 19.5px,#c84778 20.5px,#c53e71 21.5px,#cd3f6c 46.5px,#e3425f 87.5px,#e4425f 89.5px,#e85e76 93.5px,#f095a5 102.5px,#f7cad2 114.5px,#fce8eb 124.5px,#fefbfc 135.5px,#fffdfe 138.5px)"></i>
<i style="left:421px;top:97px;width:138px;background:linear-gradient(90deg,#fcf5f8 0.5px,#e3a0ba 9.5px,#cf608a 16.5px,#c53e71 20.5px,#cc3f6d 45.5px,#e3425f 87.5px,#e4425f 89.5px,#ea6e83 95.5px,#f2a2b0 104.5px,#f9d2d9 116.5px,#fdedf0 126.5px,#fffdfe 137.5px)"></i>
<i style="left:420px;top:98px;width:138px;background:linear-gradient(90deg,#fcf5f8 0.5px,#f8e9ef 2.5px,#dc8baa 12.5px,#c94b7b 19.5px,#c74778 20.5px,#c53e72 21.5px,#cc3f6d 46.5px,#e3425f 88.5px,#e3425f 89.5px,#e54a65 90.5px,#e6546d 92.5px,#ec7c90 98.5px,#f3aeba 107.5px,#fadbe0 119.5px,#fdf4f6 130.5px,#fffdfd 137.5px)"></i>
<i style="left:420px;top:99px;width:138px;background:linear-gradient(90deg,#fcf5f8 0.5px,#ecc0d1 6.5px,#c43e72 20.5px,#cc3f6d 45.5px,#e3425f 87.5px,#e3425f 89.5px,#e85e76 93.5px,#ee8b9c 100.5px,#f6bcc6 110.5px,#fbe2e6 121.5px,#fef8f9 132.5px,#fffdfe 137.5px)"></i>
<i style="left:420px;top:100px;width:137px;background:linear-gradient(90deg,#fcf5f8 0.5px,#eec6d5 5.5px,#cf618b 16.5px,#c43e72 20.5px,#cc3f6d 45.5px,#e3425f 87.5px,#e3425e 89.5px,#ea6e84 95.5px,#f098a7 102.5px,#f6c3cc 111.5px,#fce9ec 123.5px,#fefbfc 134.5px,#fffdfd 136.5px)"></i>
<i style="left:420px;top:101px;width:136px;background:linear-gradient(90deg,#fcf5f8 0.5px,#e7b0c6 7.5px,#c84b7c 18.5px,#c74779 19.5px,#c43e72 20.5px,#cb3f6d 45.5px,#e3425f 87.5px,#e3425e 89.5px,#ec778b 96.5px,#f2a5b2 104.5px,#f8ccd4 113.5px,#fcecef 124.5px,#fffcfc 134.5px,#fffdfd 135.5px)"></i>
<i style="left:419px;top:102px;width:137px;background:linear-gradient(90deg,#fcf5f8 0.5px,#f8e9ef 2.5px,#e09ab6 10.5px,#c33e73 20.5px,#ca3f6e 44.5px,#e3425f 87.5px,#e3425e 89.5px,#e54a65 90.5px,#e6546d 92.5px,#ef8c9d 100.5px,#f4b1bc 107.5px,#f9d5db 116.5px,#fdf2f4 127.5px,#fffdfd 136.5px)"></i>
<i style="left:419px;top:103px;width:136px;background:linear-gradient(90deg,#fcf5f8 0.5px,#ebbfd0 6.5px,#d985a6 12.5px,#c33e73 20.5px,#ca3f6e 44.5px,#e3425f 87.5px,#e3425e 89.5px,#e85f77 93.5px,#f19aa9 102.5px,#f7c4cd 111.5px,#fbe3e7 120.5px,#fef7f9 130.5px,#fffdfd 135.5px)"></i>
<i style="left:419px;top:104px;width:136px;background:linear-gradient(90deg,#fcf5f7 0.5px,#edc4d4 5.5px,#d26f97 14.5px,#c74b7d 18.5px,#c6477a 19.5px,#c33e73 20.5px,#ca3f6f 44.5px,#e3425e 87.5px,#e3425e 89.5px,#eb7085 95.5px,#f2a7b4 104.5px,#f8ced5 113.5px,#fcecef 123.5px,#fffcfc 133.5px,#fffdfe 135.5px)"></i>
<i style="left:419px;top:105px;width:135px;background:linear-gradient(90deg,#fcf4f7 0.5px,#e3a5be 8.5px,#ce618d 15.5px,#c33e74 19.5px,#c93e6f 43.5px,#e3425e 87.5px,#e3425e 89.5px,#ec798d 96.5px,#f4b3be 106.5px,#f9d7dd 115.5px,#fdf1f3 125.5px,#fffdfd 134.5px)"></i>
<i style="left:419px;top:106px;width:134px;background:linear-gradient(90deg,#fcf4f7 0.5px,#df98b5 9.5px,#c74b7e 17.5px,#c5477b 18.5px,#c23e74 19.5px,#c93e6f 43.5px,#e3425e 86.5px,#e3425e 88.5px,#e54a65 89.5px,#e6556e 91.5px,#ef8f9f 99.5px,#f6bec8 108.5px,#fbe2e6 118.5px,#fef9fa 129.5px,#fffdfd 133.5px)"></i>
<i style="left:418px;top:107px;width:134px;background:linear-gradient(90deg,#fcf5f8 0.5px,#f8e8ee 2.5px,#e19fba 9.5px,#c23d74 19.5px,#c83e70 43.5px,#e3425e 87.5px,#e3425e 89.5px,#e75a72 92.5px,#f19dab 102.5px,#f7c9d1 111.5px,#fbe6ea 120.5px,#fefafa 130.5px,#fffdfd 133.5px)"></i>
<i style="left:418px;top:108px;width:134px;background:linear-gradient(90deg,#fcf4f7 0.5px,#edc6d6 5.5px,#d988aa 11.5px,#cb5a89 16.5px,#c23d75 19.5px,#c83e70 43.5px,#e3425e 87.5px,#e3425e 89.5px,#eb7286 95.5px,#f3aab7 104.5px,#f9d2d9 113.5px,#fcedef 122.5px,#fffcfd 132.5px,#fffdfe 133.5px)"></i>
<i style="left:418px;top:109px;width:133px;background:linear-gradient(90deg,#fcf4f7 0.5px,#ebc1d3 5.5px,#d2719a 13.5px,#c64c7f 17.5px,#c5477c 18.5px,#c13d75 19.5px,#c83e71 42.5px,#e3415e 87.5px,#e3425e 89.5px,#ec7b8e 96.5px,#f4b1bd 105.5px,#f9d8de 114.5px,#fdf0f2 123.5px,#fffdfd 132.5px)"></i>
<i style="left:418px;top:110px;width:132px;background:linear-gradient(90deg,#fcf4f7 0.5px,#e4aac2 7.5px,#cd6390 14.5px,#c13d75 18.5px,#c73e71 41.5px,#e2415e 86.5px,#e3425e 89.5px,#ec7c8f 96.5px,#f3afba 104.5px,#f9d6dc 113.5px,#fdf2f4 123.5px,#fffdfd 131.5px)"></i>
<i style="left:418px;top:111px;width:132px;background:linear-gradient(90deg,#fbf4f7 0.5px,#dc93b3 9.5px,#c64c80 16.5px,#c4477d 17.5px,#c13d76 18.5px,#c73e71 41.5px,#e2415e 86.5px,#e3415e 88.5px,#e44b65 89.5px,#e6566e 91.5px,#ee8c9d 98.5px,#f5bbc5 106.5px,#fadfe4 115.5px,#fef6f8 125.5px,#fffdfe 131.5px)"></i>
<i style="left:417px;top:112px;width:132px;background:linear-gradient(90deg,#fbf4f7 0.5px,#faeff4 1.5px,#d57ca2 12.5px,#c13d76 18.5px,#c63e72 41.5px,#e2415e 87.5px,#e3415e 89.5px,#e75b73 92.5px,#f2a2af 102.5px,#f7cbd2 110.5px,#fce9ec 119.5px,#fefafb 128.5px,#fffdfd 131.5px)"></i>
<i style="left:417px;top:113px;width:131px;background:linear-gradient(90deg,#fbf4f7 0.5px,#ecc3d5 5.5px,#cd6492 14.5px,#c03d76 18.5px,#c63e72 41.5px,#e2415e 87.5px,#e3415e 89.5px,#ea6e83 94.5px,#f4afbb 104.5px,#f9d5db 112.5px,#fcedf0 120.5px,#fffcfd 129.5px,#fffdfd 130.5px)"></i>
<i style="left:417px;top:114px;width:130px;background:linear-gradient(90deg,#fbf4f7 0.5px,#eabed1 5.5px,#c54c81 16.5px,#c3477e 17.5px,#c03d76 18.5px,#c63e72 41.5px,#e2415e 86.5px,#e3415e 88.5px,#e44b65 89.5px,#e6566f 91.5px,#ee8597 97.5px,#f5bcc6 106.5px,#fadee3 114.5px,#fdf3f4 122.5px,#fffdfd 129.5px)"></i>
<i style="left:417px;top:115px;width:129px;background:linear-gradient(90deg,#fbf4f7 0.5px,#e2a6c0 7.5px,#c3487e 16.5px,#c03d77 17.5px,#c53e73 40.5px,#e2415e 86.5px,#e3415d 88.5px,#e75b73 91.5px,#f096a5 99.5px,#f7c8d0 108.5px,#fce9ec 117.5px,#fffcfc 127.5px,#fffdfd 128.5px)"></i>
<i style="left:417px;top:116px;width:129px;background:linear-gradient(90deg,#fbf3f7 0.5px,#dd98b7 8.5px,#ca5b8d 14.5px,#c03d77 17.5px,#c53d73 40.5px,#e2415e 86.5px,#e3415d 88.5px,#ea6f83 93.5px,#f2a5b2 101.5px,#f9d3d9 110.5px,#fdeff2 119.5px,#fffdfd 128.5px)"></i>
<i style="left:417px;top:117px;width:128px;background:linear-gradient(90deg,#fbf3f7 0.5px,#d580a6 10.5px,#c44c82 15.5px,#c3477f 16.5px,#bf3d77 17.5px,#c53d73 40.5px,#e2415e 86.5px,#e3415d 87.5px,#e44b65 88.5px,#e6566f 90.5px,#ed8193 95.5px,#f4b3be 103.5px,#fadde2 112.5px,#fef5f7 121.5px,#fffdfd 127.5px)"></i>
<i style="left:416px;top:118px;width:129px;background:linear-gradient(90deg,#fbf3f7 0.5px,#f9eef3 1.5px,#cd6695 13.5px,#bf3d78 17.5px,#c43d74 40.5px,#e2415e 86.5px,#e3415d 88.5px,#e75c74 91.5px,#f098a7 99.5px,#f6c0c9 106.5px,#fbe5e9 115.5px,#fefafa 124.5px,#fffdfe 128.5px)"></i>
<i style="left:416px;top:119px;width:128px;background:linear-gradient(90deg,#fbf3f7 0.5px,#e6b2ca 6.5px,#c44d83 15.5px,#c24880 16.5px,#bf3c78 17.5px,#c43d74 40.5px,#e2415e 86.5px,#e3415d 88.5px,#ea6f84 93.5px,#f2a7b4 101.5px,#f8ccd3 108.5px,#fceaed 116.5px,#fffcfc 125.5px,#fffdfe 127.5px)"></i>
<i style="left:416px;top:120px;width:127px;background:linear-gradient(90deg,#fbf3f7 0.5px,#e8b8ce 5.5px,#c24881 15.5px,#be3c78 16.5px,#c43d75 39.5px,#e2415e 86.5px,#e2415d 87.5px,#e44b66 88.5px,#e6576f 90.5px,#ed8294 95.5px,#f4b6c0 103.5px,#fadbe0 111.5px,#fdf3f4 119.5px,#fffdfe 126.5px)"></i>
<i style="left:416px;top:121px;width:126px;background:linear-gradient(90deg,#fbf3f6 0.5px,#df9ebc 7.5px,#c95d8f 13.5px,#be3c79 16.5px,#c33d75 39.5px,#e2415d 86.5px,#e2415d 87.5px,#e75c74 90.5px,#f099a8 98.5px,#f6c3cb 105.5px,#fbe4e8 113.5px,#fef6f7 120.5px,#fffdfd 125.5px)"></i>
<i style="left:415px;top:122px;width:127px;background:linear-gradient(90deg,#fbf3f7 0.5px,#f9eef3 1.5px,#d583aa 10.5px,#c34d84 15.5px,#c24881 16.5px,#be3c79 17.5px,#c33d75 39.5px,#e2415e 86.5px,#e2415d 88.5px,#ea7085 93.5px,#f3a9b5 101.5px,#f8cfd6 108.5px,#fcecef 116.5px,#fefbfc 124.5px,#fffdfe 126.5px)"></i>
<i style="left:415px;top:123px;width:126px;background:linear-gradient(90deg,#fbf3f7 0.5px,#e0a4c0 7.5px,#cc6897 12.5px,#c24882 15.5px,#be3c79 16.5px,#c33d76 39.5px,#e2415d 86.5px,#e2415d 87.5px,#e44b66 88.5px,#e65770 90.5px,#ed8395 95.5px,#f5b8c2 103.5px,#fadadf 110.5px,#fdf3f4 118.5px,#fffdfe 125.5px)"></i>
<i style="left:415px;top:124px;width:125px;background:linear-gradient(90deg,#fbf2f6 0.5px,#e3abc6 6.5px,#c34d85 14.5px,#c14882 15.5px,#bd3c7a 16.5px,#c23d76 39.5px,#e2415d 86.5px,#e2415d 87.5px,#e75d74 90.5px,#f19ba9 98.5px,#f7c5cd 105.5px,#fbe3e7 112.5px,#fefafb 121.5px,#fffdfd 124.5px)"></i>
<i style="left:415px;top:125px;width:124px;background:linear-gradient(90deg,#fbf2f6 0.5px,#d685ab 9.5px,#bd3c7a 15.5px,#c23d76 38.5px,#e2415d 86.5px,#e44b66 87.5px,#e65770 89.5px,#ea7186 92.5px,#f3abb7 100.5px,#f8d1d8 107.5px,#fcecee 114.5px,#fffdfd 123.5px)"></i>
<i style="left:415px;top:126px;width:123px;background:linear-gradient(90deg,#fbf2f6 0.5px,#cc6999 11.5px,#bd3c7a 15.5px,#c23d76 38.5px,#e2415d 85.5px,#e2415d 86.5px,#e75d75 89.5px,#ee8b9c 95.5px,#f5bac4 102.5px,#fadce1 109.5px,#fdf3f4 116.5px,#fffdfd 122.5px)"></i>
<i style="left:414px;top:127px;width:124px;background:linear-gradient(90deg,#fbf2f6 0.5px,#f9ecf2 1.5px,#c24d87 14.5px,#c14883 15.5px,#bc3c7b 16.5px,#c13c77 38.5px,#e2415d 86.5px,#e44b66 87.5px,#e65770 89.5px,#ea7286 92.5px,#f19dab 98.5px,#f7c7cf 105.5px,#fbe5e9 112.5px,#fef8f9 119.5px,#fffdfd 123.5px)"></i>
<i style="left:414px;top:128px;width:123px;background:linear-gradient(90deg,#fbf2f6 0.5px,#de9fbe 7.5px,#bc3c7b 15.5px,#c13c77 38.5px,#e2415d 86.5px,#e75d75 89.5px,#ee8c9c 95.5px,#f5b9c3 102.5px,#fadce1 109.5px,#fef6f7 117.5px,#fffdfd 122.5px)"></i>
<i style="left:414px;top:129px;width:122px;background:linear-gradient(90deg,#faf2f6 0.5px,#e4b1cb 5.5px,#c85f93 12.5px,#bc3c7b 15.5px,#c13c77 38.5px,#e2415d 86.5px,#ea7286 91.5px,#f19eab 97.5px,#f8ccd4 105.5px,#fcedef 113.5px,#fffdfd 121.5px)"></i>
<i style="left:414px;top:130px;width:121px;background:linear-gradient(90deg,#faf1f6 0.5px,#da94b7 7.5px,#ca6598 11.5px,#c24e88 13.5px,#c04884 14.5px,#bc3c7c 15.5px,#c03c78 37.5px,#e1415d 85.5px,#e34b66 86.5px,#e65870 88.5px,#ed8697 93.5px,#f3aeb9 99.5px,#f9d8de 107.5px,#fdf4f5 115.5px,#fffcfd 120.5px)"></i>
<i style="left:414px;top:131px;width:121px;background:linear-gradient(90deg,#faf1f6 0.5px,#cc6c9c 10.5px,#bb3c7c 14.5px,#c03c78 37.5px,#e1415d 85.5px,#e75e75 88.5px,#f098a6 95.5px,#f5bdc6 101.5px,#fbe3e7 109.5px,#fef9fa 117.5px,#fffdfd 120.5px)"></i>
<i style="left:414px;top:132px;width:120px;background:linear-gradient(90deg,#faf0f5 0.5px,#c65a90 11.5px,#c24e89 12.5px,#c04885 13.5px,#bb3b7c 14.5px,#c03c78 37.5px,#e1405d 84.5px,#e34b66 85.5px,#e65870 87.5px,#ea7387 90.5px,#f2a9b5 97.5px,#f7cbd2 103.5px,#fcecee 111.5px,#fffdfd 119.5px)"></i>
<i style="left:413px;top:133px;width:120px;background:linear-gradient(90deg,#faf1f6 0.5px,#f8ebf1 1.5px,#bb3b7d 14.5px,#bf3c79 37.5px,#e1405d 85.5px,#e75e76 88.5px,#ef8e9e 94.5px,#f5b8c2 100.5px,#f9d7dd 106.5px,#fdf3f5 114.5px,#fffcfd 119.5px)"></i>
<i style="left:413px;top:134px;width:120px;background:linear-gradient(90deg,#faf1f6 0.5px,#cc6e9e 10.5px,#bf4986 13.5px,#ba3b7d 14.5px,#bf3c79 37.5px,#e1405d 84.5px,#e34b66 85.5px,#e55870 87.5px,#ea7488 90.5px,#f1a0ad 96.5px,#f7c6ce 102.5px,#fbe5e9 109.5px,#fefafb 117.5px,#fffdfd 119.5px)"></i>
<i style="left:413px;top:135px;width:119px;background:linear-gradient(90deg,#faf0f5 0.5px,#dd9dbe 6.5px,#c14f8a 12.5px,#bf4986 13.5px,#ba3b7d 14.5px,#bf3c79 37.5px,#e1405d 84.5px,#e65e76 87.5px,#ef8f9f 93.5px,#f4b1bc 98.5px,#f9d3d9 104.5px,#fdeef0 111.5px,#fffdfd 118.5px)"></i>
<i style="left:413px;top:136px;width:118px;background:linear-gradient(90deg,#faf0f5 0.5px,#d17ca9 8.5px,#bf4987 12.5px,#ba3b7e 13.5px,#be3c7a 36.5px,#e0405e 83.5px,#e34b66 84.5px,#e4506a 85.5px,#ea7488 89.5px,#f1a1ae 95.5px,#f7cbd3 102.5px,#fbe6e9 108.5px,#fef7f8 114.5px,#fffcfd 117.5px)"></i>
<i style="left:412px;top:137px;width:119px;background:linear-gradient(90deg,#faf1f6 0.5px,#f8eaf1 1.5px,#c1508b 12.5px,#bf4987 13.5px,#ba3b7e 14.5px,#be3c7a 37.5px,#e0405d 84.5px,#e65e76 87.5px,#ee8899 92.5px,#f5b8c2 99.5px,#fbe1e5 107.5px,#fef9f9 115.5px,#fffdfd 118.5px)"></i>
<i style="left:412px;top:138px;width:118px;background:linear-gradient(90deg,#faf0f5 0.5px,#e2aec9 5.5px,#b93b7e 13.5px,#bd3b7b 36.5px,#e0405d 84.5px,#ea7488 89.5px,#f1a2af 95.5px,#f7c6ce 101.5px,#fceaed 109.5px,#fffdfd 117.5px)"></i>
<i style="left:412px;top:139px;width:117px;background:linear-gradient(90deg,#faf0f5 0.5px,#cc70a2 9.5px,#be4988 12.5px,#b93b7e 13.5px,#bd3b7b 36.5px,#e0405e 83.5px,#e24b67 84.5px,#e3506a 85.5px,#ed8999 91.5px,#f4b2bd 97.5px,#f9d8de 104.5px,#fdf2f4 111.5px,#fffcfd 116.5px)"></i>
<i style="left:412px;top:140px;width:117px;background:linear-gradient(90deg,#f9eff5 0.5px,#c55c94 10.5px,#c0508c 11.5px,#be4988 12.5px,#b93b7f 13.5px,#bd3b7b 36.5px,#e0405d 83.5px,#e65f76 86.5px,#f09ca9 93.5px,#f6c2ca 99.5px,#fbe3e7 106.5px,#fef8f9 113.5px,#fffdfd 116.5px)"></i>
<i style="left:412px;top:141px;width:116px;background:linear-gradient(90deg,#f9eff4 0.5px,#d894b9 6.5px,#b93b7f 12.5px,#bc3b7c 35.5px,#e0405e 82.5px,#e24b67 83.5px,#e3506a 84.5px,#ea7589 88.5px,#f3adb8 95.5px,#f8d0d6 101.5px,#fcedef 108.5px,#fffdfd 115.5px)"></i>
<i style="left:411px;top:142px;width:117px;background:linear-gradient(90deg,#f9f0f5 0.5px,#f7e8f0 1.5px,#cc72a3 9.5px,#be4a89 12.5px,#b83b7f 13.5px,#bc3b7c 36.5px,#e0405e 83.5px,#e65f77 86.5px,#ef92a1 92.5px,#f5bdc6 98.5px,#fadce1 104.5px,#fdf4f6 111.5px,#fffdfe 116.5px)"></i>
<i style="left:411px;top:143px;width:116px;background:linear-gradient(90deg,#f9eff5 0.5px,#ca6ca0 9.5px,#c0508e 11.5px,#bd4989 12.5px,#b83b80 13.5px,#bc3b7c 36.5px,#df405e 82.5px,#e24b67 83.5px,#e3506b 84.5px,#ea768a 88.5px,#f2a5b1 94.5px,#f8d0d7 101.5px,#fceaed 107.5px,#fefafb 113.5px,#fffdfd 115.5px)"></i>
<i style="left:411px;top:144px;width:116px;background:linear-gradient(90deg,#f9eff4 0.5px,#cd74a6 8.5px,#bd4a8a 11.5px,#b83a80 12.5px,#bb3b7d 35.5px,#df405e 82.5px,#e65f77 85.5px,#ee8b9b 90.5px,#f4b6c0 96.5px,#fadce1 103.5px,#fdf2f4 109.5px,#fffdfe 115.5px)"></i>
<i style="left:411px;top:145px;width:115px;background:linear-gradient(90deg,#f9eef4 0.5px,#c55e98 9.5px,#c0518f 10.5px,#bd4a8a 11.5px,#b73a80 12.5px,#bb3b7d 35.5px,#df405e 81.5px,#e14b67 82.5px,#e3506b 83.5px,#ea768a 87.5px,#f19fac 92.5px,#f7cbd2 99.5px,#fcebee 106.5px,#fffcfc 113.5px,#fffdfe 114.5px)"></i>
<i style="left:411px;top:146px;width:114px;background:linear-gradient(90deg,#f9edf4 0.5px,#da9bbf 5.5px,#b73a81 11.5px,#bb3b7d 35.5px,#df405e 81.5px,#e66078 84.5px,#ee8b9c 89.5px,#f4b7c0 95.5px,#fadde2 102.5px,#fef6f7 109.5px,#fffdfd 113.5px)"></i>
<i style="left:411px;top:147px;width:114px;background:linear-gradient(90deg,#f8edf3 0.5px,#cd77a8 7.5px,#bd4b8c 10.5px,#b73a81 11.5px,#ba3b7e 34.5px,#df405e 81.5px,#ea778b 86.5px,#f2a6b2 92.5px,#f7c6ce 97.5px,#fce8eb 104.5px,#fefbfc 111.5px,#fffdfe 113.5px)"></i>
<i style="left:410px;top:148px;width:114px;background:linear-gradient(90deg,#f9edf4 0.5px,#f6e5ef 1.5px,#eac5da 3.5px,#c5609a 9.5px,#bf5291 10.5px,#bc4a8c 11.5px,#b73a81 12.5px,#ba3b7e 35.5px,#df3f5e 81.5px,#e14b67 82.5px,#e2506b 83.5px,#ee8c9d 89.5px,#f4b7c1 95.5px,#f9d4da 100.5px,#fdf1f3 107.5px,#fffdfe 113.5px)"></i>
<i style="left:410px;top:149px;width:113px;background:linear-gradient(90deg,#f8edf3 0.5px,#ecccde 2.5px,#e1afcc 4.5px,#ce7bab 7.5px,#bd4b8d 10.5px,#b63a82 11.5px,#ba3b7e 35.5px,#df3f5e 81.5px,#e56078 84.5px,#f1a0ad 91.5px,#f7c7ce 97.5px,#fae0e4 102.5px,#fef7f9 109.5px,#fffcfd 112.5px)"></i>
<i style="left:410px;top:150px;width:113px;background:linear-gradient(90deg,#f8ecf3 0.5px,#dda4c5 4.5px,#d287b3 6.5px,#c5629b 8.5px,#bf5392 9.5px,#bc4b8d 10.5px,#b63a82 11.5px,#ba3b7f 35.5px,#de3f5e 80.5px,#e14b68 81.5px,#e2506b 82.5px,#ea778b 86.5px,#f4b2bd 93.5px,#f9d5da 99.5px,#fceef0 105.5px,#fffcfd 111.5px,#fffdfe 112.5px)"></i>
<i style="left:410px;top:151px;width:112px;background:linear-gradient(90deg,#f8ecf3 0.5px,#d58db7 5.5px,#c35f99 8.5px,#b63a82 10.5px,#b93a7f 34.5px,#de3f5e 80.5px,#e56078 83.5px,#ee8d9d 88.5px,#f6c3cb 95.5px,#fbe1e5 101.5px,#fef6f7 107.5px,#fffdfe 111.5px)"></i>
<i style="left:409px;top:152px;width:112px;background:linear-gradient(90deg,#f8edf3 0.5px,#f5e4ee 1.5px,#e8c2d9 3.5px,#c5649d 8.5px,#bf5493 9.5px,#bc4c8e 10.5px,#b63a83 11.5px,#b93a7f 35.5px,#de3f5f 80.5px,#e04b68 81.5px,#e2506c 82.5px,#ea788c 86.5px,#f1a1ae 91.5px,#f9d6dc 99.5px,#fdf2f4 106.5px,#fffcfd 111.5px)"></i>
<i style="left:409px;top:153px;width:112px;background:linear-gradient(90deg,#f8ecf3 0.5px,#d999bf 5.5px,#b53a83 10.5px,#b93a80 35.5px,#de3f5e 80.5px,#e56079 83.5px,#ee8e9e 88.5px,#f5bac3 94.5px,#fbe2e6 101.5px,#fef9fa 108.5px,#fffdfe 111.5px)"></i>
<i style="left:409px;top:154px;width:111px;background:linear-gradient(90deg,#f7ebf2 0.5px,#d58fb9 5.5px,#c35f9a 8.5px,#b53a83 10.5px,#b83a80 34.5px,#de3f5e 80.5px,#e9788c 85.5px,#f1a2af 90.5px,#f7c9d1 96.5px,#fcecef 103.5px,#fffdfd 110.5px)"></i>
<i style="left:409px;top:155px;width:110px;background:linear-gradient(90deg,#f7eaf2 0.5px,#e1afcc 3.5px,#c5649e 7.5px,#bf5594 8.5px,#bc4c8f 9.5px,#b53a83 10.5px,#b83a80 34.5px,#dd3f5f 79.5px,#e04b68 80.5px,#e1506c 81.5px,#ed8e9e 87.5px,#f4b5bf 92.5px,#fadde1 99.5px,#fdf5f6 105.5px,#fffcfd 109.5px)"></i>
<i style="left:409px;top:156px;width:110px;background:linear-gradient(90deg,#f7eaf2 0.5px,#d796bd 4.5px,#bc4e90 8.5px,#b53a84 9.5px,#b83a80 34.5px,#dd3f5f 79.5px,#e56079 82.5px,#f1a2af 89.5px,#f7c5cd 94.5px,#fce8eb 101.5px,#fefbfb 107.5px,#fffdfd 109.5px)"></i>
<i style="left:408px;top:157px;width:110px;background:linear-gradient(90deg,#f7ebf2 0.5px,#f4e2ed 1.5px,#eed1e2 2.5px,#c668a1 7.5px,#bf5796 8.5px,#bc4d90 9.5px,#b43a84 10.5px,#b83a81 35.5px,#dd3f5f 79.5px,#df4b68 80.5px,#e1506c 81.5px,#eb8194 86.5px,#f4b5bf 92.5px,#f9d4da 97.5px,#fdf1f3 104.5px,#fffdfd 109.5px)"></i>
<i style="left:408px;top:158px;width:110px;background:linear-gradient(90deg,#f7eaf2 0.5px,#e9c4da 2.5px,#dca3c5 4.5px,#b43a84 9.5px,#b73a81 34.5px,#dd3f5f 79.5px,#e46079 82.5px,#ef97a6 88.5px,#f6c5cd 94.5px,#fbe5e8 100.5px,#fefafb 107.5px,#fffdfe 109.5px)"></i>
<i style="left:408px;top:159px;width:109px;background:linear-gradient(90deg,#f7e9f1 0.5px,#d796be 4.5px,#c4639e 7.5px,#b43a84 9.5px,#b73a81 34.5px,#dd3f5f 79.5px,#e9788d 84.5px,#f2abb7 90.5px,#f9d4da 96.5px,#fdeff1 102.5px,#fffdfd 108.5px)"></i>
<i style="left:408px;top:160px;width:109px;background:linear-gradient(90deg,#f6e8f1 0.5px,#dda7c9 3.5px,#c669a2 6.5px,#bf5797 7.5px,#bb4e91 8.5px,#b43a85 9.5px,#b73a81 34.5px,#dc3f5f 78.5px,#df4b69 79.5px,#e1506c 80.5px,#ed8f9f 86.5px,#f5bdc6 92.5px,#fbe1e5 98.5px,#fef7f8 104.5px,#fffdfe 108.5px)"></i>
<i style="left:408px;top:161px;width:108px;background:linear-gradient(90deg,#f6e8f0 0.5px,#dba1c5 3.5px,#bc5092 7.5px,#b33a85 8.5px,#b63a82 33.5px,#dc3f5f 78.5px,#e4617a 81.5px,#f1a3b0 88.5px,#f8d2d8 95.5px,#fcebee 100.5px,#fffcfc 106.5px,#fffdfd 107.5px)"></i>
<i style="left:407px;top:162px;width:108px;background:linear-gradient(90deg,#f7e9f1 0.5px,#f3dfeb 1.5px,#ebcbdf 2.5px,#c76da5 6.5px,#bf5a99 7.5px,#bb4f92 8.5px,#b33a85 9.5px,#b63a82 34.5px,#dc3f60 78.5px,#df4b69 79.5px,#e0506d 80.5px,#e9798d 84.5px,#f4b6c0 91.5px,#fadfe4 98.5px,#fdf4f5 103.5px,#fffdfd 107.5px)"></i>
<i style="left:407px;top:163px;width:108px;background:linear-gradient(90deg,#f6e8f1 0.5px,#edd1e3 1.5px,#d798bf 4.5px,#b33a85 8.5px,#b63a82 34.5px,#dc3f5f 78.5px,#e4617a 81.5px,#ed90a0 86.5px,#f7c7ce 93.5px,#fcebed 100.5px,#fefafb 105.5px,#fffdfe 107.5px)"></i>
<i style="left:407px;top:164px;width:107px;background:linear-gradient(90deg,#f6e7f1 0.5px,#dba1c5 3.5px,#c468a2 6.5px,#b33a86 8.5px,#b63a83 34.5px,#dc3f5f 78.5px,#e9798e 83.5px,#f1a4b1 88.5px,#f9d5db 95.5px,#fdf4f5 102.5px,#fffdfd 106.5px)"></i>
<i style="left:407px;top:165px;width:107px;background:linear-gradient(90deg,#f6e7f0 0.5px,#c76fa6 5.5px,#bf5b9a 6.5px,#bb5093 7.5px,#b23a86 8.5px,#b53a83 33.5px,#d23d69 66.5px,#db3f60 77.5px,#de4b69 78.5px,#e0516d 79.5px,#ed90a0 85.5px,#f4b7c1 90.5px,#fbe2e6 97.5px,#fefafb 104.5px,#fffdfe 106.5px)"></i>
<i style="left:407px;top:166px;width:106px;background:linear-gradient(90deg,#f5e5ef 0.5px,#b23a86 7.5px,#b53a83 33.5px,#d33e68 67.5px,#db3f60 77.5px,#e3617b 80.5px,#f1a5b2 87.5px,#f7c8cf 92.5px,#fce8eb 98.5px,#fef9fa 103.5px,#fffdfd 105.5px)"></i>
<i style="left:406px;top:167px;width:107px;background:linear-gradient(90deg,#f6e7f0 0.5px,#f1dce9 1.5px,#e9c6dc 2.5px,#d595be 4.5px,#bb5295 7.5px,#b23a86 8.5px,#b53a83 34.5px,#d53e66 70.5px,#db3e60 77.5px,#de4b6a 78.5px,#df506e 79.5px,#e97b8f 83.5px,#f4b8c2 90.5px,#fadce0 96.5px,#fdf2f3 101.5px,#fffdfe 106.5px)"></i>
<i style="left:406px;top:168px;width:106px;background:linear-gradient(90deg,#f5e5ef 0.5px,#ebcce0 1.5px,#d28db9 4.5px,#c873aa 5.5px,#c05d9c 6.5px,#bb5195 7.5px,#b23a87 8.5px,#b53a84 34.5px,#db3e60 77.5px,#e3627b 80.5px,#ed92a2 85.5px,#f6c2ca 91.5px,#fbe3e7 97.5px,#fef6f7 102.5px,#fffdfd 105.5px)"></i>
<i style="left:406px;top:169px;width:106px;background:linear-gradient(90deg,#f5e4ef 0.5px,#d697c0 3.5px,#c56ca6 5.5px,#b13a87 7.5px,#b43a84 33.5px,#cf3d6b 64.5px,#db3e60 77.5px,#e97b8f 82.5px,#f3afba 88.5px,#f9d7dd 94.5px,#fdf1f3 100.5px,#fffdfe 105.5px)"></i>
<i style="left:406px;top:170px;width:105px;background:linear-gradient(90deg,#f4e4ee 0.5px,#c976ac 4.5px,#c05f9e 5.5px,#bb5296 6.5px,#b13a87 7.5px,#b43a84 33.5px,#cf3d6b 64.5px,#da3e60 76.5px,#dd4b6a 77.5px,#df516e 78.5px,#ed92a2 84.5px,#f6c1c9 90.5px,#fbe4e8 96.5px,#fef9f9 102.5px,#fffdfd 104.5px)"></i>
<i style="left:406px;top:171px;width:105px;background:linear-gradient(90deg,#f4e2ed 0.5px,#b13a87 6.5px,#b43a85 33.5px,#d03d6a 65.5px,#da3e60 76.5px,#e3627c 79.5px,#f1a7b4 86.5px,#f8d1d7 92.5px,#fcebed 97.5px,#fffcfc 103.5px,#fffdfe 104.5px)"></i>
<i style="left:405px;top:172px;width:105px;background:linear-gradient(90deg,#f4e4ef 0.5px,#efd6e6 1.5px,#bc5598 6.5px,#b13a88 7.5px,#b43a85 34.5px,#d13d69 67.5px,#da3e61 76.5px,#dd4b6b 77.5px,#df516f 78.5px,#e97c91 82.5px,#f4bbc4 89.5px,#fadfe3 95.5px,#fdf4f5 100.5px,#fffdfd 104.5px)"></i>
<i style="left:405px;top:173px;width:105px;background:linear-gradient(90deg,#f4e4ee 0.5px,#c162a1 5.5px,#bb5498 6.5px,#b03a88 7.5px,#b33a85 33.5px,#cc3d6d 62.5px,#da3e61 76.5px,#e05875 78.5px,#ef9dab 85.5px,#f7ccd2 91.5px,#fcebee 97.5px,#fefafb 102.5px,#fffdfe 104.5px)"></i>
<i style="left:405px;top:174px;width:104px;background:linear-gradient(90deg,#f3e2ee 0.5px,#b03a88 6.5px,#b33a86 33.5px,#ce3d6c 63.5px,#d93e61 75.5px,#dc4b6b 76.5px,#de516f 77.5px,#e87c91 81.5px,#f3b2bd 87.5px,#fadadf 93.5px,#fdf4f6 99.5px,#fffdfd 103.5px)"></i>
<i style="left:405px;top:175px;width:103px;background:linear-gradient(90deg,#f3e0ec 0.5px,#dba5c9 2.5px,#bb5699 5.5px,#b03a88 6.5px,#b33a86 33.5px,#ce3d6c 63.5px,#d93e61 75.5px,#e05975 77.5px,#ed94a4 83.5px,#f6c5cd 89.5px,#fbe7ea 95.5px,#fefbfb 101.5px,#fffdfd 102.5px)"></i>
<i style="left:405px;top:176px;width:103px;background:linear-gradient(90deg,#f2dfec 0.5px,#cc80b3 3.5px,#c165a3 4.5px,#bb569a 5.5px,#b03989 6.5px,#b33a86 33.5px,#ce3d6c 63.5px,#d93e61 75.5px,#e87d92 80.5px,#f3b2bd 86.5px,#fadadf 92.5px,#fdf0f2 97.5px,#fffdfd 102.5px)"></i>
<i style="left:405px;top:177px;width:102px;background:linear-gradient(90deg,#f2deeb 0.5px,#b03989 5.5px,#b23a86 32.5px,#cb3c6f 60.5px,#d83e62 74.5px,#dc4c6c 75.5px,#de5170 76.5px,#ed95a6 82.5px,#f6c5cd 88.5px,#fbe7ea 94.5px,#fefbfb 100.5px,#fffdfd 101.5px)"></i>
<i style="left:404px;top:178px;width:103px;background:linear-gradient(90deg,#f3e0ed 0.5px,#eccfe3 1.5px,#c979af 4.5px,#af3989 6.5px,#b23a87 33.5px,#cb3c6f 61.5px,#d83e61 75.5px,#df5976 77.5px,#f1abb7 85.5px,#f9d5db 91.5px,#fdf2f3 97.5px,#fffdfd 102.5px)"></i>
<i style="left:404px;top:179px;width:102px;background:linear-gradient(90deg,#f2dfec 0.5px,#cd84b6 3.5px,#c269a6 4.5px,#bc589c 5.5px,#af398a 6.5px,#b23a87 33.5px,#cc3c6e 62.5px,#d83e62 74.5px,#db4c6d 75.5px,#dd5170 76.5px,#e87f94 80.5px,#f5bfc8 87.5px,#fbe3e7 93.5px,#fef9fa 99.5px,#fffdfd 101.5px)"></i>
<i style="left:404px;top:180px;width:101px;background:linear-gradient(90deg,#f2deeb 0.5px,#af398a 5.5px,#b23a87 33.5px,#cc3c6d 62.5px,#d83e62 74.5px,#df5977 76.5px,#ed98a8 82.5px,#f7c9d1 88.5px,#fceaec 94.5px,#fffdfd 100.5px)"></i>
<i style="left:404px;top:181px;width:101px;background:linear-gradient(90deg,#f0dae9 0.5px,#d599c3 2.5px,#bc5a9e 4.5px,#af398a 5.5px,#b13a88 32.5px,#c93c70 59.5px,#d73e63 73.5px,#db4c6d 74.5px,#dd5271 75.5px,#e87f94 79.5px,#f2aeba 84.5px,#f9d9de 90.5px,#fdf3f5 96.5px,#fffdfd 100.5px)"></i>
<i style="left:404px;top:182px;width:100px;background:linear-gradient(90deg,#efd9e9 0.5px,#d08dbc 2.5px,#c36da9 3.5px,#bc5a9e 4.5px,#ae398a 5.5px,#b13a88 32.5px,#c93c70 59.5px,#d73e62 73.5px,#de5a78 75.5px,#ed98a8 81.5px,#f5c2cb 86.5px,#fbe7ea 92.5px,#fefbfb 98.5px,#fffdfd 99.5px)"></i>
<i style="left:404px;top:183px;width:100px;background:linear-gradient(90deg,#efd7e8 0.5px,#ae398b 4.5px,#b13a88 32.5px,#c93c70 59.5px,#d73e62 73.5px,#e88095 78.5px,#f2afbb 83.5px,#f8d3d9 88.5px,#fdf1f3 94.5px,#fffdfd 99.5px)"></i>
<i style="left:403px;top:184px;width:100px;background:linear-gradient(90deg,#f1deec 0.5px,#eacce1 1.5px,#ddabce 2.5px,#ae398b 5.5px,#b13a88 33.5px,#ca3c6f 61.5px,#d63d63 73.5px,#da4c6e 74.5px,#dc5272 75.5px,#ed9aaa 81.5px,#f5c3cb 86.5px,#fbe2e6 91.5px,#fef9fa 97.5px,#fffdfd 99.5px)"></i>
<i style="left:403px;top:185px;width:99px;background:linear-gradient(90deg,#f0daea 0.5px,#e2b8d6 1.5px,#cb80b5 3.5px,#ae398b 5.5px,#b13a88 33.5px,#ca3c6f 61.5px,#d63d63 73.5px,#de5b79 75.5px,#f2b0bc 83.5px,#f8d4da 88.5px,#fceef0 93.5px,#fffdfd 98.5px)"></i>
<i style="left:403px;top:186px;width:99px;background:linear-gradient(90deg,#efd9e9 0.5px,#d08dbc 2.5px,#c36da9 3.5px,#bb5a9f 4.5px,#ad398b 5.5px,#b03a89 32.5px,#c73c72 58.5px,#d63d64 72.5px,#da4c6f 73.5px,#dc5273 74.5px,#e88297 78.5px,#f5c4cd 85.5px,#fbe7ea 91.5px,#fef7f8 95.5px,#fffdfd 98.5px)"></i>
<i style="left:403px;top:187px;width:98px;background:linear-gradient(90deg,#efd7e8 0.5px,#ad398c 4.5px,#b03a89 32.5px,#c73c72 58.5px,#d63d63 72.5px,#de5b79 74.5px,#ed9cac 80.5px,#f8d6db 87.5px,#fdf2f4 93.5px,#fffdfd 97.5px)"></i>
<i style="left:403px;top:188px;width:97px;background:linear-gradient(90deg,#efd7e8 0.5px,#ad398c 4.5px,#b03a89 32.5px,#c83c71 59.5px,#d63d63 72.5px,#e4768e 76.5px,#f0abb8 81.5px,#fadfe3 88.5px,#fdf4f5 93.5px,#fffcfd 96.5px)"></i>
<i style="left:403px;top:189px;width:97px;background:linear-gradient(90deg,#edd4e6 0.5px,#ad398c 4.5px,#b03a89 32.5px,#c83c71 59.5px,#d53d64 71.5px,#d94c6f 72.5px,#db5374 73.5px,#eb92a4 78.5px,#f4c1ca 83.5px,#fcecee 90.5px,#fefbfc 95.5px,#fffdfd 96.5px)"></i>
<i style="left:402px;top:190px;width:97px;background:linear-gradient(90deg,#efd9e9 0.5px,#e6c3dc 1.5px,#c675af 3.5px,#bc5fa2 4.5px,#ac398c 5.5px,#af3989 33.5px,#c83c70 60.5px,#d53d64 72.5px,#dd5c7b 74.5px,#f0abb8 81.5px,#f8d3d9 86.5px,#fdf2f3 92.5px,#fffcfd 96.5px)"></i>
<i style="left:402px;top:191px;width:96px;background:linear-gradient(90deg,#eed7e8 0.5px,#be64a6 3.5px,#ac398d 4.5px,#af398a 32.5px,#c63c73 58.5px,#d43d65 71.5px,#d84d70 72.5px,#db5374 73.5px,#e7859a 77.5px,#f4c0ca 83.5px,#fbe3e6 88.5px,#fefafa 94.5px,#fffcfd 95.5px)"></i>
<i style="left:402px;top:192px;width:96px;background:linear-gradient(90deg,#eed7e8 0.5px,#ac398d 4.5px,#af398a 32.5px,#c63c73 58.5px,#d43d65 71.5px,#dd5c7c 73.5px,#eda0af 79.5px,#f8d3d9 85.5px,#fdeff1 90.5px,#fffdfd 95.5px)"></i>
<i style="left:402px;top:193px;width:95px;background:linear-gradient(90deg,#edd4e6 0.5px,#ac398d 4.5px,#ae398a 32.5px,#c63c73 58.5px,#d33d65 70.5px,#d84d71 71.5px,#da5375 72.5px,#e47b93 75.5px,#f2b7c2 81.5px,#fadde2 86.5px,#fef5f6 91.5px,#fffcfd 94.5px)"></i>
<i style="left:402px;top:194px;width:94px;background:linear-gradient(90deg,#ebd0e4 0.5px,#d7a1c9 1.5px,#c678b2 2.5px,#bc61a4 3.5px,#ab398d 4.5px,#ae398b 32.5px,#c63c72 58.5px,#d33d65 70.5px,#dc5c7c 72.5px,#eda1b1 78.5px,#f6ccd3 83.5px,#fcebee 88.5px,#fffcfd 93.5px)"></i>
<i style="left:402px;top:195px;width:94px;background:linear-gradient(90deg,#eacee3 0.5px,#ab398e 3.5px,#ae398b 32.5px,#c63c72 58.5px,#d33d65 70.5px,#e47a92 74.5px,#f1b1bd 79.5px,#f9dde2 85.5px,#fef6f7 90.5px,#fffdfd 93.5px)"></i>
<i style="left:402px;top:196px;width:93px;background:linear-gradient(90deg,#eacee3 0.5px,#ab398e 3.5px,#ad398b 31.5px,#c33b76 55.5px,#d23d66 69.5px,#d74d72 70.5px,#d95476 71.5px,#eb96a9 76.5px,#f5c7cf 81.5px,#fbe7ea 86.5px,#fefafb 91.5px,#fffcfc 92.5px)"></i>
<i style="left:401px;top:197px;width:93px;background:linear-gradient(90deg,#eed7e8 0.5px,#e4c0db 1.5px,#d397c4 2.5px,#ab398e 4.5px,#ad398c 32.5px,#c33b76 56.5px,#d23d66 70.5px,#dc5d7e 72.5px,#f0b0bd 79.5px,#fadfe4 85.5px,#fef6f7 90.5px,#fffcfc 92.5px)"></i>
<i style="left:401px;top:198px;width:93px;background:linear-gradient(90deg,#edd4e7 0.5px,#dcadd0 1.5px,#ce8cbd 2.5px,#aa398e 4.5px,#ad398c 32.5px,#c43b75 57.5px,#d13d67 69.5px,#d64d73 70.5px,#d95477 71.5px,#e47e96 74.5px,#f3bec8 80.5px,#f9dce1 84.5px,#fcedf0 87.5px,#fffdfd 92.5px)"></i>
<i style="left:401px;top:199px;width:92px;background:linear-gradient(90deg,#ebd0e4 0.5px,#d7a1ca 1.5px,#c578b2 2.5px,#bb61a5 3.5px,#aa398f 4.5px,#ad398c 32.5px,#c43b75 57.5px,#d23d67 69.5px,#db5d7f 71.5px,#eb9bad 76.5px,#f7d2d9 82.5px,#fbe6e9 85.5px,#fef7f8 89.5px,#fffcfc 91.5px)"></i>
<i style="left:401px;top:200px;width:91px;background:linear-gradient(90deg,#eacee3 0.5px,#aa398f 3.5px,#ad398c 32.5px,#c43b74 57.5px,#d13c68 68.5px,#d54d74 69.5px,#d85478 70.5px,#e78aa0 74.5px,#f3bdc8 79.5px,#fae3e7 84.5px,#fdf5f6 88.5px,#fffcfc 90.5px)"></i>
<i style="left:401px;top:201px;width:91px;background:linear-gradient(90deg,#eacee3 0.5px,#a93990 3.5px,#ab398e 31.5px,#c03b78 54.5px,#d03c68 68.5px,#da5e80 70.5px,#eda6b6 76.5px,#f7d2d9 81.5px,#fdf1f3 86.5px,#fffcfd 90.5px)"></i>
<i style="left:401px;top:202px;width:90px;background:linear-gradient(90deg,#e9cee4 0.5px,#a83991 3.5px,#ab398f 31.5px,#c03b79 54.5px,#cf3c69 67.5px,#d44d75 68.5px,#d7547a 69.5px,#e37f99 72.5px,#f3bfca 78.5px,#fae4e8 83.5px,#fef7f8 87.5px,#fffcfc 89.5px)"></i>
<i style="left:401px;top:203px;width:89px;background:linear-gradient(90deg,#e8cbe2 0.5px,#a73992 3.5px,#aa3990 31.5px,#bf3b79 54.5px,#cf3c6a 67.5px,#d95e81 69.5px,#eb9db0 74.5px,#f7d4db 80.5px,#fcedef 84.5px,#fefcfc 88.5px)"></i>
<i style="left:401px;top:204px;width:89px;background:linear-gradient(90deg,#e3c1dd 0.5px,#cb8bc0 1.5px,#bc6bae 2.5px,#a63993 3.5px,#a93990 31.5px,#bf3b7a 54.5px,#ce3c6b 66.5px,#d34e77 67.5px,#d6557b 68.5px,#e2809a 71.5px,#f1b8c4 76.5px,#fbe6e9 82.5px,#fef7f8 86.5px,#fffcfd 88.5px)"></i>
<i style="left:400px;top:205px;width:89px;background:linear-gradient(90deg,#e9cee4 0.5px,#daaed3 1.5px,#c177b6 2.5px,#a53994 3.5px,#a83992 31.5px,#bc3b7d 53.5px,#cd3c6b 67.5px,#d85f83 69.5px,#ea9eb1 74.5px,#f6ced6 79.5px,#fdf3f5 85.5px,#fefcfc 88.5px)"></i>
<i style="left:400px;top:206px;width:89px;background:linear-gradient(90deg,#e8cee5 0.5px,#bc6db1 2.5px,#a43995 3.5px,#a73993 31.5px,#bb3b7f 52.5px,#cc3c6d 66.5px,#d24e79 67.5px,#d5557d 68.5px,#e2819c 71.5px,#f1b9c6 76.5px,#f9e1e6 81.5px,#fef8f9 86.5px,#fffdfe 88.5px)"></i>
<i style="left:400px;top:207px;width:88px;background:linear-gradient(90deg,#e8cee5 0.5px,#a33996 3.5px,#a63994 31.5px,#ba3b7f 52.5px,#cb3c6e 65.5px,#d04e7a 66.5px,#d3557e 67.5px,#edaabb 74.5px,#f7d6dd 79.5px,#fceff2 83.5px,#fffcfc 87.5px)"></i>
<i style="left:400px;top:208px;width:88px;background:linear-gradient(90deg,#e8cee5 0.5px,#a33998 3.5px,#a53995 31.5px,#ba3b80 52.5px,#cb3c6e 65.5px,#d65f86 67.5px,#de7997 69.5px,#f3c3ce 76.5px,#fae2e7 80.5px,#fdf6f7 84.5px,#fffdfe 87.5px)"></i>
<i style="left:400px;top:209px;width:87px;background:linear-gradient(90deg,#e8cee5 0.5px,#a23999 3.5px,#a43996 31.5px,#b93b80 52.5px,#c93c70 64.5px,#cf4e7c 65.5px,#d25580 66.5px,#e0829f 69.5px,#efb5c4 74.5px,#f7d8df 78.5px,#fceff2 82.5px,#fffdfe 86.5px)"></i>
<i style="left:400px;top:210px;width:86px;background:linear-gradient(90deg,#e6cbe4 0.5px,#a1399a 3.5px,#a33997 30.5px,#b63b83 50.5px,#c93c70 64.5px,#d56088 66.5px,#e9a1b5 71.5px,#f5ccd6 76.5px,#fbe9ed 80.5px,#fef9fa 84.5px,#fefcfc 85.5px)"></i>
<i style="left:400px;top:211px;width:86px;background:linear-gradient(90deg,#e1c1e0 0.5px,#c78bc4 1.5px,#b86bb4 2.5px,#a0399b 3.5px,#a23a98 30.5px,#b63b84 50.5px,#c73c72 63.5px,#ce4f7e 64.5px,#d15682 65.5px,#e083a0 68.5px,#f0bac8 73.5px,#f7d9e0 77.5px,#fdf6f7 82.5px,#fffdfe 85.5px)"></i>
<i style="left:400px;top:212px;width:85px;background:linear-gradient(90deg,#dfbdde 0.5px,#9f399c 2.5px,#a13a99 30.5px,#b53b84 50.5px,#c73c72 63.5px,#d4618a 65.5px,#e9a2b7 70.5px,#f5d1da 75.5px,#fbeaee 79.5px,#fffdfe 84.5px)"></i>
<i style="left:399px;top:213px;width:85px;background:linear-gradient(90deg,#e7cee6 0.5px,#d7aed7 1.5px,#bc77bc 2.5px,#9e399d 3.5px,#a03a9a 31.5px,#b53b85 51.5px,#c63c74 63.5px,#cc4f80 64.5px,#d05784 65.5px,#df86a4 68.5px,#f0bcca 73.5px,#f8dee4 77.5px,#fdf3f5 81.5px,#fefcfc 84.5px)"></i>
<i style="left:399px;top:214px;width:85px;background:linear-gradient(90deg,#e6cee7 0.5px,#b76db7 2.5px,#9d399e 3.5px,#9f3a9c 30.5px,#b23b88 49.5px,#c53c74 63.5px,#d3628c 65.5px,#e9a5ba 70.5px,#f7dae1 76.5px,#fdf2f5 80.5px,#fffdfe 84.5px)"></i>
<i style="left:399px;top:215px;width:84px;background:linear-gradient(90deg,#e6cee7 0.5px,#9c3a9f 3.5px,#9e3a9d 30.5px,#b13b89 49.5px,#c43c76 62.5px,#cb4f82 63.5px,#cf5886 64.5px,#df87a6 67.5px,#f0c0ce 72.5px,#fbebef 78.5px,#fef9fa 81.5px,#fffdfe 83.5px)"></i>
<i style="left:399px;top:216px;width:83px;background:linear-gradient(90deg,#e5cbe6 0.5px,#9b3aa0 3.5px,#9d3a9e 30.5px,#b13b89 49.5px,#c23c77 61.5px,#c94f83 62.5px,#cd5788 63.5px,#e9a8bd 69.5px,#f4cfd9 73.5px,#fae9ed 77.5px,#fefbfc 81.5px,#fffdfe 82.5px)"></i>
<i style="left:399px;top:217px;width:82px;background:linear-gradient(90deg,#dfc1e2 0.5px,#c48bc8 1.5px,#b36bb9 2.5px,#9a3aa1 3.5px,#9d3a9f 30.5px,#b03b8a 49.5px,#c23c78 61.5px,#d06390 63.5px,#de89a8 66.5px,#f1c4d1 71.5px,#fae9ed 76.5px,#fefcfc 81.5px)"></i>
<i style="left:399px;top:218px;width:82px;background:linear-gradient(90deg,#ddbde0 0.5px,#993aa2 2.5px,#9c3aa0 30.5px,#af3b8c 48.5px,#c03c79 60.5px,#c85086 61.5px,#cc588a 62.5px,#dd88a8 65.5px,#f2c8d5 71.5px,#f7dbe2 73.5px,#fdf5f7 78.5px,#fffdfe 81.5px)"></i>
<i style="left:399px;top:219px;width:81px;background:linear-gradient(90deg,#ddbde0 0.5px,#983aa3 2.5px,#9a3aa1 29.5px,#ad3b8e 47.5px,#be3c7b 59.5px,#c75088 60.5px,#ca598c 61.5px,#e8a9bf 67.5px,#f6d7e0 72.5px,#fbecf0 75.5px,#fefbfc 79.5px,#fffdfd 80.5px)"></i>
<i style="left:399px;top:220px;width:80px;background:linear-gradient(90deg,#dcbde1 0.5px,#973aa4 2.5px,#9a3aa2 29.5px,#ac3b8e 47.5px,#be3c7c 59.5px,#ce6594 61.5px,#d981a6 63.5px,#edbacb 68.5px,#f9e4ea 73.5px,#fef8f9 77.5px,#fffdfd 79.5px)"></i>
<i style="left:399px;top:221px;width:79px;background:linear-gradient(90deg,#dcbde1 0.5px,#963aa5 2.5px,#993aa3 29.5px,#ac3b8f 47.5px,#bc3c7e 58.5px,#c5528b 59.5px,#c95a8f 60.5px,#dc8cae 63.5px,#f1c9d7 69.5px,#fbeff2 74.5px,#fffdfd 78.5px)"></i>
<i style="left:398px;top:222px;width:79px;background:linear-gradient(90deg,#e5cee9 0.5px,#d4aedb 1.5px,#b677c2 2.5px,#953aa7 3.5px,#983aa4 30.5px,#ab3b90 48.5px,#ba3c80 58.5px,#c4528d 59.5px,#c85b91 60.5px,#cf6b9b 61.5px,#e7acc3 66.5px,#f5d8e2 71.5px,#fdf6f8 76.5px,#fffdfd 78.5px)"></i>
<i style="left:398px;top:223px;width:78px;background:linear-gradient(90deg,#e3cbe8 0.5px,#b06ebf 2.5px,#943aa8 3.5px,#973aa5 30.5px,#a93b92 47.5px,#b93c82 57.5px,#c2528f 58.5px,#c75b93 59.5px,#cd6c9d 60.5px,#e5a8c1 65.5px,#f2cfdb 69.5px,#faeaef 73.5px,#fefbfc 77.5px)"></i>
<i style="left:398px;top:224px;width:78px;background:linear-gradient(90deg,#ddc1e4 0.5px,#c08bcc 1.5px,#ae6bbe 2.5px,#933aa9 3.5px,#963aa6 30.5px,#a93b92 47.5px,#b73c84 56.5px,#c15391 57.5px,#c55c95 58.5px,#d787ae 61.5px,#ecbdcf 66.5px,#f6dee6 70.5px,#fcf4f6 74.5px,#fffdfd 77.5px)"></i>
<i style="left:398px;top:225px;width:77px;background:linear-gradient(90deg,#dbbde3 0.5px,#923aaa 2.5px,#953aa8 29.5px,#a73b94 46.5px,#b53c86 55.5px,#bf5393 56.5px,#c45c97 57.5px,#cb6da1 58.5px,#e0a0be 62.5px,#f1cddb 67.5px,#fbeff3 72.5px,#fffdfd 76.5px)"></i>
<i style="left:398px;top:226px;width:76px;background:linear-gradient(90deg,#dabde3 0.5px,#913aab 2.5px,#943aa9 29.5px,#a63b95 46.5px,#b13b8a 53.5px,#bc5396 54.5px,#bd5495 55.5px,#c35d9a 56.5px,#ca6ea3 57.5px,#d68ab2 59.5px,#e8b6cd 63.5px,#f4d7e2 67.5px,#fcf3f6 72.5px,#fffdfd 75.5px)"></i>
<i style="left:398px;top:227px;width:75px;background:linear-gradient(90deg,#dabde4 0.5px,#903aad 2.5px,#933aaa 29.5px,#a63b96 46.5px,#af3b8c 52.5px,#ba5398 53.5px,#c66aa3 55.5px,#c970a5 56.5px,#dfa2c2 60.5px,#ebc0d4 63.5px,#f6dee7 67.5px,#fdf7f9 72.5px,#fefdfd 74.5px)"></i>
<i style="left:398px;top:228px;width:74px;background:linear-gradient(90deg,#d9bde4 0.5px,#8e3aae 2.5px,#913aab 28.5px,#a23b9a 44.5px,#ab3b90 50.5px,#b7539c 51.5px,#b9549b 52.5px,#be5d9f 53.5px,#cc7caf 55.5px,#da98bd 58.5px,#ebc2d5 62.5px,#f1d3e0 64.5px,#f9ebf0 68.5px,#fefdfd 73.5px)"></i>
<i style="left:398px;top:229px;width:73px;background:linear-gradient(90deg,#d9bde5 0.5px,#8c3ab0 2.5px,#8f3aad 26.5px,#9f3b9d 42.5px,#a93b92 49.5px,#b5549e 50.5px,#c16aa8 52.5px,#c570aa 53.5px,#d897bf 56.5px,#db9dc1 57.5px,#e8bbd2 60.5px,#f4dce7 64.5px,#fcf4f7 69.5px,#fefdfd 72.5px)"></i>
<i style="left:397px;top:230px;width:73px;background:linear-gradient(90deg,#dbc1e7 0.5px,#af78ca 2.5px,#8a3ab2 3.5px,#8b3ab1 20.5px,#953aa7 36.5px,#a63b96 48.5px,#b253a1 49.5px,#b454a0 50.5px,#ba5fa5 51.5px,#c270ad 52.5px,#cd85b7 54.5px,#d799c1 56.5px,#dea7c9 57.5px,#efcfdf 62.5px,#f1d4e2 63.5px,#f9eaf0 66.5px,#fdf9fb 70.5px,#fefdfd 72.5px)"></i>
<i style="left:397px;top:231px;width:71px;background:linear-gradient(90deg,#d7bde6 0.5px,#863ab6 2.5px,#853ab7 16.5px,#903aac 34.5px,#a23b9a 47.5px,#ae53a5 48.5px,#bc6bae 50.5px,#c071b1 51.5px,#cf8ebe 53.5px,#e1b3d1 57.5px,#e6bed6 58.5px,#e8c2d9 59.5px,#f4dfe9 63.5px,#fbf3f7 67.5px,#fefcfd 70.5px)"></i>
<i style="left:397px;top:232px;width:70px;background:linear-gradient(90deg,#d5bde8 0.5px,#803abb 2.5px,#7e3abd 14.5px,#8d3aaf 34.5px,#9c3ba0 45.5px,#a953aa 46.5px,#ab54a9 47.5px,#b15eac 48.5px,#bb70b4 49.5px,#c887be 51.5px,#daa8cd 54.5px,#eacade 58.5px,#f7e7ef 63.5px,#fdf9fb 67.5px,#fefcfd 69.5px)"></i>
<i style="left:397px;top:233px;width:68px;background:linear-gradient(90deg,#d4bde9 0.5px,#7b3ac0 2.5px,#773ac3 13.5px,#8b3ab1 35.5px,#963ba5 43.5px,#a453af 44.5px,#a654ae 45.5px,#ad5eb1 46.5px,#b56cb6 47.5px,#b972b8 48.5px,#c17ebd 49.5px,#ca8fc5 50.5px,#e4bfda 55.5px,#f1dbe9 59.5px,#fbf2f6 64.5px,#fefcfd 67.5px)"></i>
<i style="left:397px;top:234px;width:67px;background:linear-gradient(90deg,#d2bdeb 0.5px,#753ac5 2.5px,#703ac9 12.5px,#873ab4 35.5px,#903bab 41.5px,#9f53b4 42.5px,#a154b3 43.5px,#b16cbb 45.5px,#b571bc 46.5px,#bd7fc1 47.5px,#c891c8 49.5px,#d7abd3 51.5px,#e8cbe2 55.5px,#f5e5ef 59.5px,#fdf8fb 64.5px,#fefcfd 66.5px)"></i>
<i style="left:397px;top:235px;width:66px;background:linear-gradient(90deg,#c4ade8 0.5px,#a07cdb 1.5px,#6f3aca 2.5px,#693acf 11.5px,#863ab5 36.5px,#8a3bb1 39.5px,#9a53b9 40.5px,#9c54b8 41.5px,#a35ebb 42.5px,#ac6cc0 43.5px,#b172c1 44.5px,#b97fc5 45.5px,#c591cb 47.5px,#cc9dd0 48.5px,#d0a3d2 49.5px,#e2c3df 52.5px,#eed8e9 55.5px,#f9f1f6 60.5px,#fefdfe 65.5px)"></i>
<i style="left:397px;top:236px;width:65px;background:linear-gradient(90deg,#b69de6 0.5px,#6b3ace 1.5px,#623ad5 10.5px,#6b3ace 19.5px,#843ab7 37.5px,#9452be 38.5px,#9654bd 39.5px,#a86cc4 41.5px,#ac72c5 42.5px,#bc89cc 44.5px,#c99ed3 46.5px,#cda3d5 47.5px,#d5afd9 48.5px,#e3c7e3 51.5px,#f0dfee 54.5px,#fcf8fb 60.5px,#fefdfe 64.5px)"></i>
<i style="left:397px;top:237px;width:63px;background:linear-gradient(90deg,#b39de8 0.5px,#653ad2 1.5px,#5b3adb 9.5px,#603ad7 16.5px,#7e3abd 35.5px,#8f52c3 36.5px,#9153c2 37.5px,#985dc4 38.5px,#a36cc8 39.5px,#a873ca 40.5px,#b280ce 41.5px,#bf92d3 43.5px,#c79fd7 44.5px,#cca5d9 45.5px,#d7b7df 47.5px,#e2c8e5 49.5px,#e9d3e9 51.5px,#eedcee 52.5px,#f8f1f7 56.5px,#fefdfe 61.5px,#fefdfe 62.5px)"></i>
<i style="left:397px;top:238px;width:61px;background:linear-gradient(90deg,#b09dea 0.5px,#603ad7 1.5px,#543ae0 9.5px,#5a3adb 16.5px,#793ac1 34.5px,#8b53c7 35.5px,#935dc9 36.5px,#9e6bcd 37.5px,#a371ce 38.5px,#b58bd4 40.5px,#c4a0da 42.5px,#c9a5dc 43.5px,#dbc1e4 46.5px,#e0c9e7 47.5px,#e3cce8 48.5px,#e9d6ec 49.5px,#fbf6fa 55.5px,#fefdfe 60.5px)"></i>
<i style="left:396px;top:239px;width:60px;background:linear-gradient(90deg,#cabdf2 0.5px,#a08ce9 1.5px,#5b3adb 2.5px,#4e3ae5 10.5px,#533ae1 16.5px,#723ac7 33.5px,#8553cd 34.5px,#8854cc 35.5px,#905ece 36.5px,#a980d6 38.5px,#b892da 40.5px,#c1a0dd 41.5px,#d4bae5 44.5px,#d8c0e6 45.5px,#e0ccea 46.5px,#f3e8f5 51.5px,#fdfbfd 56.5px,#fefdfe 59.5px)"></i>
<i style="left:396px;top:240px;width:57px;background:linear-gradient(90deg,#c8bdf3 0.5px,#563adf 2.5px,#4a3ae8 9.5px,#4c3ae6 15.5px,#6c3acd 31.5px,#7f53d2 32.5px,#8254d1 33.5px,#8a5ed2 34.5px,#976ed6 35.5px,#9d74d6 36.5px,#bea0e1 39.5px,#c3a6e2 40.5px,#d4bde8 42.5px,#dfcded 44.5px,#e2d0ed 45.5px,#ede1f3 47.5px,#f4ecf6 50.5px,#f8f3f9 51.5px,#fefdfe 56.5px)"></i>
<i style="left:396px;top:241px;width:55px;background:linear-gradient(90deg,#c7bdf4 0.5px,#533ae2 2.5px,#4a3ae8 7.5px,#4c3ae6 17.5px,#663ad2 30.5px,#7c53d6 31.5px,#926dda 33.5px,#9773da 34.5px,#ad8ddf 36.5px,#bea3e4 38.5px,#cbb4e8 39.5px,#d7c4ec 41.5px,#e4d6f1 43.5px,#efe5f5 46.5px,#f5eef8 47.5px,#f9f4fa 50.5px,#fdfcfe 52.5px,#fefdfe 54.5px)"></i>
<i style="left:396px;top:242px;width:52px;background:linear-gradient(90deg,#c6bdf5 0.5px,#503ae4 2.5px,#4a3ae8 6.5px,#4b3ae7 18.5px,#613ad7 29.5px,#7956db 30.5px,#8360dc 31.5px,#9374df 32.5px,#a083e1 33.5px,#b096e4 35.5px,#bda6e7 36.5px,#c3ace8 37.5px,#ded0f1 40.5px,#e8ddf4 42.5px,#efe7f7 43.5px,#f5f0f9 46.5px,#fcfafd 48.5px,#fdfcfe 51.5px)"></i>
<i style="left:396px;top:243px;width:48px;background:linear-gradient(90deg,#c5bdf6 0.5px,#4e3ae5 2.5px,#4a3ae8 6.5px,#4c3ae7 19.5px,#5c3adb 28.5px,#7658df 29.5px,#8264e0 30.5px,#9377e3 31.5px,#9f85e5 32.5px,#af99e8 33.5px,#b9a5ea 34.5px,#bfabeb 35.5px,#d3c4f0 37.5px,#e0d4f3 39.5px,#e9e1f6 40.5px,#f0eaf8 42.5px,#f7f3fb 43.5px,#fbf9fd 45.5px,#fcfafd 47.5px)"></i>
<i style="left:396px;top:244px;width:44px;background:linear-gradient(90deg,#b6adf4 0.5px,#897cee 1.5px,#4c3ae7 2.5px,#4a3ae8 16.5px,#4e3ae5 21.5px,#583adf 27.5px,#7459e3 28.5px,#8066e4 29.5px,#957ee7 30.5px,#c9bbf0 34.5px,#d7cbf3 36.5px,#e2d9f6 37.5px,#eae3f8 39.5px,#f3eefa 40.5px,#f8f5fc 41.5px,#faf8fd 43.5px)"></i>
<i style="left:396px;top:245px;width:41px;background:linear-gradient(90deg,#a79df2 0.5px,#4d3ae6 1.5px,#4a3ae8 7.5px,#4c3ae7 20.5px,#543ae2 26.5px,#725be6 27.5px,#806ae7 28.5px,#b6a7ef 31.5px,#cbc0f3 33.5px,#d9d0f5 34.5px,#e1daf7 35.5px,#e4dcf7 36.5px,#eee9fa 37.5px,#f5f2fc 38.5px,#f8f5fc 40.5px)"></i>
<i style="left:396px;top:246px;width:38px;background:linear-gradient(90deg,#a79df2 0.5px,#4d3ae6 1.5px,#4a3ae8 9.5px,#4b3ae7 20.5px,#523ae3 25.5px,#735fe8 26.5px,#7f6ce9 27.5px,#9786ec 28.5px,#cac0f4 31.5px,#d5ccf6 32.5px,#dad2f6 33.5px,#e8e3f9 34.5px,#f1edfb 35.5px,#f4f1fc 37.5px)"></i>
<i style="left:396px;top:247px;width:35px;background:linear-gradient(90deg,#a69df2 0.5px,#4d3ae6 1.5px,#4a3ae8 12.5px,#4d3ae6 21.5px,#4f3ae5 23.5px,#6d5be9 24.5px,#7360e9 25.5px,#8371eb 26.5px,#9a8bee 27.5px,#ab9ef0 28.5px,#c1b6f3 29.5px,#ccc3f5 30.5px,#ded8f8 31.5px,#eae6fa 32.5px,#f0ecfb 34.5px)"></i>
<i style="left:395px;top:248px;width:33px;background:linear-gradient(90deg,#c4bdf6 0.5px,#988cf0 1.5px,#4d3ae6 2.5px,#4a3ae8 11.5px,#4c3ae7 21.5px,#4e3ae6 23.5px,#6c5bea 24.5px,#7c6beb 25.5px,#8f80ee 26.5px,#9e91ef 27.5px,#b4a9f2 28.5px,#c3baf5 29.5px,#d6d0f8 30.5px,#e5e1fa 31.5px,#e9e4fa 32.5px)"></i>
<i style="left:395px;top:249px;width:31px;background:linear-gradient(90deg,#c4bdf7 0.5px,#4d3ae6 2.5px,#4a3ae8 13.5px,#4d3ae6 22.5px,#6f5feb 23.5px,#7b6bec 24.5px,#a89df2 26.5px,#b8aff4 27.5px,#cfc8f7 28.5px,#dfdafa 29.5px,#e4e0fa 30.5px)"></i>
<i style="left:395px;top:250px;width:29px;background:linear-gradient(90deg,#c8c1f7 0.5px,#978bf0 1.5px,#7a6bec 2.5px,#4d3ae7 3.5px,#4a3ae8 17.5px,#4d3ae7 21.5px,#7161eb 22.5px,#8071ed 23.5px,#968af0 24.5px,#a79df2 25.5px,#d4cef8 27.5px,#dfdbfa 28.5px)"></i>
<i style="left:395px;top:251px;width:28px;background:linear-gradient(90deg,#d1cbf8 0.5px,#7c6eed 2.5px,#4d3ae7 3.5px,#4b3ae8 17.5px,#4c3ae7 19.5px,#7365ec 20.5px,#7769ec 21.5px,#8679ee 22.5px,#b1a8f4 24.5px,#c0b9f6 25.5px,#d3cef8 26.5px,#e2defb 27.5px)"></i>
<i style="left:395px;top:252px;width:27px;background:linear-gradient(90deg,#d3cef9 0.5px,#b6aef5 1.5px,#897cef 2.5px,#4d3ae7 3.5px,#4b3ae8 15.5px,#786bed 16.5px,#796bed 19.5px,#887cef 20.5px,#a298f2 21.5px,#b5adf5 23.5px,#cdc8f8 24.5px,#ddd9fa 25.5px,#e2defb 26.5px)"></i>
<i style="left:396px;top:253px;width:24px;background:linear-gradient(90deg,#c7c1f7 0.5px,#b5adf5 1.5px,#978cf1 2.5px,#887cef 3.5px,#877cef 14.5px,#a59df3 16.5px,#a69df3 18.5px,#aaa1f4 19.5px,#c4bdf7 20.5px,#d5d0f9 21.5px,#ddd9fa 23.5px)"></i>
<i style="left:398px;top:254px;width:19px;background:linear-gradient(90deg,#c4bdf7 0.5px,#c3bdf7 12.5px,#c7c1f8 13.5px,#d0cbf9 14.5px,#d8d4fa 18.5px)"></i>
<svg width="685" height="579" viewBox="0 0 685 579">
<defs>
<filter id="b1" x="-20%" y="-20%" width="140%" height="140%"><feGaussianBlur stdDeviation="1.2"/></filter>
<filter id="b2" x="-20%" y="-20%" width="140%" height="140%"><feGaussianBlur stdDeviation="2.5"/></filter>
<filter id="b4" x="-30%" y="-30%" width="160%" height="160%"><feGaussianBlur stdDeviation="4"/></filter>
<filter id="b6" x="-30%" y="-30%" width="160%" height="160%"><feGaussianBlur stdDeviation="6"/></filter>
<filter id="b9" x="-40%" y="-40%" width="180%" height="180%"><feGaussianBlur stdDeviation="9"/></filter>
<linearGradient id="cbar" x1="0" y1="0" x2="0" y2="1">
<stop offset="0" stop-color="#ff0000"/><stop offset="0.3" stop-color="#c8084a"/>
<stop offset="0.3" stop-color="#b0000c"/><stop offset="0.6" stop-color="#6a006a"/>
<stop offset="1" stop-color="#0000ff"/></linearGradient>
<clipPath id="clipA"><rect x="23" y="14" width="305" height="266"/></clipPath>
<clipPath id="clipB"><rect x="391" y="14" width="288" height="265"/></clipPath>
</defs>
<g clip-path="url(#clipA)">
<line x1="26.5" y1="254.5" x2="179.6" y2="14" stroke="#999" stroke-width="1.5" stroke-dasharray="1.4,0.8" opacity="1"/>
<line x1="26.5" y1="254.5" x2="183.5" y2="14" stroke="#858585" stroke-width="1.5" stroke-dasharray="2.4,0.9" opacity="1"/>
<line x1="26.4" y1="252" x2="190.7" y2="14" stroke="#6a6a6a" stroke-width="1.3" stroke-dasharray="3,1.3" opacity="1"/>
<line x1="26.3" y1="249" x2="203.2" y2="14" stroke="#333" stroke-width="1.35" stroke-dasharray="3.8,1.6" opacity="1"/>
<line x1="26.1" y1="244.6" x2="230.2" y2="14" stroke="#262626" stroke-width="1.4" stroke-dasharray="5,2" opacity="1"/>
<line x1="26.1" y1="206.6" x2="288.5" y2="152.7" stroke="#151515" stroke-width="1.4" opacity="1"/>
</g>
<rect x="22.5" y="13.5" width="306" height="266.7" fill="none" stroke="#555" stroke-width="1"/>
<text x="18.3" y="282.9" font-size="7.5" fill="#2a2a2a" text-anchor="end">0</text>
<text x="18.3" y="229.6" font-size="7.5" fill="#2a2a2a" text-anchor="end">1</text>
<text x="18.3" y="176.2" font-size="7.5" fill="#2a2a2a" text-anchor="end">2</text>
<text x="18.3" y="122.9" font-size="7.5" fill="#2a2a2a" text-anchor="end">3</text>
<text x="18.3" y="69.5" font-size="7.5" fill="#2a2a2a" text-anchor="end">4</text>
<text x="18.3" y="16.2" font-size="7.5" fill="#2a2a2a" text-anchor="end">5</text>
<text x="22.7" y="290.4" font-size="7.5" fill="#2a2a2a" text-anchor="middle">0</text>
<text x="80.5" y="290.4" font-size="7.5" fill="#2a2a2a" text-anchor="middle">20</text>
<text x="138.3" y="290.4" font-size="7.5" fill="#2a2a2a" text-anchor="middle">40</text>
<text x="196.1" y="290.4" font-size="7.5" fill="#2a2a2a" text-anchor="middle">60</text>
<text x="253.9" y="290.4" font-size="7.5" fill="#2a2a2a" text-anchor="middle">80</text>
<text x="129" y="299.5" font-size="7.5" fill="#2a2a2a" textLength="70" lengthAdjust="spacingAndGlyphs">P<tspan font-size="5" dy="1.5">a</tspan><tspan dy="-1.5">O</tspan><tspan font-size="5" dy="1.5">2</tspan><tspan dy="-1.5">/F</tspan><tspan font-size="5" dy="1.5">i</tspan><tspan dy="-1.5">O</tspan><tspan font-size="5" dy="1.5">2</tspan><tspan dy="-1.5"> ratio (kPa)</tspan></text>
<text transform="translate(10.8,174) rotate(-90)" font-size="7.5" fill="#2a2a2a" textLength="52" lengthAdjust="spacingAndGlyphs">S<tspan font-size="5" dy="1.5">a</tspan><tspan dy="-1.5">O</tspan><tspan font-size="5" dy="1.5">2</tspan><tspan dy="-1.5">/F</tspan><tspan font-size="5" dy="1.5">i</tspan><tspan dy="-1.5">O</tspan><tspan font-size="5" dy="1.5">2</tspan><tspan dy="-1.5"> ratio</tspan></text>
<text x="-1" y="7.5" font-size="14" font-weight="bold" fill="#111">a</text>
<rect x="183.5" y="229.5" width="89.5" height="47.5" fill="#fff" stroke="#ccc" stroke-width="0.6"/>
<line x1="185" y1="234.1" x2="196.7" y2="234.1" stroke="#555" stroke-width="1.5" opacity="1"/>
<text x="200.6" y="236.2" font-size="5.9" fill="#2a2a2a" textLength="67" lengthAdjust="spacingAndGlyphs">S<tspan font-size="4" dy="1">a</tspan><tspan dy="-1">O</tspan><tspan font-size="4" dy="1">2</tspan><tspan dy="-1"> &lt; 1.00or F</tspan><tspan font-size="4" dy="1">i</tspan><tspan dy="-1">O</tspan><tspan font-size="4" dy="1">2</tspan><tspan dy="-1"> = 0.21</tspan></text>
<line x1="185" y1="241.72" x2="196.7" y2="241.72" stroke="#333" stroke-width="1.2" stroke-dasharray="5.6,2.2" opacity="1"/>
<text x="200.6" y="243.8" font-size="5.9" fill="#2a2a2a" textLength="67" lengthAdjust="spacingAndGlyphs">S<tspan font-size="4" dy="1">a</tspan><tspan dy="-1">O</tspan><tspan font-size="4" dy="1">2</tspan><tspan dy="-1"> &lt; 0.98or F</tspan><tspan font-size="4" dy="1">i</tspan><tspan dy="-1">O</tspan><tspan font-size="4" dy="1">2</tspan><tspan dy="-1"> = 0.21</tspan></text>
<line x1="185" y1="249.34" x2="196.7" y2="249.34" stroke="#444" stroke-width="1.2" stroke-dasharray="5.2,1.7" opacity="1"/>
<text x="200.6" y="251.4" font-size="5.9" fill="#2a2a2a" textLength="67" lengthAdjust="spacingAndGlyphs">S<tspan font-size="4" dy="1">a</tspan><tspan dy="-1">O</tspan><tspan font-size="4" dy="1">2</tspan><tspan dy="-1"> &lt; 0.96or F</tspan><tspan font-size="4" dy="1">i</tspan><tspan dy="-1">O</tspan><tspan font-size="4" dy="1">2</tspan><tspan dy="-1"> = 0.21</tspan></text>
<line x1="185" y1="256.96" x2="196.7" y2="256.96" stroke="#8a8a8a" stroke-width="1.4" stroke-dasharray="4,1" opacity="1"/>
<text x="200.6" y="259.1" font-size="5.9" fill="#2a2a2a" textLength="67" lengthAdjust="spacingAndGlyphs">S<tspan font-size="4" dy="1">a</tspan><tspan dy="-1">O</tspan><tspan font-size="4" dy="1">2</tspan><tspan dy="-1"> &lt; 0.94or F</tspan><tspan font-size="4" dy="1">i</tspan><tspan dy="-1">O</tspan><tspan font-size="4" dy="1">2</tspan><tspan dy="-1"> = 0.21</tspan></text>
<line x1="185" y1="264.58" x2="196.7" y2="264.58" stroke="#666" stroke-width="1.0" stroke-dasharray="2.8,1.1" opacity="1"/>
<text x="200.6" y="266.7" font-size="5.9" fill="#2a2a2a" textLength="67" lengthAdjust="spacingAndGlyphs">S<tspan font-size="4" dy="1">a</tspan><tspan dy="-1">O</tspan><tspan font-size="4" dy="1">2</tspan><tspan dy="-1"> &lt; 0.92or F</tspan><tspan font-size="4" dy="1">i</tspan><tspan dy="-1">O</tspan><tspan font-size="4" dy="1">2</tspan><tspan dy="-1"> = 0.21</tspan></text>
<line x1="185" y1="272.2" x2="196.7" y2="272.2" stroke="#999" stroke-width="1.0" stroke-dasharray="1,1" opacity="1"/>
<text x="200.6" y="274.3" font-size="5.9" fill="#2a2a2a" textLength="67" lengthAdjust="spacingAndGlyphs">S<tspan font-size="4" dy="1">a</tspan><tspan dy="-1">O</tspan><tspan font-size="4" dy="1">2</tspan><tspan dy="-1"> &lt; 0.90or F</tspan><tspan font-size="4" dy="1">i</tspan><tspan dy="-1">O</tspan><tspan font-size="4" dy="1">2</tspan><tspan dy="-1"> = 0.21</tspan></text>
<rect x="290.2" y="200.7" width="11.4" height="73" fill="url(#cbar)"/>
<line x1="301.6" y1="200.9" x2="304" y2="200.9" stroke="#444" stroke-width="0.7" opacity="1"/>
<text x="305.8" y="203.7" font-size="7.8" fill="#2a2a2a">1.0</text>
<line x1="301.6" y1="215.45000000000002" x2="304" y2="215.45000000000002" stroke="#444" stroke-width="0.7" opacity="1"/>
<text x="305.8" y="218.3" font-size="7.8" fill="#2a2a2a">0.9</text>
<line x1="301.6" y1="230.0" x2="304" y2="230.0" stroke="#444" stroke-width="0.7" opacity="1"/>
<text x="305.8" y="232.8" font-size="7.8" fill="#2a2a2a">0.8</text>
<line x1="301.6" y1="244.55" x2="304" y2="244.55" stroke="#444" stroke-width="0.7" opacity="1"/>
<text x="305.8" y="247.4" font-size="7.8" fill="#2a2a2a">0.7</text>
<line x1="301.6" y1="259.1" x2="304" y2="259.1" stroke="#444" stroke-width="0.7" opacity="1"/>
<text x="305.8" y="261.9" font-size="7.8" fill="#2a2a2a">0.6</text>
<line x1="301.6" y1="273.65" x2="304" y2="273.65" stroke="#444" stroke-width="0.7" opacity="1"/>
<text x="305.8" y="276.4" font-size="7.8" fill="#2a2a2a">0.5</text>
<text transform="translate(326,245) rotate(-90)" font-size="8.6" fill="#2a2a2a">S<tspan font-size="5.8" dy="1.6">a</tspan><tspan dy="-1.6">O</tspan><tspan font-size="5.8" dy="1.6">2</tspan></text>
<rect x="390.5" y="13.5" width="288.6" height="265.6" fill="none" stroke="#555" stroke-width="1"/>
<text x="388.6" y="281.4" font-size="7.5" fill="#2a2a2a" text-anchor="end">0</text>
<text x="388.6" y="228.3" font-size="7.5" fill="#2a2a2a" text-anchor="end">1</text>
<text x="388.6" y="175.2" font-size="7.5" fill="#2a2a2a" text-anchor="end">2</text>
<text x="388.6" y="122.1" font-size="7.5" fill="#2a2a2a" text-anchor="end">3</text>
<text x="388.6" y="69.0" font-size="7.5" fill="#2a2a2a" text-anchor="end">4</text>
<text x="388.6" y="15.9" font-size="7.5" fill="#2a2a2a" text-anchor="end">5</text>
<text x="390.6" y="289.9" font-size="7.5" fill="#2a2a2a" text-anchor="middle">0</text>
<text x="448.3" y="289.9" font-size="7.5" fill="#2a2a2a" text-anchor="middle">20</text>
<text x="506.0" y="289.9" font-size="7.5" fill="#2a2a2a" text-anchor="middle">40</text>
<text x="563.7" y="289.9" font-size="7.5" fill="#2a2a2a" text-anchor="middle">60</text>
<text x="621.4" y="289.9" font-size="7.5" fill="#2a2a2a" text-anchor="middle">80</text>
<text x="679.1" y="289.9" font-size="7.5" fill="#2a2a2a" text-anchor="middle">100</text>
<text x="499.6" y="300.3" font-size="7.5" fill="#2a2a2a" textLength="71.8" lengthAdjust="spacingAndGlyphs">P<tspan font-size="5" dy="1.5">a</tspan><tspan dy="-1.5">O</tspan><tspan font-size="5" dy="1.5">2</tspan><tspan dy="-1.5">/F</tspan><tspan font-size="5" dy="1.5">i</tspan><tspan dy="-1.5"> O</tspan><tspan font-size="5" dy="1.5">2</tspan><tspan dy="-1.5"> ratio (kPa)</tspan></text>
<text transform="translate(378.6,173) rotate(-90)" font-size="7.5" fill="#2a2a2a" textLength="52.3" lengthAdjust="spacingAndGlyphs">S<tspan font-size="5" dy="1.5">a</tspan><tspan dy="-1.5">O</tspan><tspan font-size="5" dy="1.5">2</tspan><tspan dy="-1.5">/F</tspan><tspan font-size="5" dy="1.5">i</tspan><tspan dy="-1.5">O</tspan><tspan font-size="5" dy="1.5">2</tspan><tspan dy="-1.5"> ratio</tspan></text>
<text x="368" y="9.3" font-size="13" fill="#111">b</text>
<rect x="637.4" y="198.3" width="11.4" height="72.3" fill="url(#cbar)"/>
<line x1="648.8" y1="198.5" x2="651" y2="198.5" stroke="#444" stroke-width="0.7" opacity="1"/>
<text x="653" y="201.3" font-size="7.8" fill="#2a2a2a">1.0</text>
<line x1="648.8" y1="212.94" x2="651" y2="212.94" stroke="#444" stroke-width="0.7" opacity="1"/>
<text x="653" y="215.7" font-size="7.8" fill="#2a2a2a">0.9</text>
<line x1="648.8" y1="227.38" x2="651" y2="227.38" stroke="#444" stroke-width="0.7" opacity="1"/>
<text x="653" y="230.2" font-size="7.8" fill="#2a2a2a">0.8</text>
<line x1="648.8" y1="241.82" x2="651" y2="241.82" stroke="#444" stroke-width="0.7" opacity="1"/>
<text x="653" y="244.6" font-size="7.8" fill="#2a2a2a">0.7</text>
<line x1="648.8" y1="256.26" x2="651" y2="256.26" stroke="#444" stroke-width="0.7" opacity="1"/>
<text x="653" y="259.1" font-size="7.8" fill="#2a2a2a">0.6</text>
<line x1="648.8" y1="270.7" x2="651" y2="270.7" stroke="#444" stroke-width="0.7" opacity="1"/>
<text x="653" y="273.5" font-size="7.8" fill="#2a2a2a">0.5</text>
<text transform="translate(674,242.5) rotate(-90)" font-size="8.6" fill="#2a2a2a">S<tspan font-size="5.8" dy="1.6">a</tspan><tspan dy="-1.6">O</tspan><tspan font-size="5.8" dy="1.6">2</tspan></text>
<text x="-0.6" y="325.8" font-size="11" font-weight="bold" fill="#111">c</text>
<line x1="38.25" y1="347.5" x2="38.25" y2="444" stroke="#666" stroke-width="0.8" opacity="1"/>
<line x1="38.25" y1="513.4" x2="38.25" y2="562.4" stroke="#666" stroke-width="0.8" opacity="1"/>
<rect x="28.9" y="444.0" width="18.7" height="69.4" fill="#e02024" stroke="#4a4a4a" stroke-width="0.65"/>
<line x1="28.9" y1="483.7" x2="47.6" y2="483.7" stroke="#5a2630" stroke-width="0.85" opacity="1"/>
<text x="38.2" y="570.9" font-size="5.4" fill="#333" text-anchor="middle" style="font-family:'Liberation Serif',serif">100</text>
<text x="39.9" y="334.8" font-size="5" fill="#333" text-anchor="middle" style="font-family:'Liberation Serif',serif">n=4801</text>
<line x1="61.35" y1="348.5" x2="61.35" y2="448" stroke="#666" stroke-width="0.8" opacity="1"/>
<line x1="61.35" y1="514.6" x2="61.35" y2="562.4" stroke="#666" stroke-width="0.8" opacity="1"/>
<line x1="56.15" y1="348.5" x2="66.55" y2="348.5" stroke="#555" stroke-width="0.8" opacity="1"/>
<rect x="52.0" y="448.0" width="18.7" height="66.6" fill="#df2026" stroke="#4a4a4a" stroke-width="0.65"/>
<line x1="52.0" y1="486.3" x2="70.7" y2="486.3" stroke="#5a2630" stroke-width="0.85" opacity="1"/>
<text x="61.4" y="570.9" font-size="5.4" fill="#333" text-anchor="middle" style="font-family:'Liberation Serif',serif">99</text>
<text x="63.0" y="334.8" font-size="5" fill="#333" text-anchor="middle" style="font-family:'Liberation Serif',serif">n=4390</text>
<line x1="84.44999999999999" y1="371.3" x2="84.44999999999999" y2="459" stroke="#666" stroke-width="0.8" opacity="1"/>
<line x1="84.44999999999999" y1="517.6" x2="84.44999999999999" y2="562.4" stroke="#666" stroke-width="0.8" opacity="1"/>
<line x1="79.24999999999999" y1="371.3" x2="89.64999999999999" y2="371.3" stroke="#555" stroke-width="0.8" opacity="1"/>
<rect x="75.1" y="459.0" width="18.7" height="58.6" fill="#dc1f2a" stroke="#4a4a4a" stroke-width="0.65"/>
<line x1="75.1" y1="490.5" x2="93.8" y2="490.5" stroke="#5a2630" stroke-width="0.85" opacity="1"/>
<text x="84.4" y="570.9" font-size="5.4" fill="#333" text-anchor="middle" style="font-family:'Liberation Serif',serif">98</text>
<text x="86.0" y="334.8" font-size="5" fill="#333" text-anchor="middle" style="font-family:'Liberation Serif',serif">n=3206</text>
<line x1="107.75" y1="378.0" x2="107.75" y2="463.2" stroke="#666" stroke-width="0.8" opacity="1"/>
<line x1="107.75" y1="520.9" x2="107.75" y2="562.4" stroke="#666" stroke-width="0.8" opacity="1"/>
<line x1="102.55" y1="378.0" x2="112.95" y2="378.0" stroke="#555" stroke-width="0.8" opacity="1"/>
<rect x="98.3" y="463.2" width="18.9" height="57.7" fill="#d81e2d" stroke="#4a4a4a" stroke-width="0.65"/>
<line x1="98.3" y1="494.5" x2="117.2" y2="494.5" stroke="#5a2630" stroke-width="0.85" opacity="1"/>
<text x="107.8" y="570.9" font-size="5.4" fill="#333" text-anchor="middle" style="font-family:'Liberation Serif',serif">97</text>
<text x="109.3" y="334.8" font-size="5" fill="#333" text-anchor="middle" style="font-family:'Liberation Serif',serif">n=2105</text>
<line x1="131.05" y1="382.5" x2="131.05" y2="465.7" stroke="#666" stroke-width="0.8" opacity="1"/>
<line x1="131.05" y1="524.4" x2="131.05" y2="562.4" stroke="#666" stroke-width="0.8" opacity="1"/>
<line x1="125.85000000000001" y1="382.5" x2="136.25" y2="382.5" stroke="#555" stroke-width="0.8" opacity="1"/>
<rect x="121.6" y="465.7" width="18.9" height="58.7" fill="#d41d30" stroke="#4a4a4a" stroke-width="0.65"/>
<line x1="121.6" y1="498.4" x2="140.5" y2="498.4" stroke="#5a2630" stroke-width="0.85" opacity="1"/>
<text x="131.1" y="570.9" font-size="5.4" fill="#333" text-anchor="middle" style="font-family:'Liberation Serif',serif">96</text>
<text x="132.7" y="334.8" font-size="5" fill="#333" text-anchor="middle" style="font-family:'Liberation Serif',serif">n=1487</text>
<line x1="154.35" y1="385.8" x2="154.35" y2="469.0" stroke="#666" stroke-width="0.8" opacity="1"/>
<line x1="154.35" y1="527.6" x2="154.35" y2="562.4" stroke="#666" stroke-width="0.8" opacity="1"/>
<line x1="149.15" y1="385.8" x2="159.54999999999998" y2="385.8" stroke="#555" stroke-width="0.8" opacity="1"/>
<rect x="145.0" y="469.0" width="18.7" height="58.6" fill="#d01d33" stroke="#4a4a4a" stroke-width="0.65"/>
<line x1="145.0" y1="501.2" x2="163.7" y2="501.2" stroke="#5a2630" stroke-width="0.85" opacity="1"/>
<text x="154.3" y="570.9" font-size="5.4" fill="#333" text-anchor="middle" style="font-family:'Liberation Serif',serif">95</text>
<text x="155.9" y="334.8" font-size="5" fill="#333" text-anchor="middle" style="font-family:'Liberation Serif',serif">n=906</text>
<line x1="177.60000000000002" y1="384.1" x2="177.60000000000002" y2="468.6" stroke="#666" stroke-width="0.8" opacity="1"/>
<line x1="177.60000000000002" y1="529.0" x2="177.60000000000002" y2="562.4" stroke="#666" stroke-width="0.8" opacity="1"/>
<line x1="172.40000000000003" y1="384.1" x2="182.8" y2="384.1" stroke="#555" stroke-width="0.8" opacity="1"/>
<rect x="168.4" y="468.6" width="18.4" height="60.4" fill="#cb1c36" stroke="#4a4a4a" stroke-width="0.65"/>
<line x1="168.4" y1="503.6" x2="186.8" y2="503.6" stroke="#5a2630" stroke-width="0.85" opacity="1"/>
<text x="177.6" y="570.9" font-size="5.4" fill="#333" text-anchor="middle" style="font-family:'Liberation Serif',serif">94</text>
<text x="179.2" y="334.8" font-size="5" fill="#333" text-anchor="middle" style="font-family:'Liberation Serif',serif">n=550</text>
<line x1="200.7" y1="365.7" x2="200.7" y2="457.3" stroke="#666" stroke-width="0.8" opacity="1"/>
<line x1="200.7" y1="521.2" x2="200.7" y2="562.4" stroke="#666" stroke-width="0.8" opacity="1"/>
<line x1="195.5" y1="365.7" x2="205.89999999999998" y2="365.7" stroke="#555" stroke-width="0.8" opacity="1"/>
<rect x="191.5" y="457.3" width="18.4" height="63.9" fill="#c61b39" stroke="#4a4a4a" stroke-width="0.65"/>
<line x1="191.5" y1="494.6" x2="209.9" y2="494.6" stroke="#5a2630" stroke-width="0.85" opacity="1"/>
<text x="200.7" y="570.9" font-size="5.4" fill="#333" text-anchor="middle" style="font-family:'Liberation Serif',serif">93</text>
<text x="202.3" y="334.8" font-size="5" fill="#333" text-anchor="middle" style="font-family:'Liberation Serif',serif">n=367</text>
<line x1="223.8" y1="366.7" x2="223.8" y2="455.5" stroke="#666" stroke-width="0.8" opacity="1"/>
<line x1="223.8" y1="520.6" x2="223.8" y2="562.4" stroke="#666" stroke-width="0.8" opacity="1"/>
<line x1="218.60000000000002" y1="366.7" x2="229.0" y2="366.7" stroke="#555" stroke-width="0.8" opacity="1"/>
<rect x="214.6" y="455.5" width="18.4" height="65.1" fill="#c11a3c" stroke="#4a4a4a" stroke-width="0.65"/>
<line x1="214.6" y1="491.2" x2="233.0" y2="491.2" stroke="#5a2630" stroke-width="0.85" opacity="1"/>
<text x="223.8" y="570.9" font-size="5.4" fill="#333" text-anchor="middle" style="font-family:'Liberation Serif',serif">92</text>
<text x="225.4" y="334.8" font-size="5" fill="#333" text-anchor="middle" style="font-family:'Liberation Serif',serif">n=258</text>
<line x1="247.35" y1="376.4" x2="247.35" y2="449.7" stroke="#666" stroke-width="0.8" opacity="1"/>
<line x1="247.35" y1="519.3" x2="247.35" y2="562.4" stroke="#666" stroke-width="0.8" opacity="1"/>
<line x1="242.15" y1="376.4" x2="252.54999999999998" y2="376.4" stroke="#555" stroke-width="0.8" opacity="1"/>
<rect x="238.0" y="449.7" width="18.7" height="69.6" fill="#bc1a3e" stroke="#4a4a4a" stroke-width="0.65"/>
<line x1="238.0" y1="493.3" x2="256.7" y2="493.3" stroke="#5a2630" stroke-width="0.85" opacity="1"/>
<text x="247.3" y="570.9" font-size="5.4" fill="#333" text-anchor="middle" style="font-family:'Liberation Serif',serif">91</text>
<text x="248.9" y="334.8" font-size="5" fill="#333" text-anchor="middle" style="font-family:'Liberation Serif',serif">n=164</text>
<line x1="270.6" y1="347.5" x2="270.6" y2="438.4" stroke="#666" stroke-width="0.8" opacity="1"/>
<line x1="270.6" y1="517.2" x2="270.6" y2="562.4" stroke="#666" stroke-width="0.8" opacity="1"/>
<rect x="261.4" y="438.4" width="18.4" height="78.8" fill="#b61a41" stroke="#4a4a4a" stroke-width="0.65"/>
<line x1="261.4" y1="482.5" x2="279.8" y2="482.5" stroke="#5a2630" stroke-width="0.85" opacity="1"/>
<text x="270.6" y="570.9" font-size="5.4" fill="#333" text-anchor="middle" style="font-family:'Liberation Serif',serif">90</text>
<text x="272.2" y="334.8" font-size="5" fill="#333" text-anchor="middle" style="font-family:'Liberation Serif',serif">n=122</text>
<line x1="293.75" y1="347.5" x2="293.75" y2="430.5" stroke="#666" stroke-width="0.8" opacity="1"/>
<line x1="293.75" y1="511.4" x2="293.75" y2="562.4" stroke="#666" stroke-width="0.8" opacity="1"/>
<rect x="284.5" y="430.5" width="18.5" height="80.9" fill="#b11a43" stroke="#4a4a4a" stroke-width="0.65"/>
<line x1="284.5" y1="473.3" x2="303.0" y2="473.3" stroke="#5a2630" stroke-width="0.85" opacity="1"/>
<text x="293.8" y="570.9" font-size="5.4" fill="#333" text-anchor="middle" style="font-family:'Liberation Serif',serif">89</text>
<text x="295.4" y="334.8" font-size="5" fill="#333" text-anchor="middle" style="font-family:'Liberation Serif',serif">n=94</text>
<line x1="317.25" y1="347.5" x2="317.25" y2="429.2" stroke="#666" stroke-width="0.8" opacity="1"/>
<line x1="317.25" y1="507.5" x2="317.25" y2="562.4" stroke="#666" stroke-width="0.8" opacity="1"/>
<rect x="307.9" y="429.2" width="18.7" height="78.3" fill="#ac1944" stroke="#4a4a4a" stroke-width="0.65"/>
<line x1="307.9" y1="463.4" x2="326.6" y2="463.4" stroke="#5a2630" stroke-width="0.85" opacity="1"/>
<text x="317.2" y="570.9" font-size="5.4" fill="#333" text-anchor="middle" style="font-family:'Liberation Serif',serif">88</text>
<text x="318.9" y="334.8" font-size="5" fill="#333" text-anchor="middle" style="font-family:'Liberation Serif',serif">n=65</text>
<line x1="26.6" y1="347.5" x2="26.6" y2="562.8" stroke="#444" stroke-width="0.8" opacity="1"/>
<line x1="26.2" y1="562.6" x2="328.9" y2="562.6" stroke="#555" stroke-width="0.8" opacity="1"/>
<text x="21.9" y="564.2" font-size="5.4" fill="#333" text-anchor="end" style="font-family:'Liberation Serif',serif">0</text>
<text x="21.9" y="528.5" font-size="5.4" fill="#333" text-anchor="end" style="font-family:'Liberation Serif',serif">2</text>
<text x="21.9" y="492.8" font-size="5.4" fill="#333" text-anchor="end" style="font-family:'Liberation Serif',serif">4</text>
<text x="21.9" y="457.1" font-size="5.4" fill="#333" text-anchor="end" style="font-family:'Liberation Serif',serif">6</text>
<text x="21.9" y="421.4" font-size="5.4" fill="#333" text-anchor="end" style="font-family:'Liberation Serif',serif">8</text>
<text x="21.9" y="385.7" font-size="5.4" fill="#333" text-anchor="end" style="font-family:'Liberation Serif',serif">10</text>
<text x="21.9" y="350.0" font-size="5.4" fill="#333" text-anchor="end" style="font-family:'Liberation Serif',serif">12</text>
<text transform="translate(14.5,496) rotate(-90)" font-size="5.1" fill="#333">Error (difference from baseline, kPa)</text>
<text x="154.6" y="577.8" font-size="5.2" fill="#333"><tspan font-style="italic">S</tspan><tspan font-size="3.6" dy="1" font-style="italic">a</tspan><tspan dy="-1" font-style="italic">O</tspan><tspan font-size="3.6" dy="1">2</tspan><tspan dy="-1"> threshold (%)</tspan></text>
<text x="372.2" y="330" font-size="11.6" fill="#111">d</text>
<line x1="434.72" y1="349.1" x2="434.72" y2="550.1" stroke="#dcdcdc" stroke-width="0.8" opacity="1"/>
<line x1="483.14" y1="349.1" x2="483.14" y2="550.1" stroke="#dcdcdc" stroke-width="0.8" opacity="1"/>
<line x1="531.56" y1="349.1" x2="531.56" y2="550.1" stroke="#dcdcdc" stroke-width="0.8" opacity="1"/>
<line x1="579.98" y1="349.1" x2="579.98" y2="550.1" stroke="#dcdcdc" stroke-width="0.8" opacity="1"/>
<line x1="628.4000000000001" y1="349.1" x2="628.4000000000001" y2="550.1" stroke="#dcdcdc" stroke-width="0.8" opacity="1"/>
<line x1="386.3" y1="540.1" x2="677.2" y2="540.1" stroke="#dcdcdc" stroke-width="0.8" opacity="1"/>
<line x1="386.3" y1="500.20000000000005" x2="677.2" y2="500.20000000000005" stroke="#dcdcdc" stroke-width="0.8" opacity="1"/>
<line x1="386.3" y1="460.30000000000007" x2="677.2" y2="460.30000000000007" stroke="#dcdcdc" stroke-width="0.8" opacity="1"/>
<line x1="386.3" y1="420.40000000000003" x2="677.2" y2="420.40000000000003" stroke="#dcdcdc" stroke-width="0.8" opacity="1"/>
<line x1="386.3" y1="380.5" x2="677.2" y2="380.5" stroke="#dcdcdc" stroke-width="0.8" opacity="1"/>
<rect x="386.3" y="349.1" width="290.9" height="201" fill="none" stroke="#d4d4d4" stroke-width="0.9"/>
<line x1="531.6" y1="349.1" x2="531.6" y2="550.1" stroke="#5b85c8" stroke-width="1.0" stroke-dasharray="3.5,1.2" opacity="1"/>
<polyline points="386.40,540.20 386.49,537.41 386.67,531.81 386.86,526.49 387.04,521.42 387.23,516.61 387.42,512.02 387.60,507.65 387.79,503.49 387.98,499.53 388.16,495.74 388.35,492.14 388.53,488.70 388.72,485.41 388.91,482.27 389.09,479.27 389.28,476.40 389.47,473.66 389.65,471.04 389.84,468.52 390.02,466.12 390.21,463.81 390.40,461.60 390.58,459.47 390.77,457.44 390.96,455.48 391.14,453.60 391.33,451.79 391.51,450.06 391.70,448.38 391.89,446.78 392.07,445.22 392.26,443.73 392.45,442.29 392.63,440.90 392.82,439.56 393.00,438.26 393.19,437.01 393.38,435.80 393.56,434.63 393.56,434.63 394.40,429.79 395.24,425.59 396.08,421.89 396.92,418.61 397.76,415.68 398.60,413.04 399.44,410.65 400.28,408.47 401.12,406.47 401.96,404.63 402.80,402.92 403.64,401.34 404.48,399.86 405.32,398.48 406.16,397.19 407.00,395.97 407.84,394.82 408.68,393.74 409.52,392.71 410.36,391.74 411.20,390.81 412.04,389.93 412.88,389.09 413.72,388.29 414.56,387.52 415.40,386.79 416.24,386.08 417.08,385.40 417.92,384.75 418.76,384.12 419.60,383.52 420.44,382.93 421.28,382.37 422.12,381.83 422.96,381.30 423.80,380.79 424.64,380.29 425.48,379.82 426.32,379.35 427.16,378.90 428.00,378.46 428.84,378.03 429.68,377.61 430.52,377.21 431.36,376.81 432.20,376.43 433.04,376.05 433.88,375.69 434.72,375.33 434.72,375.33 440.93,372.94 447.14,370.91 453.34,369.17 459.55,367.67 465.76,366.37 471.97,365.25 478.17,364.28 484.38,363.44 490.59,362.72 496.80,362.08 503.00,361.54 509.21,361.06 515.42,360.65 521.63,360.29 527.84,359.98 534.04,359.71 540.25,359.48 546.46,359.28 552.67,359.10 558.87,358.95 565.08,358.82 571.29,358.71 577.50,358.61 583.70,358.52 589.91,358.45 596.12,358.38 602.33,358.33 608.54,358.28 614.74,358.24 620.95,358.20 627.16,358.17 633.37,358.14 639.57,358.12 645.78,358.10 651.99,358.08 658.20,358.06 664.40,358.05 670.61,358.04 676.82,358.03" fill="none" stroke="#ee2a2e" stroke-width="1.05" stroke-linejoin="round"/>
<text transform="translate(381.3,543.4) scale(0.86,1)" font-size="9" fill="#222" text-anchor="end">0.4</text>
<text transform="translate(381.3,503.5) scale(0.86,1)" font-size="9" fill="#222" text-anchor="end">0.5</text>
<text transform="translate(381.3,463.6) scale(0.86,1)" font-size="9" fill="#222" text-anchor="end">0.6</text>
<text transform="translate(381.3,423.7) scale(0.86,1)" font-size="9" fill="#222" text-anchor="end">0.7</text>
<text transform="translate(381.3,383.8) scale(0.86,1)" font-size="9" fill="#222" text-anchor="end">0.8</text>
<text transform="translate(386.3,562) scale(0.86,1)" font-size="9" fill="#222" text-anchor="middle">100</text>
<text transform="translate(434.7,562) scale(0.86,1)" font-size="9" fill="#222" text-anchor="middle">98</text>
<text transform="translate(483.1,562) scale(0.86,1)" font-size="9" fill="#222" text-anchor="middle">96</text>
<text transform="translate(531.6,562) scale(0.86,1)" font-size="9" fill="#222" text-anchor="middle">94</text>
<text transform="translate(580.0,562) scale(0.86,1)" font-size="9" fill="#222" text-anchor="middle">92</text>
<text transform="translate(628.4,562) scale(0.86,1)" font-size="9" fill="#222" text-anchor="middle">90</text>
<text transform="translate(676.8,562) scale(0.86,1)" font-size="9" fill="#222" text-anchor="middle">88</text>
<text transform="translate(366.4,512.3) rotate(-90)" font-size="9.3" fill="#222" textLength="122.7" lengthAdjust="spacingAndGlyphs">Correlation with P/F  - Spearman <tspan font-style="italic">r</tspan></text>
<text x="494.6" y="572.5" font-size="9" fill="#222" textLength="72" lengthAdjust="spacingAndGlyphs">S<tspan font-size="6" dy="1.5">a</tspan><tspan dy="-1.5">O</tspan><tspan font-size="6" dy="1.5">2</tspan><tspan dy="-1.5">  threshold(%)</tspan></text>
</svg></body></html>
